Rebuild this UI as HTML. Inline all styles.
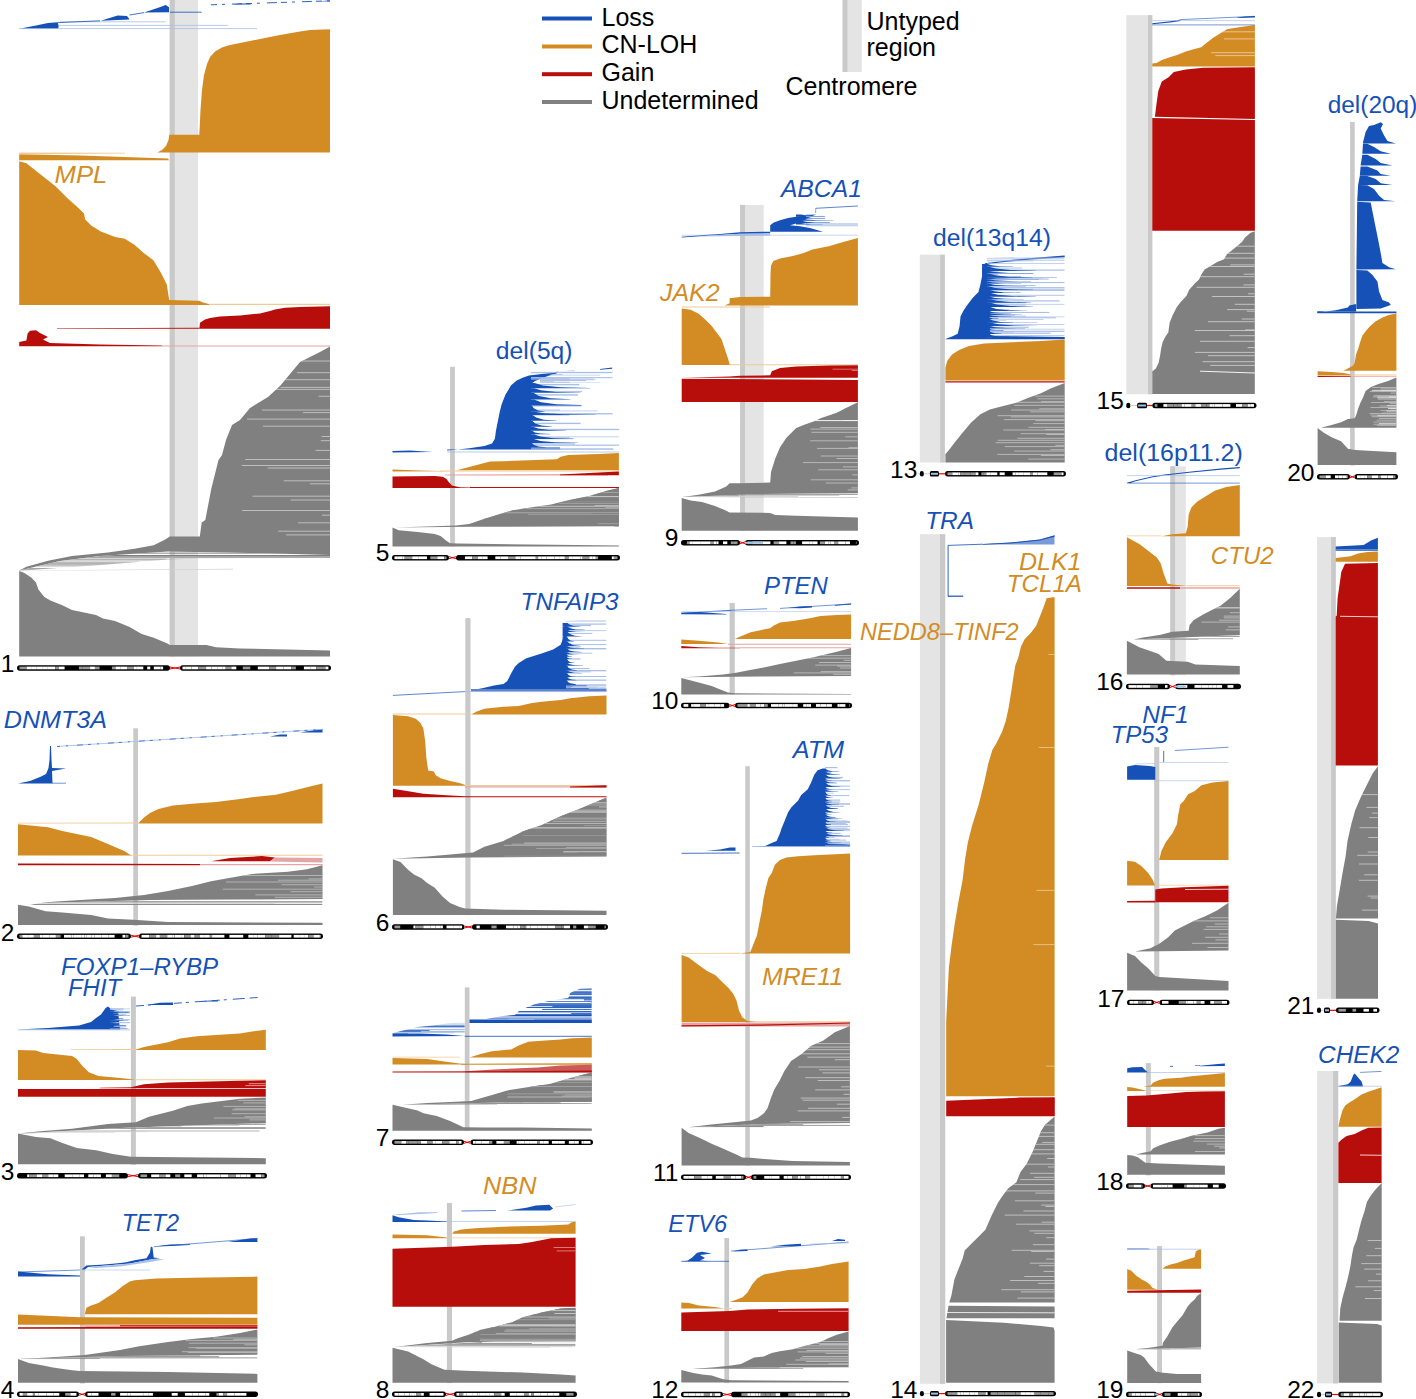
<!DOCTYPE html>
<html><head><meta charset="utf-8"><style>
html,body{margin:0;padding:0;background:#fff;}
svg{display:block;}
text{font-family:"Liberation Sans",sans-serif;}
.n{font-size:24.5px;fill:#000;}
.g{font-size:24.2px;}
.l{font-size:25px;fill:#000;}
</style></head><body>
<svg width="1416" height="1399" viewBox="0 0 1416 1399" shape-rendering="geometricPrecision">
<rect width="1416" height="1399" fill="#fff"/>
<g id="chr1">
<rect x="169.7" y="0" width="28.4" height="656.4" fill="#e4e4e4"/>
<rect x="169.7" y="0" width="5.1" height="656.4" fill="#c9c9c9"/>
<polygon points="19.2,28.8 36,25.5 48,23 57.6,22.3 58.8,26 58,28.8" fill="#1551b6"/>
<polygon points="19.2,570.4 233,568.8 233,569.5 19.2,570.8" fill="#d0d0d0"/>
<polygon points="100.8,20.8 117.6,15.6 127,16 129.6,19.6" fill="#1551b6"/>
<polygon points="144,12.5 159.7,7.2 165.7,5 169,7.2 169,12.2" fill="#1551b6"/>
<polygon points="233,4.6 240,3.6 250,3.4 251,4.4" fill="#1551b6"/>
<polygon points="318,1.2 330,0.4 330,1.6" fill="#1551b6"/>
<polygon points="157.3,152.5 162,150 166,146 168.5,140 169.3,134.7 199.3,134.7 200.5,110 202,90 204,75 207,64 210,57 215,51.6 222,47.5 228,45.5 240,43 260,39 280,35 300,31.5 310,30 330,29.3 330,152.5" fill="#d38c24"/>
<polygon points="19.2,154.2 80,155.4 168,158.6 169,160.3 19.2,160.3" fill="#d38c24"/>
<polygon points="19.2,152.6 125,152.8 125,153.6 19.2,154.2" fill="#edcc98"/>
<polygon points="19.2,161.3 26.4,163.2 38.4,172.8 55.2,186 67.2,198 76.8,206.4 84,213.6 85.2,219.6 91.2,225.6 100.8,231.6 115.2,236.9 124.8,238.8 134.4,244.8 144,253.2 153.6,260.4 160.8,272.4 166.8,284.4 169.2,300 199,300.8 203,302.5 209,304 209,305 19.2,305" fill="#d38c24"/>
<polygon points="209,303.8 330,303.8 330,305 209,305" fill="#edcc98"/>
<polygon points="199.3,328.8 200,322.8 205,319.5 210,318 220,316.6 240,315.6 260,313.4 270,311 275,309.6 285,307.7 300,307 330,306.2 330,328.8" fill="#b80e0b"/>
<polygon points="57,328.2 199.3,327.8 199.3,328.8 57,328.8" fill="#b80e0b"/>
<polygon points="19.2,342 26.4,340.5 27.6,333.6 30,330.7 36,330.3 40,333 48,337 43,339.5 50,343 100,344.5 162,345.6 162,346.3 19.2,346.3" fill="#b80e0b"/>
<polygon points="162,345.6 330,345.6 330,346.4 162,346.4" fill="#e6a4a4"/>
<polygon points="330,346.5 320,352 310,357 300,362 295,368 290,374 280,386 268,397 258,403 250,408 240,420 232,425 226,440 222,455 218.5,460 211.3,488.8 205.3,520 201.7,522.4 199.8,536.4 169.7,536.4 165.7,539.2 153.7,545.2 134.5,548.8 108,552.4 72,556 48,560.8 26.4,566.8 19.2,570.4 60,561 100,556 168,551.5 250,553 330,555" fill="#808080"/>
<clipPath id="lg1_16"><polygon points="19.2,570.4 60,561 100,556 168,551.5 250,553 330,555 330,558 200,558.5 168,559.5 100,565 19.2,570.8"/></clipPath>
<g clip-path="url(#lg1_16)"><rect x="19.2" y="551.5" width="118.4" height="0.6" fill="#808080"/><rect x="19.2" y="552.7" width="286.7" height="0.9" fill="#808080"/><rect x="19.2" y="553.7" width="103.5" height="0.6" fill="#cfcfcf"/><rect x="19.2" y="555" width="310.8" height="1" fill="#808080"/><rect x="19.2" y="556" width="310.8" height="1.1" fill="#a4a4a4"/><rect x="19.2" y="557.1" width="310.8" height="1.1" fill="#a4a4a4"/><rect x="19.2" y="558.2" width="147.2" height="1" fill="#cfcfcf"/><rect x="19.2" y="559.2" width="310.8" height="1" fill="#a4a4a4"/><rect x="19.2" y="560.2" width="238.1" height="1.1" fill="#cfcfcf"/><rect x="19.2" y="561.3" width="119.5" height="1" fill="#cfcfcf"/><rect x="19.2" y="562.3" width="262.3" height="0.9" fill="#a4a4a4"/><rect x="19.2" y="563.2" width="247.4" height="1.1" fill="#a4a4a4"/><rect x="19.2" y="564.2" width="310.8" height="0.6" fill="#a4a4a4"/><rect x="19.2" y="564.9" width="310.8" height="0.8" fill="#a4a4a4"/><rect x="19.2" y="565.6" width="310.8" height="0.8" fill="#cfcfcf"/><rect x="19.2" y="566.4" width="242.3" height="0.7" fill="#cfcfcf"/><rect x="19.2" y="568" width="310.8" height="1" fill="#a4a4a4"/><rect x="19.2" y="569" width="309.6" height="0.9" fill="#a4a4a4"/><rect x="19.2" y="569.9" width="289.5" height="0.7" fill="#cfcfcf"/><rect x="19.2" y="570.6" width="310.8" height="1.1" fill="#a4a4a4"/></g>
<polygon points="19.2,571 24,572.8 31.2,577.6 36,582.4 38.4,589.6 44.4,596.9 50.4,600.5 62.4,605.3 72,610 84,612.5 96,614.9 103,618.5 115,620.9 129.6,626.9 141.7,634 153.7,637.7 168,643.7 169.7,644.9 206.5,644.9 216,647.3 240,648.5 330,650.4 330,656.4 19.2,656.4" fill="#808080"/>
<clipPath id="all1"><polygon points="19.2,28.8 36,25.5 48,23 57.6,22.3 58.8,26 58,28.8"/><polygon points="19.2,570.4 233,568.8 233,569.5 19.2,570.8"/><polygon points="100.8,20.8 117.6,15.6 127,16 129.6,19.6"/><polygon points="144,12.5 159.7,7.2 165.7,5 169,7.2 169,12.2"/><polygon points="233,4.6 240,3.6 250,3.4 251,4.4"/><polygon points="318,1.2 330,0.4 330,1.6"/><polygon points="157.3,152.5 162,150 166,146 168.5,140 169.3,134.7 199.3,134.7 200.5,110 202,90 204,75 207,64 210,57 215,51.6 222,47.5 228,45.5 240,43 260,39 280,35 300,31.5 310,30 330,29.3 330,152.5"/><polygon points="19.2,154.2 80,155.4 168,158.6 169,160.3 19.2,160.3"/><polygon points="19.2,161.3 26.4,163.2 38.4,172.8 55.2,186 67.2,198 76.8,206.4 84,213.6 85.2,219.6 91.2,225.6 100.8,231.6 115.2,236.9 124.8,238.8 134.4,244.8 144,253.2 153.6,260.4 160.8,272.4 166.8,284.4 169.2,300 199,300.8 203,302.5 209,304 209,305 19.2,305"/><polygon points="199.3,328.8 200,322.8 205,319.5 210,318 220,316.6 240,315.6 260,313.4 270,311 275,309.6 285,307.7 300,307 330,306.2 330,328.8"/><polygon points="57,328.2 199.3,327.8 199.3,328.8 57,328.8"/><polygon points="19.2,342 26.4,340.5 27.6,333.6 30,330.7 36,330.3 40,333 48,337 43,339.5 50,343 100,344.5 162,345.6 162,346.3 19.2,346.3"/><polygon points="330,346.5 320,352 310,357 300,362 295,368 290,374 280,386 268,397 258,403 250,408 240,420 232,425 226,440 222,455 218.5,460 211.3,488.8 205.3,520 201.7,522.4 199.8,536.4 169.7,536.4 165.7,539.2 153.7,545.2 134.5,548.8 108,552.4 72,556 48,560.8 26.4,566.8 19.2,570.4 60,561 100,556 168,551.5 250,553 330,555"/><polygon points="19.2,570.4 60,561 100,556 168,551.5 250,553 330,555 330,558 200,558.5 168,559.5 100,565 19.2,570.8"/><polygon points="19.2,571 24,572.8 31.2,577.6 36,582.4 38.4,589.6 44.4,596.9 50.4,600.5 62.4,605.3 72,610 84,612.5 96,614.9 103,618.5 115,620.9 129.6,626.9 141.7,634 153.7,637.7 168,643.7 169.7,644.9 206.5,644.9 216,647.3 240,648.5 330,650.4 330,656.4 19.2,656.4"/></clipPath>
<g clip-path="url(#all1)">
<line x1="273.2" y1="361" x2="330" y2="361" stroke="#d8d8d8" stroke-width="0.7"/>
<line x1="297" y1="372.7" x2="330" y2="372.7" stroke="#d8d8d8" stroke-width="0.7"/>
<line x1="271.2" y1="379.7" x2="330" y2="379.7" stroke="#d8d8d8" stroke-width="0.7"/>
<line x1="280.6" y1="387.4" x2="330" y2="387.4" stroke="#d8d8d8" stroke-width="0.7"/>
<line x1="273.3" y1="389.4" x2="330" y2="389.4" stroke="#d8d8d8" stroke-width="0.7"/>
<line x1="318.6" y1="396.3" x2="330" y2="396.3" stroke="#d8d8d8" stroke-width="0.7"/>
<line x1="261.9" y1="410" x2="330" y2="410" stroke="#d8d8d8" stroke-width="0.7"/>
<line x1="303" y1="412.6" x2="330" y2="412.6" stroke="#d8d8d8" stroke-width="0.7"/>
<line x1="247" y1="419.1" x2="330" y2="419.1" stroke="#d8d8d8" stroke-width="0.7"/>
<line x1="263" y1="426.2" x2="330" y2="426.2" stroke="#d8d8d8" stroke-width="0.7"/>
<line x1="321.5" y1="436.5" x2="330" y2="436.5" stroke="#d8d8d8" stroke-width="0.7"/>
<line x1="320.8" y1="440.7" x2="330" y2="440.7" stroke="#d8d8d8" stroke-width="0.7"/>
<line x1="315.6" y1="450.4" x2="330" y2="450.4" stroke="#d8d8d8" stroke-width="0.7"/>
<line x1="245.2" y1="459.5" x2="330" y2="459.5" stroke="#d8d8d8" stroke-width="0.7"/>
<line x1="241.8" y1="465.5" x2="330" y2="465.5" stroke="#d8d8d8" stroke-width="0.7"/>
<line x1="267.6" y1="468" x2="330" y2="468" stroke="#d8d8d8" stroke-width="0.7"/>
<line x1="283.8" y1="480.8" x2="330" y2="480.8" stroke="#d8d8d8" stroke-width="0.7"/>
<line x1="309.9" y1="483.8" x2="330" y2="483.8" stroke="#d8d8d8" stroke-width="0.7"/>
<line x1="252.5" y1="496.2" x2="330" y2="496.2" stroke="#d8d8d8" stroke-width="0.7"/>
<line x1="290.6" y1="500" x2="330" y2="500" stroke="#d8d8d8" stroke-width="0.7"/>
<line x1="242" y1="510.5" x2="330" y2="510.5" stroke="#d8d8d8" stroke-width="0.7"/>
<line x1="322" y1="515.2" x2="330" y2="515.2" stroke="#d8d8d8" stroke-width="0.7"/>
<line x1="298.1" y1="522.8" x2="330" y2="522.8" stroke="#d8d8d8" stroke-width="0.7"/>
<line x1="278.2" y1="531.2" x2="330" y2="531.2" stroke="#d8d8d8" stroke-width="0.7"/>
<line x1="286.1" y1="534.9" x2="330" y2="534.9" stroke="#d8d8d8" stroke-width="0.7"/>
</g>
<line x1="19.2" y1="28.6" x2="257" y2="28.6" stroke="#a9bfe6" stroke-width="0.8"/>
<line x1="58" y1="25.4" x2="228" y2="25.4" stroke="#a9bfe6" stroke-width="0.8"/>
<line x1="60" y1="21.8" x2="165.7" y2="21.8" stroke="#a9bfe6" stroke-width="0.8"/>
<line x1="170" y1="12.2" x2="201.7" y2="12.2" stroke="#1551b6" stroke-width="0.8"/>
<line x1="58" y1="22.6" x2="100" y2="20.8" stroke="#1551b6" stroke-width="0.8"/>
<line x1="129.6" y1="15" x2="144" y2="12.6" stroke="#1551b6" stroke-width="0.8"/>
<line x1="211" y1="4.8" x2="330" y2="0.8" stroke="#1551b6" stroke-width="0.9" stroke-dasharray="6 5 3 7 10 4"/>
<rect x="17" y="665.3" width="153" height="5.4" rx="2.7" fill="#000"/>
<rect x="19.5" y="666.6" width="7.1" height="2.7" fill="#999"/>
<rect x="26.6" y="666.6" width="4.5" height="2.7" fill="#fff"/>
<rect x="31.1" y="666.6" width="5.1" height="2.7" fill="#fff"/>
<rect x="36.2" y="666.6" width="6.7" height="2.7" fill="#fff"/>
<rect x="42.9" y="666.6" width="4.9" height="2.7" fill="#fff"/>
<rect x="47.7" y="666.6" width="7.4" height="2.7" fill="#fff"/>
<rect x="55.2" y="666.6" width="3.7" height="2.7" fill="#999"/>
<rect x="58.9" y="666.6" width="5.7" height="2.7" fill="#fff"/>
<rect x="78.9" y="666.6" width="3.9" height="2.7" fill="#999"/>
<rect x="82.8" y="666.6" width="7.4" height="2.7" fill="#999"/>
<rect x="90.1" y="666.6" width="4.8" height="2.7" fill="#fff"/>
<rect x="95" y="666.6" width="4.6" height="2.7" fill="#999"/>
<rect x="111.9" y="666.6" width="3.6" height="2.7" fill="#999"/>
<rect x="115.5" y="666.6" width="5.3" height="2.7" fill="#fff"/>
<rect x="120.8" y="666.6" width="6.3" height="2.7" fill="#fff"/>
<rect x="127.1" y="666.6" width="6.9" height="2.7" fill="#999"/>
<rect x="134" y="666.6" width="2" height="2.7" fill="#fff"/>
<rect x="136.1" y="666.6" width="7.2" height="2.7" fill="#fff"/>
<rect x="147.2" y="666.6" width="3.1" height="2.7" fill="#fff"/>
<rect x="153.8" y="666.6" width="6.8" height="2.7" fill="#fff"/>
<rect x="160.6" y="666.6" width="2.5" height="2.7" fill="#fff"/>
<line x1="170" y1="667" x2="180" y2="669" stroke="#e00" stroke-width="1"/>
<line x1="170" y1="669" x2="180" y2="667" stroke="#e00" stroke-width="1"/>
<rect x="180" y="665.3" width="151" height="5.4" rx="2.7" fill="#000"/>
<rect x="182.5" y="666.6" width="2.7" height="2.7" fill="#fff"/>
<rect x="185.2" y="666.6" width="6.2" height="2.7" fill="#fff"/>
<rect x="191.4" y="666.6" width="6.9" height="2.7" fill="#fff"/>
<rect x="198.3" y="666.6" width="7.8" height="2.7" fill="#999"/>
<rect x="206.1" y="666.6" width="5.5" height="2.7" fill="#fff"/>
<rect x="211.6" y="666.6" width="5.6" height="2.7" fill="#fff"/>
<rect x="217.2" y="666.6" width="5.5" height="2.7" fill="#fff"/>
<rect x="222.6" y="666.6" width="3.1" height="2.7" fill="#fff"/>
<rect x="225.8" y="666.6" width="5.7" height="2.7" fill="#999"/>
<rect x="231.4" y="666.6" width="4.9" height="2.7" fill="#fff"/>
<rect x="242.8" y="666.6" width="7.5" height="2.7" fill="#999"/>
<rect x="257.8" y="666.6" width="5.2" height="2.7" fill="#fff"/>
<rect x="263" y="666.6" width="6.2" height="2.7" fill="#fff"/>
<rect x="269.2" y="666.6" width="6.9" height="2.7" fill="#999"/>
<rect x="276.1" y="666.6" width="7.4" height="2.7" fill="#fff"/>
<rect x="283.5" y="666.6" width="7.7" height="2.7" fill="#fff"/>
<rect x="291.2" y="666.6" width="4.7" height="2.7" fill="#999"/>
<rect x="303.9" y="666.6" width="6.8" height="2.7" fill="#fff"/>
<rect x="310.6" y="666.6" width="5.7" height="2.7" fill="#fff"/>
<rect x="316.3" y="666.6" width="5.8" height="2.7" fill="#999"/>
<rect x="322.1" y="666.6" width="3.5" height="2.7" fill="#999"/>
<rect x="325.5" y="666.6" width="2.7" height="2.7" fill="#fff"/>
<rect x="328.2" y="666.6" width="0.3" height="2.7" fill="#fff"/>
<text x="14.5" y="671.5" text-anchor="end" class="n">1</text>
</g>
<g id="chr2">
<rect x="133.3" y="728.3" width="4.7" height="197.4" fill="#c9c9c9"/>
<polygon points="18,783.6 30,781 40,777 46,774 48.5,768 49.5,760 50,746 51,746 51.5,760 52,768 66,768.4 52,771 52.5,783.6" fill="#1551b6"/>
<polygon points="270,736.5 280,734.6 287,734.6 287,736.5" fill="#1551b6"/>
<polygon points="300,732.5 316,729.7 322.5,729 322.5,732.5" fill="#1551b6"/>
<polygon points="138,823.6 144,817.6 150,813 158.5,809 172.9,805.6 192,803.7 216,802 240,799 252,797.2 276,794.8 293,790.8 312,786 322.5,783.6 322.5,823.6" fill="#d38c24"/>
<polygon points="18,822.8 138,822.4 138,823.6 18,823.6" fill="#edcc98"/>
<polygon points="18,824.3 48,827.3 62.4,830.9 91.2,836.9 108,844 124.8,851.3 129.6,854.4 133,855.6 18,855.6" fill="#d38c24"/>
<polygon points="133,854.8 322.5,854.8 322.5,855.8 133,855.8" fill="#edcc98"/>
<polygon points="211,861.3 230,858 262,856 275,857.5 270,861.3" fill="#b80e0b"/>
<polygon points="275,857.5 322.5,858 322.5,862.5 270,861.5" fill="#e6a4a4"/>
<polygon points="18,863.6 200,864 200,865.3 18,865.3" fill="#b80e0b"/>
<polygon points="200,864 322.5,864 322.5,865.3 200,865.3" fill="#e6a4a4"/>
<polygon points="322.5,865.2 307,869.3 288,871.7 252,874 230.5,877.7 211,881.3 192,886 168,891 144,895 115,898 72,900.5 52.8,901.7 40,903 150,900 322.5,899" fill="#808080"/>
<clipPath id="lg2_12"><polygon points="40,903 150,900 322.5,899 322.5,905 30,905"/></clipPath>
<g clip-path="url(#lg2_12)"><rect x="30" y="899" width="228.2" height="1" fill="#cfcfcf"/><rect x="30" y="901.1" width="292.5" height="0.7" fill="#808080"/><rect x="30" y="901.8" width="292.5" height="0.9" fill="#a4a4a4"/><rect x="30" y="902.7" width="292.5" height="0.7" fill="#cfcfcf"/><rect x="30" y="903.4" width="244.7" height="0.7" fill="#cfcfcf"/><rect x="30" y="904.1" width="292.5" height="0.9" fill="#808080"/></g>
<polygon points="18,904.8 28.8,906.5 45.6,911.3 62.4,912.5 91.2,914.9 108,918.5 133.3,919.7 168,922 322.5,922.8 322.5,925 18,925" fill="#808080"/>
<clipPath id="all2"><polygon points="18,783.6 30,781 40,777 46,774 48.5,768 49.5,760 50,746 51,746 51.5,760 52,768 66,768.4 52,771 52.5,783.6"/><polygon points="270,736.5 280,734.6 287,734.6 287,736.5"/><polygon points="300,732.5 316,729.7 322.5,729 322.5,732.5"/><polygon points="138,823.6 144,817.6 150,813 158.5,809 172.9,805.6 192,803.7 216,802 240,799 252,797.2 276,794.8 293,790.8 312,786 322.5,783.6 322.5,823.6"/><polygon points="18,824.3 48,827.3 62.4,830.9 91.2,836.9 108,844 124.8,851.3 129.6,854.4 133,855.6 18,855.6"/><polygon points="211,861.3 230,858 262,856 275,857.5 270,861.3"/><polygon points="18,863.6 200,864 200,865.3 18,865.3"/><polygon points="322.5,865.2 307,869.3 288,871.7 252,874 230.5,877.7 211,881.3 192,886 168,891 144,895 115,898 72,900.5 52.8,901.7 40,903 150,900 322.5,899"/><polygon points="40,903 150,900 322.5,899 322.5,905 30,905"/><polygon points="18,904.8 28.8,906.5 45.6,911.3 62.4,912.5 91.2,914.9 108,918.5 133.3,919.7 168,922 322.5,922.8 322.5,925 18,925"/></clipPath>
<g clip-path="url(#all2)">
<line x1="222.9" y1="875.5" x2="322.5" y2="875.5" stroke="#c8c8c8" stroke-width="0.7"/>
<line x1="308.6" y1="878.9" x2="322.5" y2="878.9" stroke="#c8c8c8" stroke-width="0.7"/>
<line x1="278" y1="880.2" x2="322.5" y2="880.2" stroke="#c8c8c8" stroke-width="0.7"/>
<line x1="226" y1="882" x2="322.5" y2="882" stroke="#c8c8c8" stroke-width="0.7"/>
<line x1="281.4" y1="884.7" x2="322.5" y2="884.7" stroke="#c8c8c8" stroke-width="0.7"/>
<line x1="314.1" y1="887" x2="322.5" y2="887" stroke="#c8c8c8" stroke-width="0.7"/>
<line x1="222.7" y1="889.2" x2="322.5" y2="889.2" stroke="#c8c8c8" stroke-width="0.7"/>
<line x1="290.5" y1="891.7" x2="322.5" y2="891.7" stroke="#c8c8c8" stroke-width="0.7"/>
<line x1="255.4" y1="894.9" x2="322.5" y2="894.9" stroke="#c8c8c8" stroke-width="0.7"/>
<line x1="274.9" y1="897.3" x2="322.5" y2="897.3" stroke="#c8c8c8" stroke-width="0.7"/>
</g>
<line x1="57" y1="746.5" x2="322.5" y2="729.3" stroke="#a9bfe6" stroke-width="0.9"/>
<line x1="57" y1="746.5" x2="322.5" y2="729.3" stroke="#1551b6" stroke-width="0.7" stroke-dasharray="3 6 2 9 6 5"/>
<line x1="52" y1="783.2" x2="66" y2="783.2" stroke="#1551b6" stroke-width="0.6"/>
<rect x="17" y="933.5" width="114" height="5.4" rx="2.7" fill="#000"/>
<rect x="19.5" y="934.9" width="2.8" height="2.7" fill="#999"/>
<rect x="22.3" y="934.9" width="6.6" height="2.7" fill="#fff"/>
<rect x="28.9" y="934.9" width="5" height="2.7" fill="#fff"/>
<rect x="33.9" y="934.9" width="5.9" height="2.7" fill="#999"/>
<rect x="39.8" y="934.9" width="2.6" height="2.7" fill="#fff"/>
<rect x="42.3" y="934.9" width="7" height="2.7" fill="#fff"/>
<rect x="49.3" y="934.9" width="6.6" height="2.7" fill="#fff"/>
<rect x="55.9" y="934.9" width="4.7" height="2.7" fill="#999"/>
<rect x="64" y="934.9" width="7.4" height="2.7" fill="#fff"/>
<rect x="71.4" y="934.9" width="2.2" height="2.7" fill="#fff"/>
<rect x="73.5" y="934.9" width="7.6" height="2.7" fill="#fff"/>
<rect x="81.2" y="934.9" width="3.3" height="2.7" fill="#fff"/>
<rect x="84.5" y="934.9" width="2.2" height="2.7" fill="#fff"/>
<rect x="86.6" y="934.9" width="4.6" height="2.7" fill="#fff"/>
<rect x="91.3" y="934.9" width="3.4" height="2.7" fill="#fff"/>
<rect x="94.7" y="934.9" width="3.3" height="2.7" fill="#fff"/>
<rect x="98" y="934.9" width="3.7" height="2.7" fill="#fff"/>
<rect x="101.7" y="934.9" width="7" height="2.7" fill="#fff"/>
<rect x="108.7" y="934.9" width="5.9" height="2.7" fill="#fff"/>
<rect x="122.5" y="934.9" width="2.7" height="2.7" fill="#fff"/>
<rect x="125.3" y="934.9" width="3.2" height="2.7" fill="#999"/>
<line x1="131" y1="935.2" x2="139" y2="937.2" stroke="#e00" stroke-width="1"/>
<line x1="131" y1="937.2" x2="139" y2="935.2" stroke="#e00" stroke-width="1"/>
<rect x="139" y="933.5" width="184" height="5.4" rx="2.7" fill="#000"/>
<rect x="141.5" y="934.9" width="7.6" height="2.7" fill="#fff"/>
<rect x="149.1" y="934.9" width="7" height="2.7" fill="#999"/>
<rect x="156.1" y="934.9" width="3.8" height="2.7" fill="#fff"/>
<rect x="159.9" y="934.9" width="7.3" height="2.7" fill="#999"/>
<rect x="167.2" y="934.9" width="5" height="2.7" fill="#fff"/>
<rect x="172.2" y="934.9" width="2.2" height="2.7" fill="#fff"/>
<rect x="174.5" y="934.9" width="6.8" height="2.7" fill="#fff"/>
<rect x="181.2" y="934.9" width="3" height="2.7" fill="#fff"/>
<rect x="184.3" y="934.9" width="6.2" height="2.7" fill="#999"/>
<rect x="190.5" y="934.9" width="4.2" height="2.7" fill="#fff"/>
<rect x="194.7" y="934.9" width="5.1" height="2.7" fill="#999"/>
<rect x="199.8" y="934.9" width="5.1" height="2.7" fill="#fff"/>
<rect x="204.9" y="934.9" width="4.9" height="2.7" fill="#fff"/>
<rect x="209.9" y="934.9" width="2.3" height="2.7" fill="#999"/>
<rect x="212.1" y="934.9" width="7.9" height="2.7" fill="#fff"/>
<rect x="220" y="934.9" width="4.4" height="2.7" fill="#fff"/>
<rect x="229.4" y="934.9" width="6.6" height="2.7" fill="#fff"/>
<rect x="236" y="934.9" width="7.2" height="2.7" fill="#fff"/>
<rect x="248.3" y="934.9" width="5.5" height="2.7" fill="#fff"/>
<rect x="253.7" y="934.9" width="3.6" height="2.7" fill="#fff"/>
<rect x="257.3" y="934.9" width="7.7" height="2.7" fill="#fff"/>
<rect x="265.1" y="934.9" width="6.7" height="2.7" fill="#999"/>
<rect x="271.8" y="934.9" width="7.3" height="2.7" fill="#999"/>
<rect x="279.1" y="934.9" width="6.9" height="2.7" fill="#fff"/>
<rect x="286" y="934.9" width="5.4" height="2.7" fill="#fff"/>
<rect x="293.7" y="934.9" width="5.4" height="2.7" fill="#fff"/>
<rect x="299.1" y="934.9" width="5" height="2.7" fill="#fff"/>
<rect x="304.1" y="934.9" width="4.1" height="2.7" fill="#fff"/>
<rect x="308.3" y="934.9" width="5.2" height="2.7" fill="#999"/>
<rect x="313.5" y="934.9" width="5.7" height="2.7" fill="#fff"/>
<rect x="319.2" y="934.9" width="1.3" height="2.7" fill="#fff"/>
<text x="14.5" y="940.5" text-anchor="end" class="n">2</text>
</g>
<g id="chr3">
<rect x="130.9" y="996.6" width="5" height="168.1" fill="#c9c9c9"/>
<polygon points="18,1029.5 48,1028 79,1025.5 91,1022 96,1018 101,1014.5 105.6,1008 108,1006.5 111.6,1009.5 118,1011 120,1029.5" fill="#1551b6"/>
<polygon points="146,1005 160,1002.8 173,1002.6 173,1005" fill="#1551b6"/>
<polygon points="199,1001.5 210,1000.4 218,1000.6 218,1001.5" fill="#1551b6"/>
<polygon points="136,1049.6 144,1047 168,1042.2 180,1038.6 197,1036.2 216,1035 240,1033.4 252,1031.4 265.8,1029.8 265.8,1049.9 136,1049.9" fill="#d38c24"/>
<polygon points="71,1049.2 136,1049 136,1049.9 71,1049.9" fill="#edcc98"/>
<polygon points="18,1049.9 36,1050.6 43.2,1053 72,1056 76.8,1059 81.6,1065 88.8,1072.2 98.4,1075.9 115.2,1077.5 129.7,1079 135,1080 18,1080" fill="#d38c24"/>
<polygon points="135,1079.3 265.8,1079.3 265.8,1080.2 135,1080.2" fill="#edcc98"/>
<polygon points="99.6,1087.8 130.9,1087.2 144,1084.3 168,1082.6 240,1080.7 265.8,1080.3 265.8,1088.2 99.6,1088.2" fill="#b80e0b"/>
<polygon points="18,1088.9 265.8,1088.9 265.8,1096.7 18,1096.7" fill="#b80e0b"/>
<polygon points="265.8,1097.5 240,1098.7 201.7,1103.5 187.3,1105.9 172.9,1110.7 148.9,1116.7 135.9,1122.2 108,1123.9 72,1128.7 43.2,1131 18,1133.5 120,1128 265.8,1123" fill="#808080"/>
<clipPath id="lg3_10"><polygon points="18,1133.5 120,1128 265.8,1123 265.8,1132.3 40,1133"/></clipPath>
<g clip-path="url(#lg3_10)"><rect x="18" y="1123" width="81.1" height="0.7" fill="#cfcfcf"/><rect x="18" y="1123.7" width="247.8" height="1" fill="#808080"/><rect x="18" y="1124.7" width="221.5" height="0.8" fill="#a4a4a4"/><rect x="18" y="1125.5" width="79.7" height="0.8" fill="#808080"/><rect x="18" y="1126.2" width="163.6" height="0.8" fill="#cfcfcf"/><rect x="18" y="1127" width="247.8" height="1.2" fill="#a4a4a4"/><rect x="18" y="1128.2" width="247.8" height="0.7" fill="#808080"/><rect x="18" y="1130.6" width="241.4" height="0.8" fill="#a4a4a4"/><rect x="18" y="1131.4" width="129" height="0.7" fill="#cfcfcf"/><rect x="18" y="1132.7" width="96.6" height="0.7" fill="#a4a4a4"/><rect x="18" y="1133.4" width="101.8" height="1" fill="#808080"/></g>
<polygon points="18,1133.5 24,1134.7 36,1137 50.4,1138.3 62.4,1143 76.8,1147.9 96,1150.3 112.8,1153.9 130.9,1156.8 265.8,1158.2 265.8,1164.2 18,1164.2" fill="#808080"/>
<clipPath id="all3"><polygon points="18,1029.5 48,1028 79,1025.5 91,1022 96,1018 101,1014.5 105.6,1008 108,1006.5 111.6,1009.5 118,1011 120,1029.5"/><polygon points="146,1005 160,1002.8 173,1002.6 173,1005"/><polygon points="199,1001.5 210,1000.4 218,1000.6 218,1001.5"/><polygon points="136,1049.6 144,1047 168,1042.2 180,1038.6 197,1036.2 216,1035 240,1033.4 252,1031.4 265.8,1029.8 265.8,1049.9 136,1049.9"/><polygon points="18,1049.9 36,1050.6 43.2,1053 72,1056 76.8,1059 81.6,1065 88.8,1072.2 98.4,1075.9 115.2,1077.5 129.7,1079 135,1080 18,1080"/><polygon points="99.6,1087.8 130.9,1087.2 144,1084.3 168,1082.6 240,1080.7 265.8,1080.3 265.8,1088.2 99.6,1088.2"/><polygon points="18,1088.9 265.8,1088.9 265.8,1096.7 18,1096.7"/><polygon points="265.8,1097.5 240,1098.7 201.7,1103.5 187.3,1105.9 172.9,1110.7 148.9,1116.7 135.9,1122.2 108,1123.9 72,1128.7 43.2,1131 18,1133.5 120,1128 265.8,1123"/><polygon points="18,1133.5 120,1128 265.8,1123 265.8,1132.3 40,1133"/><polygon points="18,1133.5 24,1134.7 36,1137 50.4,1138.3 62.4,1143 76.8,1147.9 96,1150.3 112.8,1153.9 130.9,1156.8 265.8,1158.2 265.8,1164.2 18,1164.2"/></clipPath>
<g clip-path="url(#all3)">
<line x1="237.5" y1="1100.4" x2="265.8" y2="1100.4" stroke="#c8c8c8" stroke-width="0.7"/>
<line x1="243.3" y1="1102.9" x2="265.8" y2="1102.9" stroke="#c8c8c8" stroke-width="0.7"/>
<line x1="223.4" y1="1106.4" x2="265.8" y2="1106.4" stroke="#c8c8c8" stroke-width="0.7"/>
<line x1="234.4" y1="1108.8" x2="265.8" y2="1108.8" stroke="#c8c8c8" stroke-width="0.7"/>
<line x1="232.2" y1="1109.9" x2="265.8" y2="1109.9" stroke="#c8c8c8" stroke-width="0.7"/>
<line x1="231.6" y1="1113.7" x2="265.8" y2="1113.7" stroke="#c8c8c8" stroke-width="0.7"/>
<line x1="244.7" y1="1116.8" x2="265.8" y2="1116.8" stroke="#c8c8c8" stroke-width="0.7"/>
<line x1="213.8" y1="1118" x2="265.8" y2="1118" stroke="#c8c8c8" stroke-width="0.7"/>
<line x1="249.3" y1="1119.9" x2="265.8" y2="1119.9" stroke="#c8c8c8" stroke-width="0.7"/>
<line x1="248.8" y1="1083.7" x2="265.8" y2="1083.7" stroke="#f0b0b0" stroke-width="0.8"/>
<line x1="245.4" y1="1085.6" x2="265.8" y2="1085.6" stroke="#f0b0b0" stroke-width="0.8"/>
</g>
<clipPath id="clip3_0"><polygon points="110,1008 130,1008 130,1029.5 110,1029.5"/></clipPath>
<g clip-path="url(#clip3_0)"><rect x="110" y="1008" width="13.7" height="0.6" fill="#a9bfe6"/><rect x="110" y="1008.6" width="20" height="0.7" fill="#a9bfe6"/><rect x="110" y="1009.3" width="13.2" height="1.1" fill="#a9bfe6"/><rect x="110" y="1011" width="20" height="1.2" fill="#a9bfe6"/><rect x="110" y="1012.2" width="20" height="1.2" fill="#a9bfe6"/><rect x="110" y="1013.4" width="4.2" height="0.8" fill="#a9bfe6"/><rect x="110" y="1014.9" width="20" height="1.1" fill="#a9bfe6"/><rect x="110" y="1019.2" width="20" height="1" fill="#a9bfe6"/><rect x="110" y="1020.2" width="12.9" height="0.8" fill="#a9bfe6"/><rect x="110" y="1022.1" width="20" height="1.1" fill="#a9bfe6"/><rect x="110" y="1024.9" width="13" height="0.7" fill="#a9bfe6"/><rect x="110" y="1025.6" width="16" height="1.2" fill="#a9bfe6"/><rect x="110" y="1028.3" width="17.1" height="0.7" fill="#a9bfe6"/></g>
<polygon points="108,1010 112.4,1010 113.4,1010.6 115.5,1011 119,1011.1 119,1011.3 108,1011.3" fill="#1551b6"/>
<polygon points="108,1011.3 113,1011.3 115.3,1012 120.3,1012.6 128.6,1012.6 128.6,1012.9 108,1012.9" fill="#1551b6"/>
<polygon points="108,1012.9 112.8,1012.9 114.8,1013.7 119,1014.4 126.1,1014.5 126.1,1014.7 108,1014.7" fill="#1551b6"/>
<polygon points="108,1014.7 112.7,1014.7 114.2,1015.3 117.6,1015.8 123.1,1015.8 123.1,1016.1 108,1016.1" fill="#1551b6"/>
<polygon points="108,1016.1 112.7,1016.1 114.3,1017.1 117.7,1017.9 123.3,1018.1 123.3,1018.4 108,1018.4" fill="#1551b6"/>
<polygon points="108,1018.4 113,1018.4 115.3,1019.5 120.2,1020.3 128.3,1020.5 128.3,1020.8 108,1020.8" fill="#1551b6"/>
<polygon points="108,1020.8 112.2,1020.8 112.8,1021.6 114,1022.1 116,1022.2 116,1022.5 108,1022.5" fill="#1551b6"/>
<polygon points="108,1022.5 112.3,1022.5 113.2,1023.5 114.9,1024.2 117.8,1024.4 117.8,1024.7 108,1024.7" fill="#1551b6"/>
<polygon points="108,1024.7 112.9,1024.7 114.8,1025.2 119.1,1025.6 126.2,1025.6 126.2,1025.9 108,1025.9" fill="#1551b6"/>
<polygon points="108,1025.9 112.9,1025.9 115.1,1026.9 119.9,1027.7 127.7,1027.9 127.7,1028.2 108,1028.2" fill="#1551b6"/>
<line x1="136" y1="1006" x2="258" y2="997.5" stroke="#1551b6" stroke-width="0.9" stroke-dasharray="8 4 3 6 12 5"/>
<line x1="18" y1="1029.8" x2="130" y2="1029.8" stroke="#a9bfe6" stroke-width="0.8"/>
<rect x="17" y="1173" width="111" height="5.4" rx="2.7" fill="#000"/>
<rect x="27.2" y="1174.4" width="2.3" height="2.7" fill="#fff"/>
<rect x="29.6" y="1174.4" width="7" height="2.7" fill="#999"/>
<rect x="36.6" y="1174.4" width="6" height="2.7" fill="#fff"/>
<rect x="42.6" y="1174.4" width="5.6" height="2.7" fill="#999"/>
<rect x="48.2" y="1174.4" width="5.5" height="2.7" fill="#fff"/>
<rect x="53.7" y="1174.4" width="4.6" height="2.7" fill="#fff"/>
<rect x="64.7" y="1174.4" width="7.7" height="2.7" fill="#fff"/>
<rect x="72.3" y="1174.4" width="4.7" height="2.7" fill="#fff"/>
<rect x="77" y="1174.4" width="2.2" height="2.7" fill="#fff"/>
<rect x="79.2" y="1174.4" width="4.8" height="2.7" fill="#fff"/>
<rect x="88.3" y="1174.4" width="5.2" height="2.7" fill="#fff"/>
<rect x="93.5" y="1174.4" width="3.4" height="2.7" fill="#fff"/>
<rect x="96.9" y="1174.4" width="4" height="2.7" fill="#fff"/>
<rect x="105.9" y="1174.4" width="6" height="2.7" fill="#fff"/>
<rect x="111.9" y="1174.4" width="7.4" height="2.7" fill="#999"/>
<line x1="128" y1="1174.7" x2="138" y2="1176.7" stroke="#e00" stroke-width="1"/>
<line x1="128" y1="1176.7" x2="138" y2="1174.7" stroke="#e00" stroke-width="1"/>
<rect x="138" y="1173" width="129" height="5.4" rx="2.7" fill="#000"/>
<rect x="140.5" y="1174.4" width="6.6" height="2.7" fill="#999"/>
<rect x="151.2" y="1174.4" width="7.8" height="2.7" fill="#fff"/>
<rect x="159" y="1174.4" width="6.5" height="2.7" fill="#999"/>
<rect x="165.5" y="1174.4" width="4.8" height="2.7" fill="#fff"/>
<rect x="175.2" y="1174.4" width="5" height="2.7" fill="#999"/>
<rect x="184.3" y="1174.4" width="7.4" height="2.7" fill="#fff"/>
<rect x="197.1" y="1174.4" width="6.3" height="2.7" fill="#fff"/>
<rect x="203.5" y="1174.4" width="3.3" height="2.7" fill="#fff"/>
<rect x="206.8" y="1174.4" width="6.2" height="2.7" fill="#fff"/>
<rect x="213" y="1174.4" width="7.4" height="2.7" fill="#fff"/>
<rect x="220.5" y="1174.4" width="7.5" height="2.7" fill="#fff"/>
<rect x="227.9" y="1174.4" width="7.7" height="2.7" fill="#999"/>
<rect x="235.7" y="1174.4" width="5" height="2.7" fill="#fff"/>
<rect x="240.7" y="1174.4" width="5.9" height="2.7" fill="#fff"/>
<rect x="246.6" y="1174.4" width="3.9" height="2.7" fill="#fff"/>
<rect x="255.5" y="1174.4" width="5.7" height="2.7" fill="#fff"/>
<rect x="261.3" y="1174.4" width="3.2" height="2.7" fill="#999"/>
<text x="14.5" y="1179.5" text-anchor="end" class="n">3</text>
</g>
<g id="chr4">
<rect x="80" y="1236.3" width="4.8" height="147.2" fill="#c9c9c9"/>
<polygon points="18,1271.4 48,1274.2 80,1275.6 80,1276.6 18,1276.6" fill="#1551b6"/>
<polygon points="81.6,1269.4 86.4,1265.4 100.8,1264.8 112.8,1263.8 124.8,1262.6 134.5,1260.2 146.5,1258.2 150,1252.6 150.8,1246.6 152.5,1247.3 153.7,1257.4 160,1258.2 153,1259 130,1263.6 100,1266 88,1267 85,1269.5" fill="#1551b6"/>
<polygon points="88,1267 100,1266 130,1263.6 153,1259 165,1259.2 150,1262 120,1266.5 95,1268" fill="#a9bfe6"/>
<polygon points="158,1246 170,1244.5 190,1244.2 190,1245 170,1246" fill="#1551b6"/>
<polygon points="228,1242 240,1240 250,1238.6 257.4,1238.2 257.4,1242" fill="#1551b6"/>
<polygon points="84.8,1314.3 86.4,1307.8 91.2,1305.4 98.4,1303 105.6,1298.2 115.2,1292.2 122.4,1286.2 129.7,1281.4 134.5,1280.2 156,1278.6 192,1277.8 257.4,1276.6 257.4,1314.3" fill="#d38c24"/>
<polygon points="18,1314.6 80,1317.3 257.4,1317.8 257.4,1324.7 18,1324.7" fill="#d38c24"/>
<polygon points="85,1325.3 257.4,1325.3 257.4,1327.2 85,1327.2" fill="#e6a4a4"/>
<polygon points="18,1327.2 257.4,1326.6 257.4,1328.8 18,1328.8" fill="#b80e0b"/>
<polygon points="120,1325.3 257.4,1325.3 257.4,1326.2 120,1326.2" fill="#b80e0b"/>
<polygon points="257.4,1329.5 240,1333 216,1336.7 192,1339 168,1342 139.3,1346.3 120,1349.9 100.8,1352.7 84.8,1355.1 48,1357.5 18,1359 120,1356 257.4,1354.7" fill="#808080"/>
<clipPath id="lg4_11"><polygon points="18,1359 120,1356 257.4,1354.7 257.4,1359 30,1359.3"/></clipPath>
<g clip-path="url(#lg4_11)"><rect x="18" y="1354.7" width="80.3" height="0.7" fill="#a4a4a4"/><rect x="18" y="1355.4" width="182.1" height="0.9" fill="#808080"/><rect x="18" y="1356.3" width="201.1" height="1.1" fill="#808080"/><rect x="18" y="1357.3" width="239.4" height="1.1" fill="#a4a4a4"/><rect x="18" y="1358.4" width="81.8" height="0.8" fill="#808080"/></g>
<polygon points="18,1359 28.8,1363 43.2,1365.5 52.8,1367.4 72,1370.3 80,1371 168,1372 257.4,1373.9 257.4,1382.8 18,1382.8" fill="#808080"/>
<clipPath id="all4"><polygon points="18,1271.4 48,1274.2 80,1275.6 80,1276.6 18,1276.6"/><polygon points="81.6,1269.4 86.4,1265.4 100.8,1264.8 112.8,1263.8 124.8,1262.6 134.5,1260.2 146.5,1258.2 150,1252.6 150.8,1246.6 152.5,1247.3 153.7,1257.4 160,1258.2 153,1259 130,1263.6 100,1266 88,1267 85,1269.5"/><polygon points="88,1267 100,1266 130,1263.6 153,1259 165,1259.2 150,1262 120,1266.5 95,1268"/><polygon points="158,1246 170,1244.5 190,1244.2 190,1245 170,1246"/><polygon points="228,1242 240,1240 250,1238.6 257.4,1238.2 257.4,1242"/><polygon points="84.8,1314.3 86.4,1307.8 91.2,1305.4 98.4,1303 105.6,1298.2 115.2,1292.2 122.4,1286.2 129.7,1281.4 134.5,1280.2 156,1278.6 192,1277.8 257.4,1276.6 257.4,1314.3"/><polygon points="18,1314.6 80,1317.3 257.4,1317.8 257.4,1324.7 18,1324.7"/><polygon points="18,1327.2 257.4,1326.6 257.4,1328.8 18,1328.8"/><polygon points="120,1325.3 257.4,1325.3 257.4,1326.2 120,1326.2"/><polygon points="257.4,1329.5 240,1333 216,1336.7 192,1339 168,1342 139.3,1346.3 120,1349.9 100.8,1352.7 84.8,1355.1 48,1357.5 18,1359 120,1356 257.4,1354.7"/><polygon points="18,1359 120,1356 257.4,1354.7 257.4,1359 30,1359.3"/><polygon points="18,1359 28.8,1363 43.2,1365.5 52.8,1367.4 72,1370.3 80,1371 168,1372 257.4,1373.9 257.4,1382.8 18,1382.8"/></clipPath>
<g clip-path="url(#all4)">
<line x1="213" y1="1338" x2="257.4" y2="1338" stroke="#c8c8c8" stroke-width="0.7"/>
<line x1="233.2" y1="1339.4" x2="257.4" y2="1339.4" stroke="#c8c8c8" stroke-width="0.7"/>
<line x1="185.6" y1="1340.4" x2="257.4" y2="1340.4" stroke="#c8c8c8" stroke-width="0.7"/>
<line x1="188.8" y1="1343.2" x2="257.4" y2="1343.2" stroke="#c8c8c8" stroke-width="0.7"/>
<line x1="244.4" y1="1344.8" x2="257.4" y2="1344.8" stroke="#c8c8c8" stroke-width="0.7"/>
<line x1="188.6" y1="1347.7" x2="257.4" y2="1347.7" stroke="#c8c8c8" stroke-width="0.7"/>
<line x1="196.1" y1="1348.2" x2="257.4" y2="1348.2" stroke="#c8c8c8" stroke-width="0.7"/>
<line x1="181.8" y1="1351.7" x2="257.4" y2="1351.7" stroke="#c8c8c8" stroke-width="0.7"/>
<line x1="187.8" y1="1352.5" x2="257.4" y2="1352.5" stroke="#c8c8c8" stroke-width="0.7"/>
</g>
<line x1="18" y1="1272" x2="80" y2="1270" stroke="#1551b6" stroke-width="0.6"/>
<line x1="153.7" y1="1246.8" x2="257.4" y2="1238.5" stroke="#1551b6" stroke-width="0.6"/>
<line x1="84" y1="1270" x2="150" y2="1270" stroke="#a9bfe6" stroke-width="0.6"/>
<rect x="17" y="1391.6" width="62" height="5.4" rx="2.7" fill="#000"/>
<rect x="19.5" y="1393" width="3.4" height="2.7" fill="#fff"/>
<rect x="22.9" y="1393" width="4.2" height="2.7" fill="#999"/>
<rect x="27.1" y="1393" width="5.8" height="2.7" fill="#fff"/>
<rect x="32.9" y="1393" width="2.1" height="2.7" fill="#999"/>
<rect x="35" y="1393" width="3.6" height="2.7" fill="#fff"/>
<rect x="38.5" y="1393" width="8" height="2.7" fill="#fff"/>
<rect x="46.5" y="1393" width="7" height="2.7" fill="#fff"/>
<rect x="53.5" y="1393" width="5.8" height="2.7" fill="#fff"/>
<rect x="65.2" y="1393" width="5.1" height="2.7" fill="#999"/>
<rect x="70.3" y="1393" width="6" height="2.7" fill="#fff"/>
<rect x="76.3" y="1393" width="0.2" height="2.7" fill="#fff"/>
<line x1="79" y1="1393.3" x2="85" y2="1395.3" stroke="#e00" stroke-width="1"/>
<line x1="79" y1="1395.3" x2="85" y2="1393.3" stroke="#e00" stroke-width="1"/>
<rect x="85" y="1391.6" width="173" height="5.4" rx="2.7" fill="#000"/>
<rect x="87.5" y="1393" width="3.8" height="2.7" fill="#fff"/>
<rect x="91.3" y="1393" width="7.2" height="2.7" fill="#fff"/>
<rect x="111.1" y="1393" width="4.4" height="2.7" fill="#999"/>
<rect x="120.1" y="1393" width="7.3" height="2.7" fill="#fff"/>
<rect x="127.4" y="1393" width="2.8" height="2.7" fill="#fff"/>
<rect x="130.2" y="1393" width="7.8" height="2.7" fill="#fff"/>
<rect x="138" y="1393" width="5.8" height="2.7" fill="#fff"/>
<rect x="143.8" y="1393" width="5" height="2.7" fill="#fff"/>
<rect x="148.8" y="1393" width="4.1" height="2.7" fill="#fff"/>
<rect x="171.7" y="1393" width="6" height="2.7" fill="#fff"/>
<rect x="184.9" y="1393" width="7.4" height="2.7" fill="#fff"/>
<rect x="192.3" y="1393" width="6.3" height="2.7" fill="#fff"/>
<rect x="198.6" y="1393" width="7" height="2.7" fill="#fff"/>
<rect x="205.6" y="1393" width="3.7" height="2.7" fill="#fff"/>
<rect x="216.4" y="1393" width="2.5" height="2.7" fill="#999"/>
<rect x="218.9" y="1393" width="4.5" height="2.7" fill="#fff"/>
<rect x="223.4" y="1393" width="3.8" height="2.7" fill="#999"/>
<rect x="227.1" y="1393" width="7.2" height="2.7" fill="#fff"/>
<rect x="234.4" y="1393" width="5.7" height="2.7" fill="#fff"/>
<rect x="240.1" y="1393" width="6.3" height="2.7" fill="#fff"/>
<text x="14.5" y="1397.5" text-anchor="end" class="n">4</text>
</g>
<g id="chr5">
<rect x="450.1" y="366.8" width="4.8" height="179.6" fill="#c9c9c9"/>
<polygon points="392.5,451 410,450.5 421,451.3 433,452 392.5,452.6" fill="#1551b6"/>
<polygon points="447.2,450.5 455.8,449.8 469.2,448.2 484.4,446 492,443.5 494.9,438.7 495.9,431 497.8,421.5 499.7,412 501.6,404.4 505.4,394.8 511.1,385.3 516.8,380.5 522.6,377.7 529,375.5 541.6,374 551.7,373 557.8,371.5 556,373.5 545,377 535,381 531,384 531,447.5 560,447.5 560,449.6 447.2,449.6" fill="#1551b6"/>
<polygon points="600,369 612.2,367.6 612.2,368.8 600,369.8" fill="#1551b6"/>
<polygon points="456.8,470.2 469.2,466.9 478.7,464.4 490.1,461.6 503.5,461.2 528.3,460.2 556.9,459.3 560.7,456.8 568.3,454.9 598.8,454 618.9,453 618.9,470.2" fill="#d38c24"/>
<polygon points="392.5,469.6 420,470.4 450,471.3 392.5,471.6" fill="#d38c24"/>
<polygon points="440,470.6 618.9,470.6 618.9,471.5 440,471.5" fill="#edcc98"/>
<polygon points="445,474.4 608,474 608,475.5 445,475.5" fill="#e6a4a4"/>
<polygon points="560,474.5 608.4,472 618.9,471.5 618.9,475.3 560,475.3" fill="#b80e0b"/>
<polygon points="392.5,476.5 434.8,475.9 442.5,476.8 446.3,478.7 449.1,482.6 452,485.4 459.6,487.3 470,487.4 470,488 392.5,488" fill="#b80e0b"/>
<polygon points="470,487 618.9,487 618.9,487.9 470,487.9" fill="#b80e0b"/>
<polygon points="618.9,487.9 608.4,490.2 589.3,495.9 570.2,499.7 551.2,504.5 532.1,507.3 513,510.2 499.7,514 484.4,518.8 469.2,524.1 455.8,525.5 427.2,526.4 394.8,527.4 470,526.8 618.9,526.3" fill="#808080"/>
<polygon points="392.5,527.6 398.6,530.2 417.7,532.1 434.8,534 440.6,536 446.3,540.7 450.1,543.2 457.7,543.6 618.9,545.5 618.9,546.4 392.5,546.4" fill="#808080"/>
<clipPath id="all5"><polygon points="392.5,451 410,450.5 421,451.3 433,452 392.5,452.6"/><polygon points="447.2,450.5 455.8,449.8 469.2,448.2 484.4,446 492,443.5 494.9,438.7 495.9,431 497.8,421.5 499.7,412 501.6,404.4 505.4,394.8 511.1,385.3 516.8,380.5 522.6,377.7 529,375.5 541.6,374 551.7,373 557.8,371.5 556,373.5 545,377 535,381 531,384 531,447.5 560,447.5 560,449.6 447.2,449.6"/><polygon points="600,369 612.2,367.6 612.2,368.8 600,369.8"/><polygon points="456.8,470.2 469.2,466.9 478.7,464.4 490.1,461.6 503.5,461.2 528.3,460.2 556.9,459.3 560.7,456.8 568.3,454.9 598.8,454 618.9,453 618.9,470.2"/><polygon points="392.5,469.6 420,470.4 450,471.3 392.5,471.6"/><polygon points="560,474.5 608.4,472 618.9,471.5 618.9,475.3 560,475.3"/><polygon points="392.5,476.5 434.8,475.9 442.5,476.8 446.3,478.7 449.1,482.6 452,485.4 459.6,487.3 470,487.4 470,488 392.5,488"/><polygon points="470,487 618.9,487 618.9,487.9 470,487.9"/><polygon points="618.9,487.9 608.4,490.2 589.3,495.9 570.2,499.7 551.2,504.5 532.1,507.3 513,510.2 499.7,514 484.4,518.8 469.2,524.1 455.8,525.5 427.2,526.4 394.8,527.4 470,526.8 618.9,526.3"/><polygon points="392.5,527.6 398.6,530.2 417.7,532.1 434.8,534 440.6,536 446.3,540.7 450.1,543.2 457.7,543.6 618.9,545.5 618.9,546.4 392.5,546.4"/></clipPath>
<g clip-path="url(#all5)">
</g>
<clipPath id="clip5_0"><polygon points="531,371 619,371 619,450.5 531,450.5"/></clipPath>
<g clip-path="url(#clip5_0)"><rect x="531" y="371.9" width="81.5" height="1.3" fill="#a9bfe6"/><rect x="531" y="377.1" width="81.5" height="1.1" fill="#a9bfe6"/><rect x="531" y="378.3" width="38.6" height="1.2" fill="#a9bfe6"/><rect x="531" y="383.9" width="48.4" height="1.4" fill="#a9bfe6"/><rect x="531" y="385.3" width="10.4" height="0.8" fill="#a9bfe6"/><rect x="531" y="390.9" width="51" height="1" fill="#a9bfe6"/><rect x="531" y="394.2" width="47.1" height="1.4" fill="#a9bfe6"/><rect x="531" y="405.2" width="50.3" height="1.3" fill="#a9bfe6"/><rect x="531" y="407.6" width="0.5" height="1.2" fill="#a9bfe6"/><rect x="531" y="409.6" width="28.9" height="1" fill="#a9bfe6"/><rect x="531" y="410.6" width="66.5" height="0.7" fill="#a9bfe6"/><rect x="531" y="413.1" width="81.6" height="1.3" fill="#a9bfe6"/><rect x="531" y="414.4" width="38.3" height="1.1" fill="#a9bfe6"/><rect x="531" y="422.7" width="49.7" height="1.4" fill="#a9bfe6"/><rect x="531" y="428.8" width="88" height="1.3" fill="#a9bfe6"/><rect x="531" y="436.5" width="88" height="0.7" fill="#a9bfe6"/><rect x="531" y="437.3" width="38.5" height="1" fill="#a9bfe6"/><rect x="531" y="438.3" width="42.3" height="0.9" fill="#a9bfe6"/><rect x="531" y="443.3" width="44.1" height="1.2" fill="#a9bfe6"/><rect x="531" y="444.6" width="88" height="1.2" fill="#a9bfe6"/><rect x="531" y="448.2" width="82" height="0.7" fill="#a9bfe6"/><rect x="531" y="449" width="82.8" height="0.8" fill="#a9bfe6"/></g>
<clipPath id="clip5_1"><polygon points="540,379 557.8,371.5 585,369.5 600,369 600,383 540,383"/></clipPath>
<g clip-path="url(#clip5_1)"><rect x="540" y="369" width="29" height="1.1" fill="#a9bfe6"/><rect x="540" y="370.1" width="34.6" height="1.1" fill="#a9bfe6"/><rect x="540" y="372.6" width="16.4" height="0.9" fill="#1551b6"/><rect x="540" y="374.1" width="22.6" height="0.7" fill="#a9bfe6"/><rect x="540" y="374.8" width="60" height="0.6" fill="#a9bfe6"/><rect x="540" y="377.7" width="14.1" height="0.9" fill="#a9bfe6"/><rect x="540" y="378.6" width="53.7" height="0.8" fill="#a9bfe6"/><rect x="540" y="379.4" width="55.4" height="0.8" fill="#a9bfe6"/><rect x="540" y="380.1" width="46" height="1" fill="#a9bfe6"/><rect x="540" y="381.2" width="13.8" height="0.6" fill="#a9bfe6"/><rect x="540" y="381.8" width="29.8" height="0.8" fill="#a9bfe6"/><rect x="540" y="382.6" width="60" height="0.8" fill="#a9bfe6"/></g>
<clipPath id="clip5_2"><polygon points="618.9,487.9 589.3,495.9 551.2,504.5 513,510.2 484.4,518.8 484.4,526.4 618.9,526.4"/></clipPath>
<g clip-path="url(#clip5_2)"><rect x="549.5" y="487.9" width="69.4" height="1.4" fill="#808080"/><rect x="505.8" y="489.3" width="113.1" height="1.4" fill="#808080"/><rect x="484.4" y="490.6" width="134.5" height="1.4" fill="#808080"/><rect x="484.4" y="492" width="134.5" height="0.9" fill="#a6a6a6"/><rect x="484.4" y="493" width="134.5" height="1" fill="#808080"/><rect x="484.4" y="494" width="134.5" height="0.8" fill="#808080"/><rect x="605.2" y="494.8" width="13.7" height="1.2" fill="#808080"/><rect x="574.7" y="496" width="44.2" height="1.3" fill="#c4c4c4"/><rect x="484.4" y="497.3" width="134.5" height="1.3" fill="#808080"/><rect x="484.4" y="498.7" width="134.5" height="1.1" fill="#808080"/><rect x="593.7" y="499.7" width="25.2" height="0.8" fill="#808080"/><rect x="484.4" y="500.5" width="134.5" height="1.2" fill="#808080"/><rect x="545.8" y="501.7" width="73.1" height="0.7" fill="#a6a6a6"/><rect x="484.4" y="502.4" width="134.5" height="0.8" fill="#808080"/><rect x="559" y="503.2" width="59.9" height="0.8" fill="#a6a6a6"/><rect x="589.4" y="504" width="29.5" height="1" fill="#808080"/><rect x="594.7" y="505" width="24.2" height="0.8" fill="#c4c4c4"/><rect x="516.5" y="505.8" width="102.4" height="1" fill="#c4c4c4"/><rect x="605.4" y="506.8" width="13.5" height="1.2" fill="#a6a6a6"/><rect x="484.4" y="508" width="134.5" height="1.1" fill="#a6a6a6"/><rect x="605.8" y="509" width="13.1" height="1.2" fill="#808080"/><rect x="484.4" y="510.2" width="134.5" height="1" fill="#808080"/><rect x="566.4" y="511.2" width="52.5" height="1.1" fill="#808080"/><rect x="484.4" y="512.2" width="134.5" height="1.1" fill="#a6a6a6"/><rect x="591.1" y="513.3" width="27.8" height="1" fill="#808080"/><rect x="527.9" y="514.3" width="91" height="0.8" fill="#a6a6a6"/><rect x="495.2" y="515.1" width="123.7" height="0.8" fill="#808080"/><rect x="603.7" y="515.9" width="15.2" height="1.2" fill="#808080"/><rect x="527" y="517.2" width="91.9" height="1.3" fill="#808080"/><rect x="484.4" y="518.5" width="134.5" height="1.3" fill="#808080"/><rect x="484.4" y="519.8" width="134.5" height="1" fill="#808080"/><rect x="484.4" y="520.8" width="134.5" height="1.2" fill="#808080"/><rect x="576.4" y="522" width="42.5" height="1.4" fill="#808080"/><rect x="597.6" y="523.3" width="21.3" height="1.1" fill="#a6a6a6"/><rect x="552.6" y="524.4" width="66.3" height="1.2" fill="#808080"/><rect x="614.4" y="525.6" width="4.5" height="1.3" fill="#808080"/></g>
<polygon points="527,383 534.6,383 542.8,385.4 560.6,387.2 590.2,388 590.2,388.3 527,388.3" fill="#1551b6"/>
<polygon points="527,388.3 534,388.3 540.9,390.3 555.9,391.9 580.7,392.6 580.7,392.8 527,392.8" fill="#1551b6"/>
<polygon points="527,392.8 533.4,392.8 538.9,395.9 550.8,398.2 570.6,399.3 570.6,399.5 527,399.5" fill="#1551b6"/>
<polygon points="527,399.5 534,399.5 541.1,402.2 556.3,404.2 581.6,405.1 581.6,405.4 527,405.4" fill="#1551b6"/>
<polygon points="527,405.4 531.8,405.4 533.8,408.2 538,410.4 544.9,411.5 544.9,411.7 527,411.7" fill="#1551b6"/>
<polygon points="527,411.7 534.9,411.7 544,413.2 563.4,414.3 595.8,414.7 595.8,415 527,415" fill="#1551b6"/>
<polygon points="527,415 532.5,415 536.2,417.6 543.9,419.7 556.8,420.6 556.8,420.8 527,420.8" fill="#1551b6"/>
<polygon points="527,420.8 532.3,420.8 535.2,423.5 541.5,425.5 552,426.4 552,426.7 527,426.7" fill="#1551b6"/>
<polygon points="527,426.7 533.1,426.7 538.1,428.5 548.7,430 566.4,430.5 566.4,430.8 527,430.8" fill="#1551b6"/>
<polygon points="527,430.8 532.2,430.8 534.9,432.4 540.7,433.6 550.3,434.1 550.3,434.3 527,434.3" fill="#1551b6"/>
<polygon points="527,434.3 533.8,434.3 540.3,436.5 554.1,438.2 577.3,438.9 577.3,439.1 527,439.1" fill="#1551b6"/>
<polygon points="527,439.1 533.8,439.1 540.4,440.9 554.5,442.3 578,442.8 578,443 527,443" fill="#1551b6"/>
<polygon points="527,443 531.9,443 534,445 538.5,446.6 545.9,447.2 545.9,447.5 527,447.5" fill="#1551b6"/>
<line x1="447" y1="452" x2="618.9" y2="452" stroke="#a9bfe6" stroke-width="0.8"/>
<rect x="392" y="555" width="57" height="5.4" rx="2.7" fill="#000"/>
<rect x="394.5" y="556.4" width="3.4" height="2.7" fill="#fff"/>
<rect x="397.9" y="556.4" width="4.4" height="2.7" fill="#fff"/>
<rect x="402.3" y="556.4" width="2.4" height="2.7" fill="#fff"/>
<rect x="404.7" y="556.4" width="7.5" height="2.7" fill="#999"/>
<rect x="412.2" y="556.4" width="6.6" height="2.7" fill="#fff"/>
<rect x="418.8" y="556.4" width="5.2" height="2.7" fill="#fff"/>
<rect x="424" y="556.4" width="3" height="2.7" fill="#fff"/>
<rect x="430.3" y="556.4" width="7" height="2.7" fill="#999"/>
<rect x="437.3" y="556.4" width="6.8" height="2.7" fill="#fff"/>
<rect x="444.1" y="556.4" width="2.4" height="2.7" fill="#999"/>
<line x1="449" y1="556.7" x2="456" y2="558.7" stroke="#e00" stroke-width="1"/>
<line x1="449" y1="558.7" x2="456" y2="556.7" stroke="#e00" stroke-width="1"/>
<rect x="456" y="555" width="164" height="5.4" rx="2.7" fill="#000"/>
<rect x="464.9" y="556.4" width="7.3" height="2.7" fill="#fff"/>
<rect x="472.2" y="556.4" width="5.6" height="2.7" fill="#999"/>
<rect x="477.8" y="556.4" width="5" height="2.7" fill="#fff"/>
<rect x="482.8" y="556.4" width="4.8" height="2.7" fill="#fff"/>
<rect x="495.3" y="556.4" width="5.3" height="2.7" fill="#fff"/>
<rect x="500.6" y="556.4" width="7.5" height="2.7" fill="#fff"/>
<rect x="508" y="556.4" width="7.3" height="2.7" fill="#999"/>
<rect x="515.3" y="556.4" width="5.1" height="2.7" fill="#fff"/>
<rect x="520.4" y="556.4" width="5.6" height="2.7" fill="#fff"/>
<rect x="526" y="556.4" width="3" height="2.7" fill="#fff"/>
<rect x="528.9" y="556.4" width="6.9" height="2.7" fill="#fff"/>
<rect x="535.8" y="556.4" width="2.3" height="2.7" fill="#999"/>
<rect x="538.1" y="556.4" width="3.7" height="2.7" fill="#fff"/>
<rect x="541.8" y="556.4" width="4.8" height="2.7" fill="#fff"/>
<rect x="546.6" y="556.4" width="8" height="2.7" fill="#fff"/>
<rect x="554.6" y="556.4" width="4.5" height="2.7" fill="#fff"/>
<rect x="559.1" y="556.4" width="5.8" height="2.7" fill="#fff"/>
<rect x="564.9" y="556.4" width="4.1" height="2.7" fill="#999"/>
<rect x="569" y="556.4" width="3.9" height="2.7" fill="#fff"/>
<rect x="572.9" y="556.4" width="7.4" height="2.7" fill="#fff"/>
<rect x="580.3" y="556.4" width="2.4" height="2.7" fill="#fff"/>
<rect x="582.7" y="556.4" width="6.6" height="2.7" fill="#999"/>
<rect x="589.3" y="556.4" width="3.4" height="2.7" fill="#fff"/>
<rect x="592.7" y="556.4" width="3.1" height="2.7" fill="#fff"/>
<rect x="595.8" y="556.4" width="2.3" height="2.7" fill="#999"/>
<rect x="611.8" y="556.4" width="2.1" height="2.7" fill="#fff"/>
<rect x="613.9" y="556.4" width="3.6" height="2.7" fill="#999"/>
<text x="389.5" y="561" text-anchor="end" class="n">5</text>
</g>
<g id="chr6">
<rect x="465.3" y="618.1" width="5.2" height="297" fill="#c9c9c9"/>
<polygon points="471.1,690.6 484.4,687.7 494,685.5 503.5,683.9 507.3,681.1 511.1,673.4 514.9,666.8 518.7,663 526.4,658.2 541.6,653.4 553.1,649.6 560.7,644.8 563.6,637.2 564.5,625.8 566.4,622.9 568,623 566.5,630 566.6,684 571,684 571,689 471.1,689" fill="#1551b6"/>
<polygon points="471.1,689 606.5,689 606.5,691.8 471.1,691.8" fill="#5d83cc"/>
<polygon points="471.1,714.4 476.8,711.6 484.4,708.7 503.5,706.8 518.7,705.9 532.1,703 541.6,701.7 560.7,700.1 570.2,698.2 589.3,696.3 606.5,695.4 606.5,714.4" fill="#d38c24"/>
<polygon points="392.9,713.6 471.1,713.6 471.1,714.5 392.9,714.5" fill="#edcc98"/>
<polygon points="392.9,715 408.1,716.2 415.8,718.7 420.5,722.9 423.4,728.6 425.3,742 426.3,757.2 428.2,770.6 433.9,771.5 435.8,775.3 440.6,778.2 450.1,781 459.6,783 465.3,784.9 470,785.8 392.9,785.8" fill="#d38c24"/>
<polygon points="465,785 606.5,785 606.5,785.9 465,785.9" fill="#edcc98"/>
<polygon points="465,786.2 606.5,786.2 606.5,787.4 465,787.4" fill="#e6a4a4"/>
<polygon points="570,786.5 606.5,785.2 606.5,787.6 570,787.6" fill="#b80e0b"/>
<polygon points="392.9,788.7 410,791.5 423.4,793.8 446.3,795.3 465.3,796.3 606.5,796.3 606.5,797.3 392.9,797.3" fill="#b80e0b"/>
<polygon points="606.5,797.6 579.8,808.7 560.7,816.3 541.6,824.9 522.6,831.6 503.5,841.1 484.4,846.8 473,852.6 455.8,854.1 427.2,856.4 392.9,858.7 470,857.5 606.5,856.4" fill="#808080"/>
<polygon points="392.9,859.2 400.5,862.1 408.1,869.7 413.9,874.5 421.5,878.3 427.2,883.1 434.8,887.8 442.5,896.4 450.1,903.1 459.6,906.9 465.3,908.4 503.5,909.8 606.5,910.7 606.5,915.1 392.9,915.1" fill="#808080"/>
<clipPath id="all6"><polygon points="471.1,690.6 484.4,687.7 494,685.5 503.5,683.9 507.3,681.1 511.1,673.4 514.9,666.8 518.7,663 526.4,658.2 541.6,653.4 553.1,649.6 560.7,644.8 563.6,637.2 564.5,625.8 566.4,622.9 568,623 566.5,630 566.6,684 571,684 571,689 471.1,689"/><polygon points="471.1,689 606.5,689 606.5,691.8 471.1,691.8"/><polygon points="471.1,714.4 476.8,711.6 484.4,708.7 503.5,706.8 518.7,705.9 532.1,703 541.6,701.7 560.7,700.1 570.2,698.2 589.3,696.3 606.5,695.4 606.5,714.4"/><polygon points="392.9,715 408.1,716.2 415.8,718.7 420.5,722.9 423.4,728.6 425.3,742 426.3,757.2 428.2,770.6 433.9,771.5 435.8,775.3 440.6,778.2 450.1,781 459.6,783 465.3,784.9 470,785.8 392.9,785.8"/><polygon points="570,786.5 606.5,785.2 606.5,787.6 570,787.6"/><polygon points="392.9,788.7 410,791.5 423.4,793.8 446.3,795.3 465.3,796.3 606.5,796.3 606.5,797.3 392.9,797.3"/><polygon points="606.5,797.6 579.8,808.7 560.7,816.3 541.6,824.9 522.6,831.6 503.5,841.1 484.4,846.8 473,852.6 455.8,854.1 427.2,856.4 392.9,858.7 470,857.5 606.5,856.4"/><polygon points="392.9,859.2 400.5,862.1 408.1,869.7 413.9,874.5 421.5,878.3 427.2,883.1 434.8,887.8 442.5,896.4 450.1,903.1 459.6,906.9 465.3,908.4 503.5,909.8 606.5,910.7 606.5,915.1 392.9,915.1"/></clipPath>
<g clip-path="url(#all6)">
</g>
<clipPath id="clip6_0"><polygon points="566,621 606.5,618.5 606.5,689 566,689"/></clipPath>
<g clip-path="url(#clip6_0)"><rect x="566" y="620.5" width="40.5" height="1" fill="#a9bfe6"/><rect x="566" y="623.5" width="40.5" height="1.2" fill="#a9bfe6"/><rect x="566" y="624.7" width="25" height="1.4" fill="#a9bfe6"/><rect x="566" y="627.4" width="5.3" height="1.2" fill="#a9bfe6"/><rect x="566" y="630.3" width="40.5" height="0.8" fill="#a9bfe6"/><rect x="566" y="632.9" width="26.3" height="1" fill="#a9bfe6"/><rect x="566" y="639.8" width="40.5" height="1" fill="#a9bfe6"/><rect x="566" y="643" width="5.2" height="1.1" fill="#a9bfe6"/><rect x="566" y="644.1" width="40.5" height="1" fill="#a9bfe6"/><rect x="566" y="647.2" width="13.8" height="0.7" fill="#a9bfe6"/><rect x="566" y="648" width="40.5" height="1.4" fill="#a9bfe6"/><rect x="566" y="652.7" width="26.3" height="0.9" fill="#a9bfe6"/><rect x="566" y="658.4" width="14.6" height="1.2" fill="#a9bfe6"/><rect x="566" y="662.7" width="1.8" height="1" fill="#a9bfe6"/><rect x="566" y="668" width="23.6" height="1.1" fill="#a9bfe6"/><rect x="566" y="670" width="40.5" height="1.3" fill="#a9bfe6"/><rect x="566" y="671.4" width="24.9" height="0.9" fill="#a9bfe6"/><rect x="566" y="676" width="40.5" height="1" fill="#a9bfe6"/><rect x="566" y="677" width="3.5" height="1.3" fill="#a9bfe6"/><rect x="566" y="679.5" width="40.4" height="1.3" fill="#a9bfe6"/><rect x="566" y="684.3" width="40.5" height="1.3" fill="#a9bfe6"/><rect x="566" y="685.6" width="40.5" height="0.8" fill="#a9bfe6"/><rect x="566" y="686.3" width="21.4" height="0.9" fill="#a9bfe6"/><rect x="566" y="688" width="40.5" height="1.4" fill="#a9bfe6"/></g>
<clipPath id="clip6_1"><polygon points="566,684 606.5,684 606.5,689 566,689"/></clipPath>
<g clip-path="url(#clip6_1)"><rect x="566" y="684" width="9.6" height="1.2" fill="#1551b6"/><rect x="566" y="685.2" width="20.6" height="0.9" fill="#5d83cc"/><rect x="566" y="686" width="7" height="0.7" fill="#5d83cc"/><rect x="566" y="686.7" width="31.4" height="0.7" fill="#a9bfe6"/><rect x="566" y="687.4" width="40.5" height="0.8" fill="#a9bfe6"/><rect x="566" y="688.2" width="22.8" height="0.7" fill="#1551b6"/><rect x="566" y="688.9" width="13.9" height="1" fill="#5d83cc"/></g>
<clipPath id="clip6_2"><polygon points="606.5,797.6 579.8,808.7 560.7,816.3 541.6,824.9 522.6,831.6 503.5,841.1 503.5,856.5 606.5,856.5"/></clipPath>
<g clip-path="url(#clip6_2)"><rect x="553.4" y="797.6" width="53.1" height="1" fill="#808080"/><rect x="503.5" y="798.6" width="103" height="0.8" fill="#a6a6a6"/><rect x="590.3" y="799.4" width="16.2" height="0.8" fill="#808080"/><rect x="593.3" y="800.2" width="13.2" height="1.1" fill="#808080"/><rect x="603.7" y="801.3" width="2.8" height="0.9" fill="#808080"/><rect x="527" y="802.3" width="79.5" height="1.3" fill="#c4c4c4"/><rect x="553.7" y="803.6" width="52.8" height="1.1" fill="#808080"/><rect x="503.5" y="804.7" width="103" height="0.8" fill="#c4c4c4"/><rect x="515.6" y="805.6" width="90.9" height="0.9" fill="#808080"/><rect x="599" y="806.5" width="7.5" height="1.1" fill="#c4c4c4"/><rect x="541.5" y="807.6" width="65" height="1" fill="#808080"/><rect x="579.1" y="808.6" width="27.4" height="0.9" fill="#808080"/><rect x="503.5" y="809.5" width="103" height="1.2" fill="#a6a6a6"/><rect x="550.4" y="810.7" width="56.1" height="0.9" fill="#c4c4c4"/><rect x="503.5" y="811.6" width="103" height="1.2" fill="#c4c4c4"/><rect x="559.1" y="812.8" width="47.4" height="1" fill="#808080"/><rect x="547.2" y="813.8" width="59.3" height="0.9" fill="#808080"/><rect x="554.3" y="814.7" width="52.2" height="1.3" fill="#808080"/><rect x="503.5" y="815.9" width="103" height="0.7" fill="#808080"/><rect x="555.8" y="816.6" width="50.7" height="1" fill="#808080"/><rect x="526.4" y="817.6" width="80.1" height="0.9" fill="#a6a6a6"/><rect x="503.5" y="818.5" width="103" height="1.2" fill="#a6a6a6"/><rect x="503.5" y="819.7" width="103" height="1.1" fill="#808080"/><rect x="552.6" y="820.8" width="53.9" height="1.4" fill="#a6a6a6"/><rect x="553.3" y="822.2" width="53.2" height="1" fill="#808080"/><rect x="512.3" y="823.2" width="94.2" height="0.8" fill="#c4c4c4"/><rect x="545.8" y="824" width="60.7" height="1.4" fill="#808080"/><rect x="583.9" y="825.4" width="22.6" height="0.7" fill="#a6a6a6"/><rect x="553.2" y="826.2" width="53.3" height="1" fill="#808080"/><rect x="518" y="827.2" width="88.5" height="1.2" fill="#c4c4c4"/><rect x="503.5" y="828.4" width="103" height="0.7" fill="#a6a6a6"/><rect x="511.4" y="829.1" width="95.1" height="1.3" fill="#808080"/><rect x="503.5" y="830.4" width="103" height="1.3" fill="#808080"/><rect x="555.5" y="831.7" width="51" height="1" fill="#808080"/><rect x="542.7" y="832.7" width="63.8" height="1.1" fill="#808080"/><rect x="525.7" y="833.8" width="80.8" height="1.1" fill="#808080"/><rect x="522.5" y="835" width="84" height="0.8" fill="#a6a6a6"/><rect x="503.5" y="835.7" width="103" height="0.9" fill="#808080"/><rect x="582.5" y="836.7" width="24" height="1.1" fill="#808080"/><rect x="565" y="837.8" width="41.5" height="0.8" fill="#808080"/><rect x="503.5" y="838.6" width="103" height="1.2" fill="#808080"/><rect x="503.5" y="839.8" width="103" height="0.7" fill="#808080"/><rect x="515.5" y="840.5" width="91" height="1.2" fill="#808080"/><rect x="503.5" y="841.7" width="103" height="0.9" fill="#808080"/><rect x="524.2" y="842.6" width="82.3" height="1" fill="#c4c4c4"/><rect x="511.8" y="843.7" width="94.7" height="1.1" fill="#a6a6a6"/><rect x="503.5" y="844.8" width="103" height="1.2" fill="#a6a6a6"/><rect x="534.1" y="846" width="72.4" height="1" fill="#808080"/><rect x="565.9" y="847" width="40.6" height="1" fill="#a6a6a6"/><rect x="536.3" y="848" width="70.2" height="1" fill="#a6a6a6"/><rect x="503.5" y="848.9" width="103" height="1.3" fill="#808080"/><rect x="503.5" y="850.2" width="103" height="1" fill="#808080"/><rect x="563.4" y="851.2" width="43.1" height="1.2" fill="#c4c4c4"/><rect x="577.6" y="852.5" width="28.9" height="0.9" fill="#808080"/><rect x="538.2" y="853.4" width="68.3" height="1.3" fill="#808080"/><rect x="588.6" y="854.7" width="17.9" height="1.1" fill="#808080"/><rect x="503.5" y="855.8" width="103" height="0.8" fill="#a6a6a6"/></g>
<polygon points="562.6,623 567.4,623 569.4,624.6 573.5,625.9 580.5,626.4 580.5,626.7 562.6,626.7" fill="#1551b6"/>
<polygon points="562.6,626.7 567.7,626.7 570.2,628.2 575.7,629.4 584.8,629.8 584.8,630.1 562.6,630.1" fill="#1551b6"/>
<polygon points="562.6,630.1 567.8,630.1 570.4,631 576.2,631.7 585.8,631.9 585.8,632.1 562.6,632.1" fill="#1551b6"/>
<polygon points="562.6,632.1 567.6,632.1 569.9,634.1 574.8,635.7 583.1,636.4 583.1,636.6 562.6,636.6" fill="#1551b6"/>
<polygon points="562.6,636.6 567,636.6 568.1,638.8 570.3,640.5 574,641.2 574,641.4 562.6,641.4" fill="#1551b6"/>
<polygon points="562.6,641.4 567.5,641.4 569.4,643.6 573.7,645.3 580.8,646 580.8,646.3 562.6,646.3" fill="#1551b6"/>
<polygon points="562.6,646.3 567.6,646.3 570.1,647.4 575.3,648.3 583.9,648.5 583.9,648.8 562.6,648.8" fill="#1551b6"/>
<polygon points="562.6,648.8 567.5,648.8 569.6,650.4 574.2,651.6 581.8,652.1 581.8,652.3 562.6,652.3" fill="#1551b6"/>
<polygon points="562.6,652.3 567.5,652.3 569.5,653.4 573.9,654.2 581.2,654.4 581.2,654.6 562.6,654.6" fill="#1551b6"/>
<polygon points="562.6,654.6 566.9,654.6 567.7,655.5 569.3,656.2 572,656.4 572,656.7 562.6,656.7" fill="#1551b6"/>
<polygon points="562.6,656.7 566.9,656.7 567.6,657.7 569.1,658.5 571.7,658.8 571.7,659 562.6,659" fill="#1551b6"/>
<polygon points="562.6,659 567.1,659 568.1,660.8 570.4,662.3 574.3,662.8 574.3,663.1 562.6,663.1" fill="#1551b6"/>
<polygon points="562.6,663.1 567.6,663.1 569.9,664.3 574.9,665.2 583.2,665.5 583.2,665.8 562.6,665.8" fill="#1551b6"/>
<polygon points="562.6,665.8 567.2,665.8 568.7,667.9 571.8,669.5 577,670.2 577,670.5 562.6,670.5" fill="#1551b6"/>
<polygon points="562.6,670.5 567.5,670.5 569.7,671.7 574.4,672.7 582.1,673 582.1,673.2 562.6,673.2" fill="#1551b6"/>
<polygon points="562.6,673.2 567.2,673.2 568.6,675 571.5,676.4 576.4,676.9 576.4,677.1 562.6,677.1" fill="#1551b6"/>
<polygon points="562.6,677.1 567.2,677.1 568.6,678.5 571.5,679.6 576.5,680 576.5,680.2 562.6,680.2" fill="#1551b6"/>
<polygon points="562.6,680.2 567,680.2 568,681.9 570.1,683.2 573.7,683.7 573.7,683.9 562.6,683.9" fill="#1551b6"/>
<line x1="392.9" y1="695.4" x2="465" y2="691.6" stroke="#1551b6" stroke-width="0.7"/>
<line x1="465" y1="691.6" x2="606.5" y2="691.6" stroke="#a9bfe6" stroke-width="0.8"/>
<rect x="392" y="924.3" width="72.5" height="5.4" rx="2.7" fill="#000"/>
<rect x="394.5" y="925.6" width="5.7" height="2.7" fill="#999"/>
<rect x="413.4" y="925.6" width="2.2" height="2.7" fill="#fff"/>
<rect x="415.6" y="925.6" width="7.7" height="2.7" fill="#999"/>
<rect x="423.3" y="925.6" width="7.4" height="2.7" fill="#fff"/>
<rect x="430.7" y="925.6" width="4.8" height="2.7" fill="#fff"/>
<rect x="435.5" y="925.6" width="5.3" height="2.7" fill="#fff"/>
<rect x="440.8" y="925.6" width="2.1" height="2.7" fill="#fff"/>
<rect x="446.5" y="925.6" width="6.6" height="2.7" fill="#fff"/>
<rect x="453.1" y="925.6" width="6.8" height="2.7" fill="#fff"/>
<rect x="459.9" y="925.6" width="2.1" height="2.7" fill="#fff"/>
<line x1="464.5" y1="926" x2="472" y2="928" stroke="#e00" stroke-width="1"/>
<line x1="464.5" y1="928" x2="472" y2="926" stroke="#e00" stroke-width="1"/>
<rect x="472" y="924.3" width="136" height="5.4" rx="2.7" fill="#000"/>
<rect x="476.5" y="925.6" width="3.3" height="2.7" fill="#fff"/>
<rect x="491.4" y="925.6" width="5.2" height="2.7" fill="#999"/>
<rect x="506" y="925.6" width="7.4" height="2.7" fill="#fff"/>
<rect x="513.4" y="925.6" width="4.2" height="2.7" fill="#fff"/>
<rect x="517.5" y="925.6" width="2.9" height="2.7" fill="#fff"/>
<rect x="520.4" y="925.6" width="3.8" height="2.7" fill="#999"/>
<rect x="524.2" y="925.6" width="2" height="2.7" fill="#999"/>
<rect x="526.2" y="925.6" width="4" height="2.7" fill="#fff"/>
<rect x="530.3" y="925.6" width="6.9" height="2.7" fill="#fff"/>
<rect x="537.2" y="925.6" width="3.9" height="2.7" fill="#fff"/>
<rect x="541.1" y="925.6" width="6.2" height="2.7" fill="#fff"/>
<rect x="547.3" y="925.6" width="7.9" height="2.7" fill="#fff"/>
<rect x="555.1" y="925.6" width="6.5" height="2.7" fill="#999"/>
<rect x="561.6" y="925.6" width="2.1" height="2.7" fill="#999"/>
<rect x="563.8" y="925.6" width="4.2" height="2.7" fill="#fff"/>
<rect x="568" y="925.6" width="2.1" height="2.7" fill="#fff"/>
<rect x="573.1" y="925.6" width="3.2" height="2.7" fill="#999"/>
<rect x="583.9" y="925.6" width="4.1" height="2.7" fill="#fff"/>
<rect x="587.9" y="925.6" width="5.1" height="2.7" fill="#999"/>
<rect x="593.1" y="925.6" width="2.6" height="2.7" fill="#999"/>
<rect x="604.7" y="925.6" width="0.8" height="2.7" fill="#fff"/>
<text x="389.5" y="930.5" text-anchor="end" class="n">6</text>
</g>
<g id="chr7">
<rect x="464.8" y="987.4" width="4.7" height="143.6" fill="#c9c9c9"/>
<polygon points="392.5,1033.4 420,1033.6 446.3,1034.5 464.8,1036 392.5,1036.6" fill="#1551b6"/>
<polygon points="469.5,1019.6 591.8,1019.6 591.8,1022.9 469.5,1022.9" fill="#1551b6"/>
<polygon points="469.5,1057.4 480.6,1054.1 492,1051.3 511.1,1049.4 518.7,1045.6 528.3,1041.7 541.6,1040.8 560.7,1039.5 572.1,1038.3 591.8,1037.5 591.8,1057.4" fill="#d38c24"/>
<polygon points="392.5,1056.8 460,1056.8 460,1057.6 392.5,1057.6" fill="#edcc98"/>
<polygon points="392.5,1057.9 427.2,1058.9 446.3,1061.8 461.5,1063.7 470,1064.6 392.5,1064.6" fill="#d38c24"/>
<polygon points="461,1063.8 591.8,1063.2 591.8,1064.7 461,1064.7" fill="#d38c24"/>
<polygon points="465.3,1071.3 494,1069.4 537.8,1067.5 560.7,1065.6 591.8,1064.8 591.8,1072.3 465.3,1072.3" fill="#cc5a58"/>
<polygon points="392.5,1071.5 500,1071.2 591.8,1070.5 591.8,1072.4 392.5,1072.6" fill="#b80e0b"/>
<polygon points="591.8,1072.6 570.2,1078 551.2,1083.7 532.1,1086.6 507.3,1090.4 492,1095.1 471.1,1100.9 455.8,1101.8 427.2,1103.1 402.4,1104.7 500,1102.5 591.8,1101.8" fill="#808080"/>
<clipPath id="lg7_9"><polygon points="402.4,1104.7 551.2,1101.8 591.8,1101.8 591.8,1103.7"/></clipPath>
<g clip-path="url(#lg7_9)"><rect x="402.4" y="1101.8" width="120.8" height="0.7" fill="#808080"/><rect x="402.4" y="1102.5" width="158.2" height="0.7" fill="#808080"/><rect x="402.4" y="1103.2" width="189.4" height="0.9" fill="#808080"/><rect x="402.4" y="1104.1" width="94.7" height="1" fill="#808080"/></g>
<polygon points="392.5,1104.7 417.7,1110.4 423.4,1113.3 436.7,1116.1 450.1,1120.9 463.4,1127.2 484.4,1127.6 522.6,1127.6 591.8,1128.5 591.8,1130.8 392.5,1130.8" fill="#808080"/>
<clipPath id="all7"><polygon points="392.5,1033.4 420,1033.6 446.3,1034.5 464.8,1036 392.5,1036.6"/><polygon points="469.5,1019.6 591.8,1019.6 591.8,1022.9 469.5,1022.9"/><polygon points="469.5,1057.4 480.6,1054.1 492,1051.3 511.1,1049.4 518.7,1045.6 528.3,1041.7 541.6,1040.8 560.7,1039.5 572.1,1038.3 591.8,1037.5 591.8,1057.4"/><polygon points="392.5,1057.9 427.2,1058.9 446.3,1061.8 461.5,1063.7 470,1064.6 392.5,1064.6"/><polygon points="461,1063.8 591.8,1063.2 591.8,1064.7 461,1064.7"/><polygon points="465.3,1071.3 494,1069.4 537.8,1067.5 560.7,1065.6 591.8,1064.8 591.8,1072.3 465.3,1072.3"/><polygon points="392.5,1071.5 500,1071.2 591.8,1070.5 591.8,1072.4 392.5,1072.6"/><polygon points="591.8,1072.6 570.2,1078 551.2,1083.7 532.1,1086.6 507.3,1090.4 492,1095.1 471.1,1100.9 455.8,1101.8 427.2,1103.1 402.4,1104.7 500,1102.5 591.8,1101.8"/><polygon points="402.4,1104.7 551.2,1101.8 591.8,1101.8 591.8,1103.7"/><polygon points="392.5,1104.7 417.7,1110.4 423.4,1113.3 436.7,1116.1 450.1,1120.9 463.4,1127.2 484.4,1127.6 522.6,1127.6 591.8,1128.5 591.8,1130.8 392.5,1130.8"/></clipPath>
<g clip-path="url(#all7)">
</g>
<clipPath id="clip7_0"><polygon points="392.5,1033.2 408.1,1029.3 417.7,1026.9 432.9,1025.5 446.3,1023.6 453.9,1022.7 464.8,1022.7 464.8,1033.5 392.5,1033.5"/></clipPath>
<g clip-path="url(#clip7_0)"><rect x="392.5" y="1022.7" width="72.3" height="0.8" fill="#a9bfe6"/><rect x="392.5" y="1024.8" width="72.3" height="0.7" fill="#1551b6"/><rect x="392.5" y="1025.6" width="59" height="0.6" fill="#a9bfe6"/><rect x="392.5" y="1026.2" width="72.3" height="1.1" fill="#1551b6"/><rect x="392.5" y="1027.3" width="13.7" height="0.8" fill="#1551b6"/><rect x="392.5" y="1028.9" width="72.3" height="1.3" fill="#a9bfe6"/><rect x="392.5" y="1030.1" width="37" height="0.7" fill="#1551b6"/><rect x="392.5" y="1030.8" width="28.4" height="0.8" fill="#1551b6"/><rect x="392.5" y="1031.6" width="72.3" height="0.6" fill="#1551b6"/><rect x="392.5" y="1032.3" width="61.4" height="0.9" fill="#a9bfe6"/><rect x="392.5" y="1033.2" width="15.6" height="0.8" fill="#1551b6"/></g>
<clipPath id="clip7_1"><polygon points="469.5,1020.8 484.4,1019.2 503.5,1016 514.9,1015 518.7,1011.2 526.4,1007.4 534,1004.6 549.3,1000.7 568.3,997.9 570.2,993.1 574,991.2 579.8,988.7 591.8,988 591.8,1019.8 469.5,1019.8"/></clipPath>
<g clip-path="url(#clip7_1)"><rect x="511.6" y="988" width="80.2" height="0.7" fill="#a9bfe6"/><rect x="553.3" y="988.7" width="38.5" height="1" fill="#1551b6"/><rect x="496.7" y="990.7" width="95.1" height="0.9" fill="#a9bfe6"/><rect x="480.6" y="991.5" width="111.2" height="1.2" fill="#1551b6"/><rect x="500.6" y="992.7" width="91.2" height="0.8" fill="#1551b6"/><rect x="547.2" y="993.5" width="44.6" height="0.8" fill="#1551b6"/><rect x="469.5" y="994.3" width="122.3" height="0.8" fill="#1551b6"/><rect x="469.5" y="996.5" width="122.3" height="1.3" fill="#1551b6"/><rect x="487.4" y="997.7" width="104.4" height="0.9" fill="#1551b6"/><rect x="469.5" y="998.6" width="122.3" height="0.6" fill="#1551b6"/><rect x="583.9" y="999.3" width="7.9" height="1.1" fill="#1551b6"/><rect x="585.7" y="1000.3" width="6.1" height="0.8" fill="#a9bfe6"/><rect x="476.3" y="1001.1" width="115.5" height="0.7" fill="#1551b6"/><rect x="590.9" y="1001.7" width="0.9" height="0.8" fill="#1551b6"/><rect x="469.5" y="1003.3" width="122.3" height="1.2" fill="#1551b6"/><rect x="494.4" y="1004.5" width="97.4" height="1.3" fill="#1551b6"/><rect x="552.4" y="1005.8" width="39.4" height="1" fill="#1551b6"/><rect x="498.7" y="1006.8" width="93.1" height="1.1" fill="#1551b6"/><rect x="542.2" y="1008.9" width="49.6" height="0.9" fill="#1551b6"/><rect x="469.5" y="1011" width="122.3" height="0.9" fill="#1551b6"/><rect x="469.5" y="1012" width="122.3" height="1.2" fill="#a9bfe6"/><rect x="571.2" y="1013.2" width="20.6" height="1" fill="#1551b6"/><rect x="469.5" y="1014.1" width="122.3" height="0.8" fill="#1551b6"/><rect x="469.5" y="1015" width="122.3" height="1" fill="#1551b6"/><rect x="473.2" y="1016" width="118.6" height="1.1" fill="#a9bfe6"/><rect x="469.5" y="1017.1" width="122.3" height="0.8" fill="#a9bfe6"/><rect x="469.5" y="1017.9" width="122.3" height="0.7" fill="#1551b6"/><rect x="508.5" y="1018.6" width="83.3" height="1" fill="#a9bfe6"/><rect x="534.1" y="1019.6" width="57.7" height="0.8" fill="#1551b6"/><rect x="469.5" y="1020.5" width="122.3" height="0.7" fill="#1551b6"/></g>
<clipPath id="clip7_2"><polygon points="591.8,1072.6 570.2,1078 551.2,1083.7 532.1,1086.6 507.3,1090.4 507.3,1101.9 591.8,1101.9"/></clipPath>
<g clip-path="url(#clip7_2)"><rect x="546.3" y="1072.6" width="45.5" height="0.9" fill="#808080"/><rect x="524.4" y="1073.5" width="67.4" height="1.1" fill="#808080"/><rect x="509.4" y="1074.6" width="82.4" height="0.8" fill="#808080"/><rect x="543.9" y="1075.4" width="47.9" height="0.9" fill="#808080"/><rect x="524.4" y="1076.3" width="67.4" height="1.3" fill="#c4c4c4"/><rect x="574.7" y="1077.6" width="17.1" height="1.3" fill="#c4c4c4"/><rect x="507.3" y="1078.9" width="84.5" height="1.3" fill="#c4c4c4"/><rect x="507.3" y="1080.3" width="84.5" height="0.9" fill="#a6a6a6"/><rect x="527.3" y="1081.1" width="64.5" height="0.9" fill="#808080"/><rect x="507.3" y="1082" width="84.5" height="0.8" fill="#a6a6a6"/><rect x="518.4" y="1082.8" width="73.4" height="1.2" fill="#808080"/><rect x="548.5" y="1084.1" width="43.3" height="0.8" fill="#808080"/><rect x="524.4" y="1084.9" width="67.4" height="1.2" fill="#808080"/><rect x="512.3" y="1086.1" width="79.5" height="1" fill="#a6a6a6"/><rect x="536.3" y="1087.1" width="55.5" height="1.2" fill="#808080"/><rect x="576" y="1088.3" width="15.8" height="1" fill="#808080"/><rect x="529.2" y="1089.3" width="62.6" height="1.1" fill="#808080"/><rect x="515.4" y="1090.4" width="76.4" height="1" fill="#808080"/><rect x="553.6" y="1091.4" width="38.2" height="1.4" fill="#c4c4c4"/><rect x="507.3" y="1092.7" width="84.5" height="0.8" fill="#808080"/><rect x="507.3" y="1093.5" width="84.5" height="0.8" fill="#a6a6a6"/><rect x="564.8" y="1094.3" width="27" height="1.2" fill="#a6a6a6"/><rect x="561.7" y="1095.5" width="30.1" height="1.1" fill="#a6a6a6"/><rect x="507.3" y="1096.6" width="84.5" height="0.8" fill="#c4c4c4"/><rect x="589.9" y="1097.4" width="1.9" height="0.8" fill="#808080"/><rect x="571" y="1098.2" width="20.8" height="1.4" fill="#808080"/><rect x="530.3" y="1099.6" width="61.5" height="0.8" fill="#808080"/><rect x="507.3" y="1100.3" width="84.5" height="0.9" fill="#808080"/><rect x="507.3" y="1101.2" width="84.5" height="1.3" fill="#808080"/></g>
<line x1="464.8" y1="1036.3" x2="591.8" y2="1036.3" stroke="#1551b6" stroke-width="0.8"/>
<rect x="392" y="1139.6" width="72" height="5.4" rx="2.7" fill="#000"/>
<rect x="394.5" y="1141" width="6.8" height="2.7" fill="#999"/>
<rect x="401.3" y="1141" width="4.9" height="2.7" fill="#fff"/>
<rect x="406.2" y="1141" width="2" height="2.7" fill="#999"/>
<rect x="408.2" y="1141" width="4.8" height="2.7" fill="#999"/>
<rect x="413" y="1141" width="4.2" height="2.7" fill="#999"/>
<rect x="417.2" y="1141" width="3.6" height="2.7" fill="#999"/>
<rect x="420.9" y="1141" width="6.4" height="2.7" fill="#fff"/>
<rect x="427.2" y="1141" width="5.2" height="2.7" fill="#999"/>
<rect x="432.5" y="1141" width="3.2" height="2.7" fill="#fff"/>
<rect x="435.6" y="1141" width="6.8" height="2.7" fill="#fff"/>
<rect x="442.5" y="1141" width="6.8" height="2.7" fill="#999"/>
<rect x="449.3" y="1141" width="7.1" height="2.7" fill="#fff"/>
<rect x="456.4" y="1141" width="2.6" height="2.7" fill="#999"/>
<rect x="458.9" y="1141" width="2.6" height="2.7" fill="#fff"/>
<line x1="464" y1="1141.3" x2="470.5" y2="1143.3" stroke="#e00" stroke-width="1"/>
<line x1="464" y1="1143.3" x2="470.5" y2="1141.3" stroke="#e00" stroke-width="1"/>
<rect x="470.5" y="1139.6" width="122.5" height="5.4" rx="2.7" fill="#000"/>
<rect x="473" y="1141" width="2.6" height="2.7" fill="#fff"/>
<rect x="475.6" y="1141" width="5.8" height="2.7" fill="#fff"/>
<rect x="481.4" y="1141" width="7.7" height="2.7" fill="#fff"/>
<rect x="489.1" y="1141" width="3.2" height="2.7" fill="#999"/>
<rect x="496.4" y="1141" width="7.5" height="2.7" fill="#fff"/>
<rect x="503.9" y="1141" width="5.9" height="2.7" fill="#999"/>
<rect x="516.6" y="1141" width="2.2" height="2.7" fill="#fff"/>
<rect x="518.8" y="1141" width="5.6" height="2.7" fill="#fff"/>
<rect x="524.4" y="1141" width="5.5" height="2.7" fill="#fff"/>
<rect x="529.9" y="1141" width="7.3" height="2.7" fill="#fff"/>
<rect x="537.2" y="1141" width="2.7" height="2.7" fill="#999"/>
<rect x="539.9" y="1141" width="3.9" height="2.7" fill="#fff"/>
<rect x="543.8" y="1141" width="4.9" height="2.7" fill="#fff"/>
<rect x="551.9" y="1141" width="6.2" height="2.7" fill="#fff"/>
<rect x="558.1" y="1141" width="6.7" height="2.7" fill="#fff"/>
<rect x="568.8" y="1141" width="5.7" height="2.7" fill="#fff"/>
<rect x="574.5" y="1141" width="4.3" height="2.7" fill="#fff"/>
<rect x="581.5" y="1141" width="2.3" height="2.7" fill="#fff"/>
<rect x="583.9" y="1141" width="6.5" height="2.7" fill="#fff"/>
<rect x="590.3" y="1141" width="0.2" height="2.7" fill="#fff"/>
<text x="389.5" y="1145.5" text-anchor="end" class="n">7</text>
</g>
<g id="chr8">
<rect x="446.9" y="1202.9" width="5.1" height="180.2" fill="#c9c9c9"/>
<polygon points="392.5,1215.3 398.6,1217.2 413.9,1220.1 427.2,1220.6 446.9,1221.4 446.9,1221.9 392.5,1221.9" fill="#1551b6"/>
<polygon points="392.5,1214.7 420,1212.3 437.7,1212.3 437.7,1213 400,1215" fill="#a9bfe6"/>
<polygon points="507.3,1210.5 526.4,1207.7 535.9,1205.4 549.3,1204.8 553.1,1208.6 550,1210.5" fill="#1551b6"/>
<polygon points="452,1233.8 453.9,1231.5 461.5,1229.6 474.9,1228.3 503.5,1226.7 541.6,1225.8 568.3,1224.5 572.1,1222 575.6,1221.4 575.6,1233.8" fill="#d38c24"/>
<polygon points="392.5,1234.4 427.2,1235.3 446.9,1237.5 446.9,1238.2 392.5,1238.2" fill="#d38c24"/>
<polygon points="446,1237.6 575.6,1237.6 575.6,1238.3 446,1238.3" fill="#edcc98"/>
<polygon points="392.5,1248.7 452,1246.8 484.4,1244.9 518.7,1243.9 532.1,1242 551.2,1238.2 575.6,1237.8 575.6,1306.8 392.5,1306.8" fill="#b80e0b"/>
<polygon points="575.6,1307.8 560.7,1308.4 541.6,1312.6 522.6,1317.3 513,1322.1 494,1326.9 480.6,1329.7 469.2,1334.5 457.7,1338.3 452,1340.8 427.2,1343.1 394.8,1346.9 470,1342 575.6,1341.2" fill="#808080"/>
<clipPath id="lg8_8"><polygon points="394.8,1346.9 494,1341.2 575.6,1341.2 575.6,1347.8"/></clipPath>
<g clip-path="url(#lg8_8)"><rect x="394.8" y="1341.2" width="180.8" height="1.1" fill="#cfcfcf"/><rect x="394.8" y="1342.3" width="87.1" height="0.8" fill="#808080"/><rect x="394.8" y="1343.1" width="137" height="0.8" fill="#808080"/><rect x="394.8" y="1343.9" width="180.8" height="1.1" fill="#a4a4a4"/><rect x="394.8" y="1345" width="180.8" height="0.7" fill="#808080"/><rect x="394.8" y="1345.7" width="180.8" height="0.8" fill="#cfcfcf"/><rect x="394.8" y="1346.5" width="177.8" height="0.7" fill="#cfcfcf"/><rect x="394.8" y="1347.2" width="155.5" height="1.2" fill="#cfcfcf"/></g>
<polygon points="392.5,1347.8 408.1,1351.6 423.4,1359.3 431,1364 444.4,1369.8 465.3,1370.7 522.6,1372.6 560.7,1374.5 575.6,1375.5 575.6,1382.7 392.5,1382.7" fill="#808080"/>
<clipPath id="all8"><polygon points="392.5,1215.3 398.6,1217.2 413.9,1220.1 427.2,1220.6 446.9,1221.4 446.9,1221.9 392.5,1221.9"/><polygon points="392.5,1214.7 420,1212.3 437.7,1212.3 437.7,1213 400,1215"/><polygon points="507.3,1210.5 526.4,1207.7 535.9,1205.4 549.3,1204.8 553.1,1208.6 550,1210.5"/><polygon points="452,1233.8 453.9,1231.5 461.5,1229.6 474.9,1228.3 503.5,1226.7 541.6,1225.8 568.3,1224.5 572.1,1222 575.6,1221.4 575.6,1233.8"/><polygon points="392.5,1234.4 427.2,1235.3 446.9,1237.5 446.9,1238.2 392.5,1238.2"/><polygon points="392.5,1248.7 452,1246.8 484.4,1244.9 518.7,1243.9 532.1,1242 551.2,1238.2 575.6,1237.8 575.6,1306.8 392.5,1306.8"/><polygon points="575.6,1307.8 560.7,1308.4 541.6,1312.6 522.6,1317.3 513,1322.1 494,1326.9 480.6,1329.7 469.2,1334.5 457.7,1338.3 452,1340.8 427.2,1343.1 394.8,1346.9 470,1342 575.6,1341.2"/><polygon points="394.8,1346.9 494,1341.2 575.6,1341.2 575.6,1347.8"/><polygon points="392.5,1347.8 408.1,1351.6 423.4,1359.3 431,1364 444.4,1369.8 465.3,1370.7 522.6,1372.6 560.7,1374.5 575.6,1375.5 575.6,1382.7 392.5,1382.7"/></clipPath>
<g clip-path="url(#all8)">
<line x1="553.6" y1="1247.5" x2="575.6" y2="1247.5" stroke="#f3c0c0" stroke-width="0.6"/>
<line x1="556.7" y1="1250.9" x2="575.6" y2="1250.9" stroke="#f3c0c0" stroke-width="0.6"/>
</g>
<clipPath id="clip8_0"><polygon points="575.6,1307.8 560.7,1308.4 541.6,1312.6 522.6,1317.3 513,1322.1 494,1326.9 480.6,1329.7 480,1341.3 575.6,1341.3"/></clipPath>
<g clip-path="url(#clip8_0)"><rect x="516.7" y="1307.8" width="58.9" height="1.1" fill="#808080"/><rect x="552.9" y="1308.9" width="22.7" height="1.3" fill="#808080"/><rect x="480" y="1310.1" width="95.6" height="1.1" fill="#c4c4c4"/><rect x="480" y="1311.3" width="95.6" height="1" fill="#808080"/><rect x="480" y="1312.2" width="95.6" height="0.8" fill="#808080"/><rect x="554.4" y="1313" width="21.2" height="1.1" fill="#c4c4c4"/><rect x="502.4" y="1314.1" width="73.2" height="0.9" fill="#808080"/><rect x="533.3" y="1315" width="42.3" height="1.3" fill="#808080"/><rect x="513.4" y="1316.3" width="62.2" height="1.4" fill="#a6a6a6"/><rect x="548.8" y="1317.7" width="26.8" height="0.9" fill="#c4c4c4"/><rect x="509.4" y="1318.6" width="66.2" height="0.8" fill="#808080"/><rect x="501.4" y="1319.4" width="74.2" height="0.9" fill="#a6a6a6"/><rect x="480" y="1320.3" width="95.6" height="0.8" fill="#808080"/><rect x="481.8" y="1321" width="93.8" height="1.2" fill="#808080"/><rect x="516.4" y="1322.2" width="59.2" height="1.1" fill="#808080"/><rect x="481.5" y="1323.3" width="94.1" height="0.9" fill="#808080"/><rect x="489.2" y="1324.2" width="86.4" height="0.9" fill="#c4c4c4"/><rect x="498.7" y="1325" width="76.9" height="1.4" fill="#c4c4c4"/><rect x="550.5" y="1326.4" width="25.1" height="0.7" fill="#a6a6a6"/><rect x="480" y="1327.1" width="95.6" height="1.2" fill="#808080"/><rect x="529.3" y="1328.3" width="46.3" height="1.1" fill="#a6a6a6"/><rect x="506.2" y="1329.4" width="69.4" height="1" fill="#a6a6a6"/><rect x="504.2" y="1330.4" width="71.4" height="1.4" fill="#a6a6a6"/><rect x="575" y="1331.7" width="0.6" height="1.2" fill="#808080"/><rect x="495.9" y="1332.9" width="79.7" height="1.4" fill="#a6a6a6"/><rect x="480" y="1334.3" width="95.6" height="0.8" fill="#a6a6a6"/><rect x="480" y="1335.1" width="95.6" height="1.2" fill="#808080"/><rect x="480" y="1336.2" width="95.6" height="1.2" fill="#808080"/><rect x="555.5" y="1337.4" width="20.1" height="1.4" fill="#808080"/><rect x="480" y="1338.8" width="95.6" height="0.8" fill="#a6a6a6"/><rect x="480" y="1339.7" width="95.6" height="1.2" fill="#a6a6a6"/><rect x="521.3" y="1340.9" width="54.3" height="1" fill="#a6a6a6"/></g>
<line x1="446.9" y1="1221.4" x2="575.6" y2="1221.4" stroke="#a9bfe6" stroke-width="0.7"/>
<line x1="461.5" y1="1211" x2="495.9" y2="1210.5" stroke="#1551b6" stroke-width="0.7"/>
<line x1="555" y1="1207" x2="575.6" y2="1204.5" stroke="#a9bfe6" stroke-width="0.6"/>
<rect x="392" y="1391.6" width="54" height="5.4" rx="2.7" fill="#000"/>
<rect x="394.5" y="1393" width="3.9" height="2.7" fill="#fff"/>
<rect x="398.4" y="1393" width="5.9" height="2.7" fill="#fff"/>
<rect x="404.3" y="1393" width="5.2" height="2.7" fill="#fff"/>
<rect x="409.6" y="1393" width="2.3" height="2.7" fill="#fff"/>
<rect x="411.9" y="1393" width="2.2" height="2.7" fill="#fff"/>
<rect x="414.1" y="1393" width="2.4" height="2.7" fill="#fff"/>
<rect x="416.6" y="1393" width="4.5" height="2.7" fill="#999"/>
<rect x="421.1" y="1393" width="2.7" height="2.7" fill="#fff"/>
<rect x="429.6" y="1393" width="5.5" height="2.7" fill="#fff"/>
<rect x="435.1" y="1393" width="7.9" height="2.7" fill="#fff"/>
<rect x="442.9" y="1393" width="0.6" height="2.7" fill="#fff"/>
<line x1="446" y1="1393.3" x2="454" y2="1395.3" stroke="#e00" stroke-width="1"/>
<line x1="446" y1="1395.3" x2="454" y2="1393.3" stroke="#e00" stroke-width="1"/>
<rect x="454" y="1391.6" width="123" height="5.4" rx="2.7" fill="#000"/>
<rect x="456.5" y="1393" width="2.9" height="2.7" fill="#fff"/>
<rect x="459.4" y="1393" width="3.9" height="2.7" fill="#999"/>
<rect x="463.2" y="1393" width="3.1" height="2.7" fill="#fff"/>
<rect x="466.3" y="1393" width="5.8" height="2.7" fill="#fff"/>
<rect x="472.1" y="1393" width="5.3" height="2.7" fill="#fff"/>
<rect x="477.4" y="1393" width="2.4" height="2.7" fill="#fff"/>
<rect x="479.8" y="1393" width="6.1" height="2.7" fill="#fff"/>
<rect x="485.9" y="1393" width="3.9" height="2.7" fill="#fff"/>
<rect x="489.7" y="1393" width="4.7" height="2.7" fill="#fff"/>
<rect x="494.5" y="1393" width="6.8" height="2.7" fill="#999"/>
<rect x="501.2" y="1393" width="3.5" height="2.7" fill="#fff"/>
<rect x="509.8" y="1393" width="6.4" height="2.7" fill="#fff"/>
<rect x="516.2" y="1393" width="7.9" height="2.7" fill="#fff"/>
<rect x="524.1" y="1393" width="4.5" height="2.7" fill="#999"/>
<rect x="528.6" y="1393" width="2.9" height="2.7" fill="#fff"/>
<rect x="531.5" y="1393" width="2.2" height="2.7" fill="#999"/>
<rect x="533.8" y="1393" width="6.6" height="2.7" fill="#fff"/>
<rect x="540.3" y="1393" width="7.3" height="2.7" fill="#fff"/>
<rect x="547.6" y="1393" width="6.2" height="2.7" fill="#fff"/>
<rect x="553.8" y="1393" width="5.5" height="2.7" fill="#fff"/>
<rect x="566.3" y="1393" width="4.8" height="2.7" fill="#999"/>
<rect x="571.1" y="1393" width="2.4" height="2.7" fill="#999"/>
<text x="389.5" y="1397.5" text-anchor="end" class="n">8</text>
</g>
<g id="chr9">
<rect x="740.1" y="204.9" width="23.6" height="325.8" fill="#e4e4e4"/>
<rect x="740.1" y="204.9" width="4.9" height="325.8" fill="#c9c9c9"/>
<polygon points="681.7,236.8 700,235.3 720,234 740,232.3 770.2,231.7 770.2,233.3 740,233.8 700,236.2 681.7,237.4" fill="#1551b6"/>
<polygon points="700,236.2 740,233.8 770.2,233.3 770.2,235.6 700,236.6" fill="#a9bfe6"/>
<polygon points="770.2,231.7 770.2,225.2 773.4,222.8 780,220.3 788,217.9 799.4,216.3 812.4,214.7 816,214.5 806,219 798,223 790,225.2 800,226.2 810,228 817,230 823,231.7" fill="#1551b6"/>
<polygon points="724.7,305.6 729.6,303.2 729.6,298.3 740.1,297 770.2,296.7 770.5,274 771,265.8 773.4,261 780,258.5 792.9,256.1 804.3,252.8 812.4,249.6 828.7,246.3 844.9,241.5 857.9,237.9 857.9,305.6" fill="#d38c24"/>
<polygon points="681.7,306.6 770,306.6 770,307.6 681.7,307.6" fill="#edcc98"/>
<polygon points="681.7,308.4 690.6,309.7 698.7,313.7 705.2,319.4 711.7,325.9 716.6,332.4 721.5,338.9 724.7,348.7 728,358.4 729.6,364.1 732,365 681.7,365" fill="#d38c24"/>
<polygon points="729,364.3 857.9,364.3 857.9,365.3 729,365.3" fill="#edcc98"/>
<polygon points="681.7,377.7 729.6,376.5 740,375.8 770.2,375.3 771.8,371.2 780,368 796.2,366.4 828.7,365.6 857.9,365.3 857.9,377.7" fill="#b80e0b"/>
<polygon points="681.7,378.7 857.9,380 857.9,402.1 681.7,402.1" fill="#b80e0b"/>
<polygon points="857.9,402.3 844.9,408.6 836.8,412.7 820.5,418.3 815.7,420.8 804.3,424.8 796.2,428.1 786.4,437.8 779.9,447.6 775.1,459 771,472 770.2,482.5 740.1,483.3 729.6,483.3 726.3,486.6 715,491.4 698.7,494.7 682.5,497.1 760,494 857.9,493" fill="#808080"/>
<clipPath id="lg9_10"><polygon points="682.5,497.1 760,494 857.9,493 857.9,497.6"/></clipPath>
<g clip-path="url(#lg9_10)"><rect x="682.5" y="493" width="57.4" height="0.7" fill="#cfcfcf"/><rect x="682.5" y="493.7" width="175.4" height="1" fill="#808080"/><rect x="682.5" y="494.7" width="156.8" height="0.8" fill="#a4a4a4"/><rect x="682.5" y="495.5" width="56.4" height="0.8" fill="#808080"/><rect x="682.5" y="496.2" width="115.8" height="0.8" fill="#cfcfcf"/><rect x="682.5" y="497" width="175.4" height="1.2" fill="#a4a4a4"/></g>
<polygon points="681.7,497.9 690.6,500.4 702,502 715,506 724.7,510.1 729.6,512.5 770.2,512.9 775.1,515 796.2,515.8 857.9,517.4 857.9,530.7 681.7,530.7" fill="#808080"/>
<clipPath id="all9"><polygon points="681.7,236.8 700,235.3 720,234 740,232.3 770.2,231.7 770.2,233.3 740,233.8 700,236.2 681.7,237.4"/><polygon points="700,236.2 740,233.8 770.2,233.3 770.2,235.6 700,236.6"/><polygon points="770.2,231.7 770.2,225.2 773.4,222.8 780,220.3 788,217.9 799.4,216.3 812.4,214.7 816,214.5 806,219 798,223 790,225.2 800,226.2 810,228 817,230 823,231.7"/><polygon points="724.7,305.6 729.6,303.2 729.6,298.3 740.1,297 770.2,296.7 770.5,274 771,265.8 773.4,261 780,258.5 792.9,256.1 804.3,252.8 812.4,249.6 828.7,246.3 844.9,241.5 857.9,237.9 857.9,305.6"/><polygon points="681.7,308.4 690.6,309.7 698.7,313.7 705.2,319.4 711.7,325.9 716.6,332.4 721.5,338.9 724.7,348.7 728,358.4 729.6,364.1 732,365 681.7,365"/><polygon points="681.7,377.7 729.6,376.5 740,375.8 770.2,375.3 771.8,371.2 780,368 796.2,366.4 828.7,365.6 857.9,365.3 857.9,377.7"/><polygon points="681.7,378.7 857.9,380 857.9,402.1 681.7,402.1"/><polygon points="857.9,402.3 844.9,408.6 836.8,412.7 820.5,418.3 815.7,420.8 804.3,424.8 796.2,428.1 786.4,437.8 779.9,447.6 775.1,459 771,472 770.2,482.5 740.1,483.3 729.6,483.3 726.3,486.6 715,491.4 698.7,494.7 682.5,497.1 760,494 857.9,493"/><polygon points="682.5,497.1 760,494 857.9,493 857.9,497.6"/><polygon points="681.7,497.9 690.6,500.4 702,502 715,506 724.7,510.1 729.6,512.5 770.2,512.9 775.1,515 796.2,515.8 857.9,517.4 857.9,530.7 681.7,530.7"/></clipPath>
<g clip-path="url(#all9)">
<line x1="843.1" y1="420.5" x2="857.9" y2="420.5" stroke="#d0d0d0" stroke-width="0.7"/>
<line x1="820.4" y1="427.5" x2="857.9" y2="427.5" stroke="#d0d0d0" stroke-width="0.7"/>
<line x1="810.4" y1="429.1" x2="857.9" y2="429.1" stroke="#d0d0d0" stroke-width="0.7"/>
<line x1="811.4" y1="432.3" x2="857.9" y2="432.3" stroke="#d0d0d0" stroke-width="0.7"/>
<line x1="845.2" y1="436.8" x2="857.9" y2="436.8" stroke="#d0d0d0" stroke-width="0.7"/>
<line x1="810.1" y1="440.8" x2="857.9" y2="440.8" stroke="#d0d0d0" stroke-width="0.7"/>
<line x1="848.5" y1="447.7" x2="857.9" y2="447.7" stroke="#d0d0d0" stroke-width="0.7"/>
<line x1="817.1" y1="448.4" x2="857.9" y2="448.4" stroke="#d0d0d0" stroke-width="0.7"/>
<line x1="820.7" y1="456" x2="857.9" y2="456" stroke="#d0d0d0" stroke-width="0.7"/>
<line x1="836.6" y1="458.5" x2="857.9" y2="458.5" stroke="#d0d0d0" stroke-width="0.7"/>
<line x1="802.9" y1="462.6" x2="857.9" y2="462.6" stroke="#d0d0d0" stroke-width="0.7"/>
<line x1="843" y1="466.9" x2="857.9" y2="466.9" stroke="#d0d0d0" stroke-width="0.7"/>
<line x1="818.3" y1="469.8" x2="857.9" y2="469.8" stroke="#d0d0d0" stroke-width="0.7"/>
<line x1="852.3" y1="474.9" x2="857.9" y2="474.9" stroke="#d0d0d0" stroke-width="0.7"/>
<line x1="810.7" y1="479.8" x2="857.9" y2="479.8" stroke="#d0d0d0" stroke-width="0.7"/>
<line x1="825.9" y1="483" x2="857.9" y2="483" stroke="#d0d0d0" stroke-width="0.7"/>
<line x1="851.3" y1="487.9" x2="857.9" y2="487.9" stroke="#d0d0d0" stroke-width="0.7"/>
<line x1="847.7" y1="489.9" x2="857.9" y2="489.9" stroke="#d0d0d0" stroke-width="0.7"/>
<line x1="832.6" y1="369.2" x2="857.9" y2="369.2" stroke="#f0b0b0" stroke-width="0.6"/>
<line x1="851.7" y1="370.5" x2="857.9" y2="370.5" stroke="#f0b0b0" stroke-width="0.6"/>
</g>
<clipPath id="clip9_0"><polygon points="806,214 858,214 858,232 806,232"/></clipPath>
<g clip-path="url(#clip9_0)"><rect x="806" y="214" width="8.4" height="0.7" fill="#a9bfe6"/><rect x="806" y="215.9" width="19.3" height="1.2" fill="#a9bfe6"/><rect x="806" y="223.4" width="52" height="1.2" fill="#a9bfe6"/><rect x="806" y="225.3" width="52" height="0.9" fill="#a9bfe6"/></g>
<polygon points="796,214.5 801.5,214.5 804.9,215.3 812.2,216 824.4,216.1 824.4,216.3 796,216.3" fill="#1551b6"/>
<polygon points="796,216.3 801.5,216.3 805,217.3 812.5,218 825,218.1 825,218.4 796,218.4" fill="#1551b6"/>
<polygon points="796,218.4 802,218.4 806.7,219.4 816.6,220.2 833.3,220.5 833.3,220.7 796,220.7" fill="#1551b6"/>
<polygon points="796,220.7 801.8,220.7 806,221.7 814.9,222.5 829.8,222.6 829.8,222.9 796,222.9" fill="#1551b6"/>
<polygon points="796,222.9 801.3,222.9 804.5,223.6 811.2,224.2 822.4,224.2 822.4,224.5 796,224.5" fill="#1551b6"/>
<line x1="681.7" y1="235.2" x2="858" y2="235.2" stroke="#a9bfe6" stroke-width="0.6"/>
<line x1="815.7" y1="208.3" x2="857.9" y2="206" stroke="#1551b6" stroke-width="0.7"/>
<line x1="815.7" y1="208.3" x2="815.7" y2="213" stroke="#1551b6" stroke-width="0.5"/>
<line x1="815.7" y1="420.6" x2="857.9" y2="420.6" stroke="#ffffff" stroke-width="0.9"/>
<rect x="681" y="540.1" width="59" height="5.4" rx="2.7" fill="#000"/>
<rect x="686.9" y="541.4" width="2.8" height="2.7" fill="#999"/>
<rect x="689.6" y="541.4" width="2.5" height="2.7" fill="#fff"/>
<rect x="692.1" y="541.4" width="8" height="2.7" fill="#fff"/>
<rect x="700.1" y="541.4" width="5.9" height="2.7" fill="#fff"/>
<rect x="706" y="541.4" width="4.7" height="2.7" fill="#fff"/>
<rect x="710.7" y="541.4" width="3.2" height="2.7" fill="#999"/>
<rect x="713.8" y="541.4" width="2.5" height="2.7" fill="#fff"/>
<rect x="716.4" y="541.4" width="2.1" height="2.7" fill="#fff"/>
<rect x="723" y="541.4" width="4.3" height="2.7" fill="#fff"/>
<rect x="730.8" y="541.4" width="2.4" height="2.7" fill="#999"/>
<rect x="733.2" y="541.4" width="4.3" height="2.7" fill="#999"/>
<rect x="737.4" y="541.4" width="0.1" height="2.7" fill="#999"/>
<line x1="740" y1="541.8" x2="745" y2="543.8" stroke="#e00" stroke-width="1"/>
<line x1="740" y1="543.8" x2="745" y2="541.8" stroke="#e00" stroke-width="1"/>
<rect x="745" y="540.1" width="114" height="5.4" rx="2.7" fill="#000"/>
<rect x="747.5" y="541.4" width="5" height="2.7" fill="#999"/>
<rect x="752.5" y="541.4" width="7.4" height="2.7" fill="#fff"/>
<rect x="759.9" y="541.4" width="2.9" height="2.7" fill="#fff"/>
<rect x="762.7" y="541.4" width="7.7" height="2.7" fill="#fff"/>
<rect x="773.6" y="541.4" width="5.5" height="2.7" fill="#999"/>
<rect x="779.1" y="541.4" width="7.3" height="2.7" fill="#fff"/>
<rect x="790.5" y="541.4" width="2.8" height="2.7" fill="#999"/>
<rect x="793.3" y="541.4" width="2.6" height="2.7" fill="#999"/>
<rect x="802.1" y="541.4" width="7.1" height="2.7" fill="#fff"/>
<rect x="809.2" y="541.4" width="3.2" height="2.7" fill="#fff"/>
<rect x="812.3" y="541.4" width="5.2" height="2.7" fill="#fff"/>
<rect x="819.9" y="541.4" width="5" height="2.7" fill="#999"/>
<rect x="825" y="541.4" width="3.3" height="2.7" fill="#fff"/>
<rect x="828.3" y="541.4" width="2.1" height="2.7" fill="#fff"/>
<rect x="830.4" y="541.4" width="3.6" height="2.7" fill="#fff"/>
<rect x="834" y="541.4" width="4.3" height="2.7" fill="#999"/>
<rect x="838.2" y="541.4" width="7.3" height="2.7" fill="#fff"/>
<rect x="845.6" y="541.4" width="4.4" height="2.7" fill="#fff"/>
<rect x="855.9" y="541.4" width="0.6" height="2.7" fill="#999"/>
<rect x="745" y="541.8" width="18" height="2" fill="#9cc3e6"/>
<text x="678.5" y="546" text-anchor="end" class="n">9</text>
</g>
<g id="chr10">
<rect x="729.6" y="603" width="5.2" height="91.5" fill="#c9c9c9"/>
<polygon points="681.3,612.8 700,612 726.3,614 726.3,614.6 681.3,614.2" fill="#1551b6"/>
<polygon points="788,608 800,606.5 812,606 812,607.5 800,608.2" fill="#1551b6"/>
<polygon points="835,605 851.1,603.6 851.1,604.6 835,605.8" fill="#1551b6"/>
<polygon points="734.8,639.1 741,636.3 750.7,632.3 760.4,630.2 770.2,628.2 773.4,625.8 780,622.5 792.9,620.9 804.3,619.3 812.4,617.7 820.5,616 836.8,614.9 851.1,614.4 851.1,639.1" fill="#d38c24"/>
<polygon points="681.3,639.6 698.7,640.7 718.2,642.5 728,644.1 681.3,644.1" fill="#d38c24"/>
<polygon points="728,643.8 851.1,643.8 851.1,644.8 728,644.8" fill="#e6a4a4"/>
<polygon points="681.3,646.1 698.7,647.2 718.2,647.7 740,647.8 740,648.3 681.3,648.3" fill="#b80e0b"/>
<polygon points="740,647.3 851.1,647.3 851.1,648.2 740,648.2" fill="#e6a4a4"/>
<polygon points="851.1,647.9 836.8,651.8 812.4,657.5 796.2,660.7 780,664 763.7,667.5 747.5,670.4 734.8,672.9 723.1,674.5 698.7,676.6 682.5,677.3 760,676.5 851.1,676.1" fill="#808080"/>
<polygon points="681.3,677.9 698.7,682.6 711.7,685.9 721.5,689.9 728,692.4 734.5,693.2 851.1,694 851.1,694.6 681.3,694.6" fill="#808080"/>
<clipPath id="all10"><polygon points="681.3,612.8 700,612 726.3,614 726.3,614.6 681.3,614.2"/><polygon points="788,608 800,606.5 812,606 812,607.5 800,608.2"/><polygon points="835,605 851.1,603.6 851.1,604.6 835,605.8"/><polygon points="734.8,639.1 741,636.3 750.7,632.3 760.4,630.2 770.2,628.2 773.4,625.8 780,622.5 792.9,620.9 804.3,619.3 812.4,617.7 820.5,616 836.8,614.9 851.1,614.4 851.1,639.1"/><polygon points="681.3,639.6 698.7,640.7 718.2,642.5 728,644.1 681.3,644.1"/><polygon points="681.3,646.1 698.7,647.2 718.2,647.7 740,647.8 740,648.3 681.3,648.3"/><polygon points="851.1,647.9 836.8,651.8 812.4,657.5 796.2,660.7 780,664 763.7,667.5 747.5,670.4 734.8,672.9 723.1,674.5 698.7,676.6 682.5,677.3 760,676.5 851.1,676.1"/><polygon points="681.3,677.9 698.7,682.6 711.7,685.9 721.5,689.9 728,692.4 734.5,693.2 851.1,694 851.1,694.6 681.3,694.6"/></clipPath>
<g clip-path="url(#all10)">
<line x1="815.8" y1="655.6" x2="851.1" y2="655.6" stroke="#d0d0d0" stroke-width="0.7"/>
<line x1="795.7" y1="658.2" x2="851.1" y2="658.2" stroke="#d0d0d0" stroke-width="0.7"/>
<line x1="843.7" y1="660.3" x2="851.1" y2="660.3" stroke="#d0d0d0" stroke-width="0.7"/>
<line x1="819.1" y1="662.5" x2="851.1" y2="662.5" stroke="#d0d0d0" stroke-width="0.7"/>
<line x1="815.3" y1="665.1" x2="851.1" y2="665.1" stroke="#d0d0d0" stroke-width="0.7"/>
<line x1="837.1" y1="666.1" x2="851.1" y2="666.1" stroke="#d0d0d0" stroke-width="0.7"/>
<line x1="839.9" y1="668" x2="851.1" y2="668" stroke="#d0d0d0" stroke-width="0.7"/>
<line x1="820.7" y1="671.6" x2="851.1" y2="671.6" stroke="#d0d0d0" stroke-width="0.7"/>
<line x1="793.7" y1="672.9" x2="851.1" y2="672.9" stroke="#d0d0d0" stroke-width="0.7"/>
<line x1="833.3" y1="674.3" x2="851.1" y2="674.3" stroke="#d0d0d0" stroke-width="0.7"/>
</g>
<line x1="681.3" y1="613.3" x2="731.2" y2="610.3" stroke="#1551b6" stroke-width="0.8"/>
<line x1="731.2" y1="610.3" x2="767" y2="608.7" stroke="#1551b6" stroke-width="0.6"/>
<line x1="780" y1="608.4" x2="851.1" y2="603.9" stroke="#1551b6" stroke-width="0.6"/>
<line x1="681.3" y1="611.6" x2="851.1" y2="611.6" stroke="#a9bfe6" stroke-width="0.6"/>
<rect x="681" y="702.8" width="48.5" height="5.4" rx="2.7" fill="#000"/>
<rect x="683.5" y="704.1" width="4.8" height="2.7" fill="#fff"/>
<rect x="691.1" y="704.1" width="2" height="2.7" fill="#fff"/>
<rect x="693.1" y="704.1" width="7.4" height="2.7" fill="#fff"/>
<rect x="700.5" y="704.1" width="5.3" height="2.7" fill="#999"/>
<rect x="705.9" y="704.1" width="2.2" height="2.7" fill="#fff"/>
<rect x="708.1" y="704.1" width="6.2" height="2.7" fill="#fff"/>
<rect x="714.3" y="704.1" width="6.4" height="2.7" fill="#fff"/>
<rect x="720.7" y="704.1" width="3.4" height="2.7" fill="#fff"/>
<line x1="729.5" y1="704.5" x2="735" y2="706.5" stroke="#e00" stroke-width="1"/>
<line x1="729.5" y1="706.5" x2="735" y2="704.5" stroke="#e00" stroke-width="1"/>
<rect x="735" y="702.8" width="117" height="5.4" rx="2.7" fill="#000"/>
<rect x="737.5" y="704.1" width="5.5" height="2.7" fill="#999"/>
<rect x="743" y="704.1" width="4.3" height="2.7" fill="#999"/>
<rect x="747.3" y="704.1" width="2.6" height="2.7" fill="#fff"/>
<rect x="750" y="704.1" width="6" height="2.7" fill="#999"/>
<rect x="756" y="704.1" width="4.5" height="2.7" fill="#fff"/>
<rect x="760.5" y="704.1" width="3.6" height="2.7" fill="#fff"/>
<rect x="764.1" y="704.1" width="3.7" height="2.7" fill="#999"/>
<rect x="771" y="704.1" width="7.3" height="2.7" fill="#fff"/>
<rect x="778.3" y="704.1" width="4.3" height="2.7" fill="#fff"/>
<rect x="782.6" y="704.1" width="2.1" height="2.7" fill="#fff"/>
<rect x="784.7" y="704.1" width="7.4" height="2.7" fill="#fff"/>
<rect x="792.1" y="704.1" width="5.6" height="2.7" fill="#fff"/>
<rect x="803.2" y="704.1" width="3.2" height="2.7" fill="#fff"/>
<rect x="806.4" y="704.1" width="2.5" height="2.7" fill="#fff"/>
<rect x="808.9" y="704.1" width="2.1" height="2.7" fill="#fff"/>
<rect x="816" y="704.1" width="4.5" height="2.7" fill="#fff"/>
<rect x="820.5" y="704.1" width="5.8" height="2.7" fill="#fff"/>
<rect x="826.4" y="704.1" width="5.5" height="2.7" fill="#fff"/>
<rect x="837.5" y="704.1" width="2.3" height="2.7" fill="#fff"/>
<rect x="839.8" y="704.1" width="5.6" height="2.7" fill="#fff"/>
<rect x="849.1" y="704.1" width="0.4" height="2.7" fill="#fff"/>
<text x="678.5" y="709" text-anchor="end" class="n">10</text>
</g>
<g id="chr11">
<rect x="745.3" y="766.2" width="4.5" height="399.4" fill="#c9c9c9"/>
<polygon points="705.9,850.8 720,849.5 730,847.6 735.5,847.6 735.5,850.8" fill="#1551b6"/>
<polygon points="751.9,846.2 765.1,845.9 771.6,843.1 776.6,841 779.9,833.6 781.5,828.6 784.8,820.4 788.1,812.2 791.4,807.3 798,800.7 801.2,794.9 807.8,789.2 811.1,782.6 814.4,774.4 817.7,770.3 822.6,768.6 826.1,768.4 825,780 825,843 850.1,844.5 850.1,846.4 751.9,846.4" fill="#1551b6"/>
<polygon points="739.6,953.6 750.3,951.9 753.6,943.7 756.9,935.5 760.1,919 761.8,910.8 763.4,899.3 765.1,891.1 766.7,884.5 768.4,878 771.7,873 774.9,864.8 779.9,859.9 786.4,857.4 798,856.3 814.4,855.3 850.1,853.6 850.1,953.6" fill="#d38c24"/>
<polygon points="681.6,953 740,952.8 740,953.8 681.6,953.8" fill="#edcc98"/>
<polygon points="681.6,955 688.6,957.6 698.7,965.1 707.1,971 715.5,975.2 722.2,981.9 729,988.6 733.2,993.7 736.5,1000.4 739,1010.5 742.4,1017.2 747.4,1020.9 754.2,1021.4 756,1021.9 681.6,1021.9" fill="#d38c24"/>
<polygon points="754,1021.2 850,1021.2 850,1022 754,1022" fill="#edcc98"/>
<polygon points="681.6,1022.6 850,1022.2 850,1026.4 681.6,1026.4" fill="#e6a4a4"/>
<polygon points="681.6,1025.2 760,1024.5 850,1022.5 850,1023.5 760,1025.8 681.6,1026.4" fill="#b80e0b"/>
<polygon points="849.9,1025.9 834.8,1032.3 823,1040.7 811.3,1045.8 801.2,1054.2 791.1,1060.9 784.4,1071 779.4,1081 774.3,1089.4 771,1097.8 767.6,1107.9 764.2,1113 757.5,1118 750.8,1120.5 734,1122.2 708.8,1124.7 688.6,1127.3 760,1124 849.9,1123" fill="#808080"/>
<clipPath id="lg11_9"><polygon points="688.6,1127.3 760,1124 849.9,1123 849.9,1127.3"/></clipPath>
<g clip-path="url(#lg11_9)"><rect x="688.6" y="1123" width="90.1" height="1.1" fill="#808080"/><rect x="688.6" y="1124.1" width="114.6" height="0.7" fill="#808080"/><rect x="688.6" y="1124.9" width="161.3" height="1.1" fill="#a4a4a4"/><rect x="688.6" y="1125.9" width="75" height="1" fill="#808080"/><rect x="688.6" y="1127" width="78.2" height="0.8" fill="#cfcfcf"/></g>
<polygon points="681.6,1127.8 688.6,1133.1 700.4,1138.2 712.2,1144.1 722.2,1148.2 737.4,1155 742.4,1157.5 750.8,1157.8 767.6,1159.2 792.8,1160.9 849.9,1162 849.9,1165.6 681.6,1165.6" fill="#808080"/>
<clipPath id="all11"><polygon points="705.9,850.8 720,849.5 730,847.6 735.5,847.6 735.5,850.8"/><polygon points="751.9,846.2 765.1,845.9 771.6,843.1 776.6,841 779.9,833.6 781.5,828.6 784.8,820.4 788.1,812.2 791.4,807.3 798,800.7 801.2,794.9 807.8,789.2 811.1,782.6 814.4,774.4 817.7,770.3 822.6,768.6 826.1,768.4 825,780 825,843 850.1,844.5 850.1,846.4 751.9,846.4"/><polygon points="739.6,953.6 750.3,951.9 753.6,943.7 756.9,935.5 760.1,919 761.8,910.8 763.4,899.3 765.1,891.1 766.7,884.5 768.4,878 771.7,873 774.9,864.8 779.9,859.9 786.4,857.4 798,856.3 814.4,855.3 850.1,853.6 850.1,953.6"/><polygon points="681.6,955 688.6,957.6 698.7,965.1 707.1,971 715.5,975.2 722.2,981.9 729,988.6 733.2,993.7 736.5,1000.4 739,1010.5 742.4,1017.2 747.4,1020.9 754.2,1021.4 756,1021.9 681.6,1021.9"/><polygon points="681.6,1025.2 760,1024.5 850,1022.5 850,1023.5 760,1025.8 681.6,1026.4"/><polygon points="849.9,1025.9 834.8,1032.3 823,1040.7 811.3,1045.8 801.2,1054.2 791.1,1060.9 784.4,1071 779.4,1081 774.3,1089.4 771,1097.8 767.6,1107.9 764.2,1113 757.5,1118 750.8,1120.5 734,1122.2 708.8,1124.7 688.6,1127.3 760,1124 849.9,1123"/><polygon points="688.6,1127.3 760,1124 849.9,1123 849.9,1127.3"/><polygon points="681.6,1127.8 688.6,1133.1 700.4,1138.2 712.2,1144.1 722.2,1148.2 737.4,1155 742.4,1157.5 750.8,1157.8 767.6,1159.2 792.8,1160.9 849.9,1162 849.9,1165.6 681.6,1165.6"/></clipPath>
<g clip-path="url(#all11)">
<line x1="811.3" y1="1043.6" x2="849.9" y2="1043.6" stroke="#d8d8d8" stroke-width="0.7"/>
<line x1="803.6" y1="1047.1" x2="849.9" y2="1047.1" stroke="#d8d8d8" stroke-width="0.7"/>
<line x1="805" y1="1049.7" x2="849.9" y2="1049.7" stroke="#d8d8d8" stroke-width="0.7"/>
<line x1="794.1" y1="1053.8" x2="849.9" y2="1053.8" stroke="#d8d8d8" stroke-width="0.7"/>
<line x1="807.4" y1="1057.2" x2="849.9" y2="1057.2" stroke="#d8d8d8" stroke-width="0.7"/>
<line x1="834.8" y1="1059.7" x2="849.9" y2="1059.7" stroke="#d8d8d8" stroke-width="0.7"/>
<line x1="798.3" y1="1067" x2="849.9" y2="1067" stroke="#d8d8d8" stroke-width="0.7"/>
<line x1="819" y1="1069.8" x2="849.9" y2="1069.8" stroke="#d8d8d8" stroke-width="0.7"/>
<line x1="822.4" y1="1072.9" x2="849.9" y2="1072.9" stroke="#d8d8d8" stroke-width="0.7"/>
<line x1="805.2" y1="1077.7" x2="849.9" y2="1077.7" stroke="#d8d8d8" stroke-width="0.7"/>
<line x1="817.8" y1="1080.5" x2="849.9" y2="1080.5" stroke="#d8d8d8" stroke-width="0.7"/>
<line x1="841.1" y1="1086.8" x2="849.9" y2="1086.8" stroke="#d8d8d8" stroke-width="0.7"/>
<line x1="815.1" y1="1089.9" x2="849.9" y2="1089.9" stroke="#d8d8d8" stroke-width="0.7"/>
<line x1="843.7" y1="1094.3" x2="849.9" y2="1094.3" stroke="#d8d8d8" stroke-width="0.7"/>
<line x1="800.7" y1="1098.1" x2="849.9" y2="1098.1" stroke="#d8d8d8" stroke-width="0.7"/>
<line x1="802.5" y1="1100.2" x2="849.9" y2="1100.2" stroke="#d8d8d8" stroke-width="0.7"/>
<line x1="836.9" y1="1104.2" x2="849.9" y2="1104.2" stroke="#d8d8d8" stroke-width="0.7"/>
<line x1="808.1" y1="1108.3" x2="849.9" y2="1108.3" stroke="#d8d8d8" stroke-width="0.7"/>
<line x1="797.7" y1="1110.9" x2="849.9" y2="1110.9" stroke="#d8d8d8" stroke-width="0.7"/>
<line x1="842.3" y1="1117.4" x2="849.9" y2="1117.4" stroke="#d8d8d8" stroke-width="0.7"/>
<line x1="790.2" y1="1121.6" x2="849.9" y2="1121.6" stroke="#d8d8d8" stroke-width="0.7"/>
</g>
<clipPath id="clip11_0"><polygon points="825,767 850.1,767 850.1,846 825,846"/></clipPath>
<g clip-path="url(#clip11_0)"><rect x="825" y="767" width="12.4" height="1.2" fill="#a9bfe6"/><rect x="825" y="771.6" width="6" height="1.2" fill="#a9bfe6"/><rect x="825" y="773.8" width="5.4" height="0.7" fill="#a9bfe6"/><rect x="825" y="776.9" width="18.1" height="1.2" fill="#a9bfe6"/><rect x="825" y="780.1" width="25.1" height="1.3" fill="#a9bfe6"/><rect x="825" y="782.5" width="12" height="1.1" fill="#a9bfe6"/><rect x="825" y="785.6" width="25.1" height="1" fill="#a9bfe6"/><rect x="825" y="786.6" width="1.8" height="0.6" fill="#a9bfe6"/><rect x="825" y="789.2" width="25.1" height="0.9" fill="#a9bfe6"/><rect x="825" y="790.1" width="3.3" height="0.8" fill="#a9bfe6"/><rect x="825" y="792.8" width="8.8" height="0.7" fill="#a9bfe6"/><rect x="825" y="795.1" width="24.2" height="1" fill="#a9bfe6"/><rect x="825" y="799.5" width="15.1" height="1.2" fill="#a9bfe6"/><rect x="825" y="800.7" width="2.2" height="0.8" fill="#a9bfe6"/><rect x="825" y="801.5" width="15.4" height="0.6" fill="#a9bfe6"/><rect x="825" y="803.2" width="25.1" height="0.8" fill="#a9bfe6"/><rect x="825" y="804" width="25.1" height="0.7" fill="#a9bfe6"/><rect x="825" y="804.7" width="7.3" height="1" fill="#a9bfe6"/><rect x="825" y="805.7" width="18.8" height="1.1" fill="#a9bfe6"/><rect x="825" y="808" width="6.3" height="0.9" fill="#a9bfe6"/><rect x="825" y="813.7" width="3.4" height="1.3" fill="#a9bfe6"/><rect x="825" y="817.4" width="10.5" height="1" fill="#a9bfe6"/><rect x="825" y="818.5" width="13.2" height="1" fill="#a9bfe6"/><rect x="825" y="820.5" width="22.4" height="0.6" fill="#a9bfe6"/><rect x="825" y="821.1" width="25.1" height="1.1" fill="#a9bfe6"/><rect x="825" y="822.2" width="25.1" height="0.9" fill="#a9bfe6"/><rect x="825" y="823.1" width="21.2" height="1" fill="#a9bfe6"/><rect x="825" y="824.1" width="23" height="0.9" fill="#a9bfe6"/><rect x="825" y="825.8" width="25.1" height="1" fill="#a9bfe6"/><rect x="825" y="827.6" width="22.5" height="1.1" fill="#a9bfe6"/><rect x="825" y="828.7" width="25.1" height="1.1" fill="#a9bfe6"/><rect x="825" y="829.8" width="25.1" height="0.9" fill="#a9bfe6"/><rect x="825" y="832.8" width="15.5" height="1.1" fill="#a9bfe6"/><rect x="825" y="835.3" width="25.1" height="0.7" fill="#a9bfe6"/><rect x="825" y="836" width="25.1" height="1" fill="#a9bfe6"/><rect x="825" y="838.8" width="14.4" height="0.8" fill="#a9bfe6"/><rect x="825" y="839.6" width="21.1" height="1" fill="#a9bfe6"/><rect x="825" y="841.5" width="25.1" height="0.9" fill="#a9bfe6"/><rect x="825" y="842.4" width="25.1" height="1.3" fill="#a9bfe6"/><rect x="825" y="843.7" width="5.2" height="1" fill="#a9bfe6"/><rect x="825" y="844.7" width="25.1" height="0.8" fill="#a9bfe6"/></g>
<polygon points="821,769 825.9,769 827.9,770.2 832.2,771.2 839.3,771.5 839.3,771.7 821,771.7" fill="#1551b6"/>
<polygon points="821,771.7 825.9,771.7 828,773.1 832.4,774.1 839.9,774.5 839.9,774.8 821,774.8" fill="#1551b6"/>
<polygon points="821,774.8 825.9,774.8 828.2,776.4 832.9,777.8 840.8,778.3 840.8,778.5 821,778.5" fill="#1551b6"/>
<polygon points="821,778.5 825.4,778.5 826.4,779.4 828.4,780 831.8,780.2 831.8,780.4 821,780.4" fill="#1551b6"/>
<polygon points="821,780.4 825.6,780.4 826.9,781.6 829.8,782.5 834.6,782.8 834.6,783.1 821,783.1" fill="#1551b6"/>
<polygon points="821,783.1 825.9,783.1 828.1,784.8 832.7,786.2 840.4,786.7 840.4,787 821,787" fill="#1551b6"/>
<polygon points="821,787 825.5,787 826.8,788.2 829.5,789.1 834,789.4 834,789.6 821,789.6" fill="#1551b6"/>
<polygon points="821,789.6 825.8,789.6 827.6,790.6 831.6,791.3 838.2,791.4 838.2,791.7 821,791.7" fill="#1551b6"/>
<polygon points="821,791.7 825.4,791.7 826.2,793.4 827.9,794.7 830.8,795.3 830.8,795.5 821,795.5" fill="#1551b6"/>
<polygon points="821,795.5 825.5,795.5 826.8,796.7 829.4,797.6 833.9,797.9 833.9,798.1 821,798.1" fill="#1551b6"/>
<polygon points="821,798.1 825.4,798.1 826.5,799.5 828.7,800.6 832.3,800.9 832.3,801.2 821,801.2" fill="#1551b6"/>
<polygon points="821,801.2 825.9,801.2 827.9,801.9 832.3,802.5 839.5,802.6 839.5,802.8 821,802.8" fill="#1551b6"/>
<polygon points="821,802.8 825.8,802.8 827.8,803.8 832,804.6 839,804.8 839,805.1 821,805.1" fill="#1551b6"/>
<polygon points="821,805.1 825.8,805.1 827.6,806.8 831.4,808.1 837.9,808.6 837.9,808.9 821,808.9" fill="#1551b6"/>
<polygon points="821,808.9 826,808.9 828.3,810.6 833.3,811.9 841.6,812.4 841.6,812.6 821,812.6" fill="#1551b6"/>
<polygon points="821,812.6 825.4,812.6 826.4,813.4 828.6,814 832.2,814.1 832.2,814.3 821,814.3" fill="#1551b6"/>
<polygon points="821,814.3 825.7,814.3 827.2,815.7 830.6,816.8 836.1,817.2 836.1,817.5 821,817.5" fill="#1551b6"/>
<polygon points="821,817.5 826,817.5 828.4,818.1 833.5,818.7 842,818.7 842,819 821,819" fill="#1551b6"/>
<polygon points="821,819 825.6,819 827.1,820.4 830.2,821.5 835.4,821.8 835.4,822.1 821,822.1" fill="#1551b6"/>
<polygon points="821,822.1 825.4,822.1 826.2,823.4 828,824.3 830.9,824.6 830.9,824.9 821,824.9" fill="#1551b6"/>
<polygon points="821,824.9 825.3,824.9 826.1,826.2 827.7,827.2 830.4,827.5 830.4,827.8 821,827.8" fill="#1551b6"/>
<polygon points="821,827.8 826.1,827.8 828.8,829.2 834.5,830.3 844,830.7 844,830.9 821,830.9" fill="#1551b6"/>
<polygon points="821,830.9 825.5,830.9 826.5,831.8 828.8,832.6 832.5,832.7 832.5,833 821,833" fill="#1551b6"/>
<polygon points="821,833 826.1,833 828.6,834.3 833.9,835.3 842.9,835.7 842.9,835.9 821,835.9" fill="#1551b6"/>
<polygon points="821,835.9 825.6,835.9 826.9,836.8 829.8,837.4 834.7,837.6 834.7,837.8 821,837.8" fill="#1551b6"/>
<polygon points="821,837.8 825.3,837.8 826.2,839.2 827.9,840.2 830.8,840.6 830.8,840.8 821,840.8" fill="#1551b6"/>
<polygon points="821,840.8 825.9,840.8 828.1,841.6 832.9,842.2 840.7,842.3 840.7,842.5 821,842.5" fill="#1551b6"/>
<polygon points="821,842.5 825.8,842.5 827.6,843.6 831.4,844.5 837.9,844.8 837.9,845 821,845" fill="#1551b6"/>
<line x1="681.6" y1="853.3" x2="739.6" y2="853" stroke="#1551b6" stroke-width="0.8"/>
<line x1="751.9" y1="846.6" x2="850.1" y2="846.6" stroke="#a9bfe6" stroke-width="0.6"/>
<rect x="681" y="1174.6" width="65" height="5.4" rx="2.7" fill="#000"/>
<rect x="683.5" y="1176" width="5.4" height="2.7" fill="#fff"/>
<rect x="688.9" y="1176" width="5.5" height="2.7" fill="#fff"/>
<rect x="694.4" y="1176" width="6.9" height="2.7" fill="#999"/>
<rect x="701.3" y="1176" width="5.9" height="2.7" fill="#fff"/>
<rect x="707.2" y="1176" width="5.1" height="2.7" fill="#fff"/>
<rect x="715.8" y="1176" width="8" height="2.7" fill="#fff"/>
<rect x="723.8" y="1176" width="7.2" height="2.7" fill="#999"/>
<rect x="731" y="1176" width="4.3" height="2.7" fill="#fff"/>
<rect x="735.3" y="1176" width="6" height="2.7" fill="#fff"/>
<rect x="741.3" y="1176" width="2.2" height="2.7" fill="#999"/>
<line x1="746" y1="1176.3" x2="751" y2="1178.3" stroke="#e00" stroke-width="1"/>
<line x1="746" y1="1178.3" x2="751" y2="1176.3" stroke="#e00" stroke-width="1"/>
<rect x="751" y="1174.6" width="100" height="5.4" rx="2.7" fill="#000"/>
<rect x="753.5" y="1176" width="2.8" height="2.7" fill="#999"/>
<rect x="764.2" y="1176" width="5.7" height="2.7" fill="#fff"/>
<rect x="769.9" y="1176" width="2" height="2.7" fill="#fff"/>
<rect x="771.9" y="1176" width="7.6" height="2.7" fill="#fff"/>
<rect x="783.7" y="1176" width="3.9" height="2.7" fill="#fff"/>
<rect x="787.6" y="1176" width="4.6" height="2.7" fill="#fff"/>
<rect x="792.2" y="1176" width="5.5" height="2.7" fill="#999"/>
<rect x="797.7" y="1176" width="2.9" height="2.7" fill="#fff"/>
<rect x="800.7" y="1176" width="4.5" height="2.7" fill="#fff"/>
<rect x="805.2" y="1176" width="5" height="2.7" fill="#999"/>
<rect x="810.1" y="1176" width="5.9" height="2.7" fill="#fff"/>
<rect x="816.1" y="1176" width="7.1" height="2.7" fill="#fff"/>
<rect x="823.2" y="1176" width="5.4" height="2.7" fill="#fff"/>
<rect x="828.6" y="1176" width="5.6" height="2.7" fill="#fff"/>
<rect x="834.2" y="1176" width="6.7" height="2.7" fill="#fff"/>
<rect x="840.9" y="1176" width="3" height="2.7" fill="#999"/>
<rect x="843.9" y="1176" width="4.6" height="2.7" fill="#fff"/>
<text x="678.5" y="1181" text-anchor="end" class="n">11</text>
</g>
<g id="chr12">
<rect x="724.4" y="1238" width="4.7" height="145.1" fill="#c9c9c9"/>
<polygon points="681.3,1261.2 687.4,1260.8 692.2,1257.5 697.1,1252.7 702,1251.8 711.7,1253.5 700,1255 705,1258 700,1260.5 710,1261.3" fill="#1551b6"/>
<polygon points="732.8,1251.5 740,1249.8 747.5,1249.4 747.5,1251" fill="#1551b6"/>
<polygon points="770.2,1246.6 785,1244.8 801,1243.7 801,1246" fill="#1551b6"/>
<polygon points="832,1241 838,1239 845,1239.8 845,1241" fill="#1551b6"/>
<polygon points="729.6,1301.9 736.1,1299.8 742.6,1297.3 747.5,1292.4 752.3,1284.3 757.2,1278.6 763.7,1274.6 771.8,1273 788.1,1270 804.3,1268.9 820.5,1266.5 831.9,1264 848.6,1261.6 848.6,1301.9" fill="#d38c24"/>
<polygon points="681.3,1302.5 689,1303 698.7,1305.4 715,1307.1 724.7,1308.4 681.3,1308.4" fill="#d38c24"/>
<polygon points="724,1307.8 732,1308.2 732,1309 724,1308.9" fill="#edcc98"/>
<polygon points="681.3,1312.5 729.6,1311.1 747.5,1309.5 796.2,1308.7 848.6,1308.2 848.6,1331 681.3,1331" fill="#b80e0b"/>
<polygon points="848.6,1331.4 836.8,1334.7 828.7,1337.9 820.5,1342 804.3,1346 792.9,1349.3 779.9,1351.2 771.8,1352.9 763.7,1356.6 754,1357.4 747.5,1360.7 741,1363.9 731.2,1365.5 715,1367.2 692.2,1369.1 760,1367.5 848.6,1367.2" fill="#808080"/>
<clipPath id="lg12_9"><polygon points="692.2,1369.1 760,1367.5 848.6,1367.2 848.6,1368.8"/></clipPath>
<g clip-path="url(#lg12_9)"><rect x="692.2" y="1367.2" width="87.4" height="1.1" fill="#808080"/><rect x="692.2" y="1368.3" width="111.1" height="0.7" fill="#808080"/><rect x="692.2" y="1369.1" width="156.4" height="1.1" fill="#a4a4a4"/></g>
<polygon points="681.3,1370.1 692.2,1372.8 702,1374.5 711.7,1375.6 723.1,1379.3 731.2,1380.2 848.6,1381 848.6,1382.6 681.3,1382.6" fill="#808080"/>
<clipPath id="all12"><polygon points="681.3,1261.2 687.4,1260.8 692.2,1257.5 697.1,1252.7 702,1251.8 711.7,1253.5 700,1255 705,1258 700,1260.5 710,1261.3"/><polygon points="732.8,1251.5 740,1249.8 747.5,1249.4 747.5,1251"/><polygon points="770.2,1246.6 785,1244.8 801,1243.7 801,1246"/><polygon points="832,1241 838,1239 845,1239.8 845,1241"/><polygon points="729.6,1301.9 736.1,1299.8 742.6,1297.3 747.5,1292.4 752.3,1284.3 757.2,1278.6 763.7,1274.6 771.8,1273 788.1,1270 804.3,1268.9 820.5,1266.5 831.9,1264 848.6,1261.6 848.6,1301.9"/><polygon points="681.3,1302.5 689,1303 698.7,1305.4 715,1307.1 724.7,1308.4 681.3,1308.4"/><polygon points="681.3,1312.5 729.6,1311.1 747.5,1309.5 796.2,1308.7 848.6,1308.2 848.6,1331 681.3,1331"/><polygon points="848.6,1331.4 836.8,1334.7 828.7,1337.9 820.5,1342 804.3,1346 792.9,1349.3 779.9,1351.2 771.8,1352.9 763.7,1356.6 754,1357.4 747.5,1360.7 741,1363.9 731.2,1365.5 715,1367.2 692.2,1369.1 760,1367.5 848.6,1367.2"/><polygon points="692.2,1369.1 760,1367.5 848.6,1367.2 848.6,1368.8"/><polygon points="681.3,1370.1 692.2,1372.8 702,1374.5 711.7,1375.6 723.1,1379.3 731.2,1380.2 848.6,1381 848.6,1382.6 681.3,1382.6"/></clipPath>
<g clip-path="url(#all12)">
<line x1="793.5" y1="1341.5" x2="848.6" y2="1341.5" stroke="#d0d0d0" stroke-width="0.7"/>
<line x1="811.4" y1="1343.6" x2="848.6" y2="1343.6" stroke="#d0d0d0" stroke-width="0.7"/>
<line x1="819.3" y1="1344.5" x2="848.6" y2="1344.5" stroke="#d0d0d0" stroke-width="0.7"/>
<line x1="792.3" y1="1345.9" x2="848.6" y2="1345.9" stroke="#d0d0d0" stroke-width="0.7"/>
<line x1="794.6" y1="1348.2" x2="848.6" y2="1348.2" stroke="#d0d0d0" stroke-width="0.7"/>
<line x1="806.5" y1="1350.5" x2="848.6" y2="1350.5" stroke="#d0d0d0" stroke-width="0.7"/>
<line x1="797.7" y1="1351.9" x2="848.6" y2="1351.9" stroke="#d0d0d0" stroke-width="0.7"/>
<line x1="825.5" y1="1353.4" x2="848.6" y2="1353.4" stroke="#d0d0d0" stroke-width="0.7"/>
<line x1="802.3" y1="1356.5" x2="848.6" y2="1356.5" stroke="#d0d0d0" stroke-width="0.7"/>
<line x1="799.9" y1="1358.2" x2="848.6" y2="1358.2" stroke="#d0d0d0" stroke-width="0.7"/>
<line x1="795.2" y1="1360" x2="848.6" y2="1360" stroke="#d0d0d0" stroke-width="0.7"/>
<line x1="805.9" y1="1361.5" x2="848.6" y2="1361.5" stroke="#d0d0d0" stroke-width="0.7"/>
<line x1="828.4" y1="1363.9" x2="848.6" y2="1363.9" stroke="#d0d0d0" stroke-width="0.7"/>
<line x1="786.3" y1="1364.3" x2="848.6" y2="1364.3" stroke="#d0d0d0" stroke-width="0.7"/>
<line x1="778" y1="1311.3" x2="848.6" y2="1311.3" stroke="#f3c0c0" stroke-width="0.8"/>
</g>
<line x1="681.3" y1="1261.3" x2="729" y2="1261.3" stroke="#1551b6" stroke-width="0.7"/>
<line x1="731.2" y1="1251" x2="848.6" y2="1242.1" stroke="#1551b6" stroke-width="0.6"/>
<line x1="810" y1="1244" x2="848.6" y2="1243" stroke="#a9bfe6" stroke-width="0.6"/>
<rect x="681" y="1391.8" width="42" height="5.4" rx="2.7" fill="#000"/>
<rect x="683.5" y="1393.2" width="4.7" height="2.7" fill="#fff"/>
<rect x="688.2" y="1393.2" width="7.5" height="2.7" fill="#fff"/>
<rect x="695.8" y="1393.2" width="5" height="2.7" fill="#fff"/>
<rect x="700.8" y="1393.2" width="3.1" height="2.7" fill="#fff"/>
<rect x="703.9" y="1393.2" width="5.8" height="2.7" fill="#999"/>
<rect x="709.7" y="1393.2" width="2.6" height="2.7" fill="#fff"/>
<rect x="712.3" y="1393.2" width="2.5" height="2.7" fill="#999"/>
<rect x="714.8" y="1393.2" width="5.7" height="2.7" fill="#fff"/>
<line x1="723" y1="1393.5" x2="731" y2="1395.5" stroke="#e00" stroke-width="1"/>
<line x1="723" y1="1395.5" x2="731" y2="1393.5" stroke="#e00" stroke-width="1"/>
<rect x="731" y="1391.8" width="119" height="5.4" rx="2.7" fill="#000"/>
<rect x="741.4" y="1393.2" width="5.9" height="2.7" fill="#999"/>
<rect x="747.3" y="1393.2" width="2.9" height="2.7" fill="#fff"/>
<rect x="750.3" y="1393.2" width="5.2" height="2.7" fill="#fff"/>
<rect x="755.4" y="1393.2" width="3.1" height="2.7" fill="#fff"/>
<rect x="758.6" y="1393.2" width="2.2" height="2.7" fill="#fff"/>
<rect x="760.8" y="1393.2" width="4.6" height="2.7" fill="#999"/>
<rect x="765.4" y="1393.2" width="5.1" height="2.7" fill="#999"/>
<rect x="770.5" y="1393.2" width="5" height="2.7" fill="#999"/>
<rect x="775.5" y="1393.2" width="4.7" height="2.7" fill="#fff"/>
<rect x="788.2" y="1393.2" width="7" height="2.7" fill="#999"/>
<rect x="795.3" y="1393.2" width="3.9" height="2.7" fill="#fff"/>
<rect x="799.2" y="1393.2" width="3.7" height="2.7" fill="#fff"/>
<rect x="802.9" y="1393.2" width="6.6" height="2.7" fill="#fff"/>
<rect x="809.5" y="1393.2" width="7.1" height="2.7" fill="#fff"/>
<rect x="816.6" y="1393.2" width="7.7" height="2.7" fill="#999"/>
<rect x="824.3" y="1393.2" width="2" height="2.7" fill="#fff"/>
<rect x="826.3" y="1393.2" width="7.5" height="2.7" fill="#fff"/>
<rect x="833.8" y="1393.2" width="7.9" height="2.7" fill="#fff"/>
<rect x="841.7" y="1393.2" width="2.4" height="2.7" fill="#999"/>
<rect x="844.1" y="1393.2" width="3.4" height="2.7" fill="#fff"/>
<text x="678.5" y="1398" text-anchor="end" class="n">12</text>
</g>
<g id="chr13">
<rect x="919.8" y="254.7" width="25" height="207.8" fill="#e4e4e4"/>
<rect x="940.2" y="254.7" width="4.6" height="207.8" fill="#c9c9c9"/>
<polygon points="945.4,339 952,336.5 957.7,333.7 959.6,326.1 960.5,316.6 963.3,310.9 967.1,305.2 972.8,297.7 978.5,292 980.4,284.4 982.3,274.9 983.2,265.5 985.1,263.2 990,262.8 987,266 987,290 990,292 990,336 1064.7,337 1064.7,339.3 945.4,339.3" fill="#1551b6"/>
<polygon points="985.1,263.2 1012.6,259.8 1031.5,257.9 1064.7,255.4 1064.7,257.2 1031.5,259.5 1000,262.5 988,264" fill="#1551b6"/>
<polygon points="945.4,380.6 945.4,367.8 947.2,361.1 952,354.5 959.6,349.8 969,346 984.2,343.5 1012.6,342.2 1041,340.9 1064.7,339.6 1064.7,380.6" fill="#d38c24"/>
<polygon points="945.4,381.2 1064.7,381.2 1064.7,382.6 945.4,382.6" fill="#b80e0b"/>
<polygon points="1064.7,382.9 1050.5,388.6 1041,393.3 1027.8,398.1 1016.4,402.8 1001.2,406.6 989.9,409.4 980.4,414.2 970.9,422.7 961.5,434.1 953.9,443.5 948.2,451.1 945.4,453.9 945.4,462.5 1064.7,462.5" fill="#808080"/>
<clipPath id="all13"><polygon points="945.4,339 952,336.5 957.7,333.7 959.6,326.1 960.5,316.6 963.3,310.9 967.1,305.2 972.8,297.7 978.5,292 980.4,284.4 982.3,274.9 983.2,265.5 985.1,263.2 990,262.8 987,266 987,290 990,292 990,336 1064.7,337 1064.7,339.3 945.4,339.3"/><polygon points="985.1,263.2 1012.6,259.8 1031.5,257.9 1064.7,255.4 1064.7,257.2 1031.5,259.5 1000,262.5 988,264"/><polygon points="945.4,380.6 945.4,367.8 947.2,361.1 952,354.5 959.6,349.8 969,346 984.2,343.5 1012.6,342.2 1041,340.9 1064.7,339.6 1064.7,380.6"/><polygon points="945.4,381.2 1064.7,381.2 1064.7,382.6 945.4,382.6"/><polygon points="1064.7,382.9 1050.5,388.6 1041,393.3 1027.8,398.1 1016.4,402.8 1001.2,406.6 989.9,409.4 980.4,414.2 970.9,422.7 961.5,434.1 953.9,443.5 948.2,451.1 945.4,453.9 945.4,462.5 1064.7,462.5"/></clipPath>
<g clip-path="url(#all13)">
<line x1="1034.8" y1="396.1" x2="1064.7" y2="396.1" stroke="#d0d0d0" stroke-width="0.7"/>
<line x1="1037.2" y1="398.8" x2="1064.7" y2="398.8" stroke="#d0d0d0" stroke-width="0.7"/>
<line x1="1041.2" y1="401.7" x2="1064.7" y2="401.7" stroke="#d0d0d0" stroke-width="0.7"/>
<line x1="1001.5" y1="402.3" x2="1064.7" y2="402.3" stroke="#d0d0d0" stroke-width="0.7"/>
<line x1="1014.1" y1="405.3" x2="1064.7" y2="405.3" stroke="#d0d0d0" stroke-width="0.7"/>
<line x1="1039.4" y1="408.8" x2="1064.7" y2="408.8" stroke="#d0d0d0" stroke-width="0.7"/>
<line x1="1011.3" y1="410" x2="1064.7" y2="410" stroke="#d0d0d0" stroke-width="0.7"/>
<line x1="1030" y1="411.8" x2="1064.7" y2="411.8" stroke="#d0d0d0" stroke-width="0.7"/>
<line x1="997.5" y1="415.7" x2="1064.7" y2="415.7" stroke="#d0d0d0" stroke-width="0.7"/>
<line x1="1010.8" y1="416.9" x2="1064.7" y2="416.9" stroke="#d0d0d0" stroke-width="0.7"/>
<line x1="1004" y1="419.6" x2="1064.7" y2="419.6" stroke="#d0d0d0" stroke-width="0.7"/>
<line x1="1035.5" y1="420.7" x2="1064.7" y2="420.7" stroke="#d0d0d0" stroke-width="0.7"/>
<line x1="1033.3" y1="423.6" x2="1064.7" y2="423.6" stroke="#d0d0d0" stroke-width="0.7"/>
<line x1="1028.5" y1="427.3" x2="1064.7" y2="427.3" stroke="#d0d0d0" stroke-width="0.7"/>
<line x1="1045" y1="429.6" x2="1064.7" y2="429.6" stroke="#d0d0d0" stroke-width="0.7"/>
<line x1="1003.3" y1="430" x2="1064.7" y2="430" stroke="#d0d0d0" stroke-width="0.7"/>
<line x1="1020.7" y1="433.7" x2="1064.7" y2="433.7" stroke="#d0d0d0" stroke-width="0.7"/>
<line x1="1046.4" y1="434.5" x2="1064.7" y2="434.5" stroke="#d0d0d0" stroke-width="0.7"/>
<line x1="1017.5" y1="438.3" x2="1064.7" y2="438.3" stroke="#d0d0d0" stroke-width="0.7"/>
<line x1="997.8" y1="440.3" x2="1064.7" y2="440.3" stroke="#d0d0d0" stroke-width="0.7"/>
<line x1="995.6" y1="442.7" x2="1064.7" y2="442.7" stroke="#d0d0d0" stroke-width="0.7"/>
<line x1="1055.4" y1="445.3" x2="1064.7" y2="445.3" stroke="#d0d0d0" stroke-width="0.7"/>
<line x1="1004.8" y1="446.6" x2="1064.7" y2="446.6" stroke="#d0d0d0" stroke-width="0.7"/>
<line x1="1050.4" y1="449.7" x2="1064.7" y2="449.7" stroke="#d0d0d0" stroke-width="0.7"/>
<line x1="1014.2" y1="451.1" x2="1064.7" y2="451.1" stroke="#d0d0d0" stroke-width="0.7"/>
<line x1="997.3" y1="454.4" x2="1064.7" y2="454.4" stroke="#d0d0d0" stroke-width="0.7"/>
<line x1="1040.9" y1="455.5" x2="1064.7" y2="455.5" stroke="#d0d0d0" stroke-width="0.7"/>
<line x1="1028.3" y1="459.1" x2="1064.7" y2="459.1" stroke="#d0d0d0" stroke-width="0.7"/>
</g>
<clipPath id="clip13_0"><polygon points="987,258 1064.7,256 1064.7,339 987,339"/></clipPath>
<g clip-path="url(#clip13_0)"><rect x="987" y="256.8" width="27" height="0.8" fill="#a9bfe6"/><rect x="987" y="257.6" width="77.7" height="1" fill="#a9bfe6"/><rect x="987" y="259.7" width="77.7" height="0.9" fill="#a9bfe6"/><rect x="987" y="260.7" width="46" height="0.6" fill="#a9bfe6"/><rect x="987" y="263" width="77.7" height="0.7" fill="#a9bfe6"/><rect x="987" y="266.4" width="0.8" height="1.3" fill="#a9bfe6"/><rect x="987" y="267.6" width="35.3" height="0.9" fill="#a9bfe6"/><rect x="987" y="269.5" width="77.7" height="1.2" fill="#a9bfe6"/><rect x="987" y="270.7" width="11" height="0.9" fill="#a9bfe6"/><rect x="987" y="274" width="10.7" height="1.2" fill="#a9bfe6"/><rect x="987" y="276" width="34.1" height="1.1" fill="#a9bfe6"/><rect x="987" y="277" width="69.9" height="0.8" fill="#a9bfe6"/><rect x="987" y="277.8" width="55.6" height="0.7" fill="#a9bfe6"/><rect x="987" y="278.5" width="61.7" height="1.1" fill="#a9bfe6"/><rect x="987" y="282" width="77.7" height="1.1" fill="#a9bfe6"/><rect x="987" y="283.2" width="11.5" height="0.8" fill="#a9bfe6"/><rect x="987" y="285.1" width="48.7" height="1" fill="#a9bfe6"/><rect x="987" y="287" width="77.7" height="0.9" fill="#a9bfe6"/><rect x="987" y="287.8" width="10.2" height="0.6" fill="#a9bfe6"/><rect x="987" y="288.5" width="77.7" height="1.1" fill="#a9bfe6"/><rect x="987" y="289.6" width="77.7" height="1.3" fill="#a9bfe6"/><rect x="987" y="294.8" width="77.7" height="0.9" fill="#a9bfe6"/><rect x="987" y="299" width="11" height="0.6" fill="#a9bfe6"/><rect x="987" y="299.6" width="15.5" height="0.7" fill="#a9bfe6"/><rect x="987" y="300.3" width="72.6" height="1.2" fill="#a9bfe6"/><rect x="987" y="301.5" width="16" height="0.8" fill="#a9bfe6"/><rect x="987" y="302.3" width="39.2" height="1" fill="#a9bfe6"/><rect x="987" y="303.9" width="77.7" height="0.7" fill="#a9bfe6"/><rect x="987" y="304.5" width="38.7" height="1.1" fill="#a9bfe6"/><rect x="987" y="309.4" width="22.1" height="0.8" fill="#a9bfe6"/><rect x="987" y="311.9" width="62.3" height="1.1" fill="#a9bfe6"/><rect x="987" y="314.9" width="28" height="0.8" fill="#a9bfe6"/><rect x="987" y="315.7" width="39" height="0.9" fill="#a9bfe6"/><rect x="987" y="316.6" width="77.7" height="0.6" fill="#a9bfe6"/><rect x="987" y="317.2" width="68.9" height="1.1" fill="#a9bfe6"/><rect x="987" y="319.3" width="56.5" height="0.7" fill="#a9bfe6"/><rect x="987" y="320" width="19" height="0.6" fill="#a9bfe6"/><rect x="987" y="322.1" width="50.2" height="0.7" fill="#a9bfe6"/><rect x="987" y="324.1" width="77.7" height="0.7" fill="#a9bfe6"/><rect x="987" y="326.7" width="41.8" height="1.1" fill="#a9bfe6"/><rect x="987" y="328.8" width="77.7" height="0.7" fill="#a9bfe6"/><rect x="987" y="330.7" width="77.7" height="1.2" fill="#a9bfe6"/><rect x="987" y="331.8" width="26.9" height="0.8" fill="#a9bfe6"/><rect x="987" y="332.6" width="63.5" height="1.2" fill="#a9bfe6"/><rect x="987" y="335.2" width="77.7" height="0.9" fill="#a9bfe6"/><rect x="987" y="336.1" width="5" height="1" fill="#a9bfe6"/></g>
<polygon points="982,264 987.6,264 991.5,265.2 999.7,266.2 1013.3,266.5 1013.3,266.7 982,266.7" fill="#1551b6"/>
<polygon points="982,266.7 989,266.7 995.9,268.6 1010.7,270.1 1035.4,270.7 1035.4,270.9 982,270.9" fill="#1551b6"/>
<polygon points="982,270.9 988.8,270.9 995.4,272 1009.6,272.9 1033.2,273.1 1033.2,273.4 982,273.4" fill="#1551b6"/>
<polygon points="982,273.4 988.8,273.4 995.3,275.3 1009.3,276.9 1032.6,277.5 1032.6,277.7 982,277.7" fill="#1551b6"/>
<polygon points="982,277.7 989.2,277.7 996.6,278.4 1012.6,279 1039.1,279.1 1039.1,279.3 982,279.3" fill="#1551b6"/>
<polygon points="982,279.3 988.7,279.3 995,280.3 1008.5,281.1 1031,281.3 1031,281.6 982,281.6" fill="#1551b6"/>
<polygon points="982,281.6 988.1,281.6 993,282.5 1003.5,283.2 1021,283.3 1021,283.6 982,283.6" fill="#1551b6"/>
<polygon points="982,283.6 988.4,283.6 994,284.8 1006,285.8 1026,286 1026,286.3 982,286.3" fill="#1551b6"/>
<polygon points="982,286.3 988.8,286.3 995.4,288 1009.5,289.3 1033,289.8 1033,290 982,290" fill="#1551b6"/>
<polygon points="984,290 990,290 994.5,291.3 1004.3,292.4 1020.7,292.7 1020.7,293 984,293" fill="#1551b6"/>
<polygon points="984,293 990.9,293 997.6,294.7 1012,296 1036,296.5 1036,296.8 984,296.8" fill="#1551b6"/>
<polygon points="984,296.8 990.1,296.8 995.1,297.9 1005.8,298.8 1023.6,299.1 1023.6,299.3 984,299.3" fill="#1551b6"/>
<polygon points="984,299.3 990.6,299.3 996.7,300.8 1009.7,302 1031.3,302.4 1031.3,302.7 984,302.7" fill="#1551b6"/>
<polygon points="984,302.7 990.7,302.7 997,304.6 1010.5,306.1 1033,306.8 1033,307 984,307" fill="#1551b6"/>
<polygon points="984,307 990.5,307 996.2,308.9 1008.6,310.3 1029.2,310.9 1029.2,311.1 984,311.1" fill="#1551b6"/>
<polygon points="984,311.1 989.4,311.1 992.7,312.2 999.7,313 1011.4,313.2 1011.4,313.4 984,313.4" fill="#1551b6"/>
<polygon points="984,313.4 990,313.4 994.7,314.1 1004.8,314.6 1021.7,314.7 1021.7,315 984,315" fill="#1551b6"/>
<polygon points="984,315 989.4,315 992.7,315.8 999.7,316.5 1011.4,316.7 1011.4,316.9 984,316.9" fill="#1551b6"/>
<polygon points="984,316.9 988.6,316.9 990.1,317.8 993.2,318.5 998.3,318.6 998.3,318.9 984,318.9" fill="#1551b6"/>
<polygon points="984,318.9 989.5,318.9 993,320.6 1000.6,321.9 1013.2,322.4 1013.2,322.7 984,322.7" fill="#1551b6"/>
<polygon points="984,322.7 991.2,322.7 998.5,324.2 1014.3,325.4 1040.5,325.9 1040.5,326.1 984,326.1" fill="#1551b6"/>
<polygon points="984,326.1 990.2,326.1 995.4,327.2 1006.6,328 1025.1,328.3 1025.1,328.5 984,328.5" fill="#1551b6"/>
<polygon points="984,328.5 988.9,328.5 991.1,329.4 995.8,330 1003.5,330.1 1003.5,330.4 984,330.4" fill="#1551b6"/>
<polygon points="984,330.4 988.8,330.4 990.8,332 995,333.3 1002,333.8 1002,334 984,334" fill="#1551b6"/>
<polygon points="984,334 989.3,334 992.4,335.4 999,336.4 1009.9,336.8 1009.9,337 984,337" fill="#1551b6"/>
<rect x="919.8" y="471.1" width="4" height="5.4" rx="2" fill="#000"/>
<rect x="923.8" y="473.3" width="16.2" height="1" fill="#ccc"/>
<rect x="929.9" y="471.1" width="9.1" height="5.4" rx="1.5" fill="#000"/>
<rect x="930.9" y="472.8" width="7.1" height="2" fill="#9cc3e6"/>
<line x1="939" y1="473.8" x2="945" y2="473.8" stroke="#e00" stroke-width="1.2"/>
<rect x="945" y="471.1" width="121" height="5.4" rx="2.7" fill="#000"/>
<rect x="947.5" y="472.4" width="4.8" height="2.7" fill="#999"/>
<rect x="952.3" y="472.4" width="6" height="2.7" fill="#fff"/>
<rect x="958.3" y="472.4" width="2.1" height="2.7" fill="#fff"/>
<rect x="960.4" y="472.4" width="3.6" height="2.7" fill="#999"/>
<rect x="964.1" y="472.4" width="6.1" height="2.7" fill="#999"/>
<rect x="970.2" y="472.4" width="5.3" height="2.7" fill="#999"/>
<rect x="975.5" y="472.4" width="2.9" height="2.7" fill="#fff"/>
<rect x="981.4" y="472.4" width="2.4" height="2.7" fill="#999"/>
<rect x="983.7" y="472.4" width="2.4" height="2.7" fill="#999"/>
<rect x="986.2" y="472.4" width="4" height="2.7" fill="#fff"/>
<rect x="990.2" y="472.4" width="7.1" height="2.7" fill="#fff"/>
<rect x="999.6" y="472.4" width="5.1" height="2.7" fill="#fff"/>
<rect x="1012.6" y="472.4" width="2.7" height="2.7" fill="#fff"/>
<rect x="1015.3" y="472.4" width="2.8" height="2.7" fill="#fff"/>
<rect x="1018.1" y="472.4" width="5.7" height="2.7" fill="#fff"/>
<rect x="1023.8" y="472.4" width="6.2" height="2.7" fill="#fff"/>
<rect x="1030" y="472.4" width="3" height="2.7" fill="#999"/>
<rect x="1033" y="472.4" width="4.4" height="2.7" fill="#fff"/>
<rect x="1037.4" y="472.4" width="5.6" height="2.7" fill="#fff"/>
<rect x="1043" y="472.4" width="4.3" height="2.7" fill="#fff"/>
<rect x="1053.7" y="472.4" width="7.9" height="2.7" fill="#999"/>
<rect x="1061.5" y="472.4" width="2" height="2.7" fill="#fff"/>
<text x="917.3" y="477.5" text-anchor="end" class="n">13</text>
</g>
<g id="chr14">
<rect x="919.9" y="534.2" width="25.3" height="849.6" fill="#e4e4e4"/>
<rect x="940" y="534.2" width="5.2" height="849.6" fill="#c9c9c9"/>
<polygon points="983,544 1011,542.4 1040,539.5 1053,535.7 1054.5,535.3 1054.5,544.5 983,544.6" fill="#7a9ad8"/>
<polygon points="983,544 1011,542.4 1040,539.5 1053,535.7 1054.5,535.3 1054.5,536.8 1040,540.6 1011,543.4 983,544.8" fill="#1551b6"/>
<polygon points="948,595.6 963.2,595.6 963.2,596.8 948,596.8" fill="#1551b6"/>
<polygon points="1046.6,598.2 1053.2,597.3 1054.6,597.3 1054.6,1096.3 946.2,1096.3 946.2,1048.8 946.2,1021.6 947.5,994.4 948.9,967.3 951.6,945.5 954.3,926.5 958.4,902.1 962.5,880.4 965.2,858.6 967.9,842.3 972,826 978.8,804.3 984.2,782.6 988.3,763.6 992.3,750 996.4,743.2 1002.1,731.8 1005.9,720.4 1008.7,707.2 1011.5,690.1 1013.4,676.9 1015.3,665.5 1018.2,657.9 1021,646.5 1024.8,639 1030.5,633.3 1036.2,625.7 1040,616.2 1043.7,606.8" fill="#d38c24"/>
<polygon points="946.2,1100.8 1019.5,1097.6 1054.8,1097.2 1054.8,1116.2 946.2,1116.2" fill="#b80e0b"/>
<polygon points="1054.6,1116.6 1045.3,1124.5 1041.2,1130.7 1037,1141 1032.9,1151.3 1026.7,1163.7 1020.5,1172 1016.4,1182.3 1008.1,1188.5 1001.9,1196.8 997.8,1203 991.6,1215.4 985.4,1229.8 979.2,1236 970.9,1244.3 964.7,1250.5 962.6,1258.8 958.5,1269.1 954.4,1279.4 951.3,1296 949.2,1302.5 1054.6,1302.5" fill="#808080"/>
<polygon points="948.5,1305.8 1054.6,1306.6 1054.6,1318.3 946.5,1318.3" fill="#808080"/>
<polygon points="946.1,1319.9 1004,1322.8 1041.2,1325.9 1053.6,1327.5 1054.6,1331 1054.6,1382.7 946.1,1382.7" fill="#808080"/>
<clipPath id="all14"><polygon points="983,544 1011,542.4 1040,539.5 1053,535.7 1054.5,535.3 1054.5,544.5 983,544.6"/><polygon points="983,544 1011,542.4 1040,539.5 1053,535.7 1054.5,535.3 1054.5,536.8 1040,540.6 1011,543.4 983,544.8"/><polygon points="948,595.6 963.2,595.6 963.2,596.8 948,596.8"/><polygon points="1046.6,598.2 1053.2,597.3 1054.6,597.3 1054.6,1096.3 946.2,1096.3 946.2,1048.8 946.2,1021.6 947.5,994.4 948.9,967.3 951.6,945.5 954.3,926.5 958.4,902.1 962.5,880.4 965.2,858.6 967.9,842.3 972,826 978.8,804.3 984.2,782.6 988.3,763.6 992.3,750 996.4,743.2 1002.1,731.8 1005.9,720.4 1008.7,707.2 1011.5,690.1 1013.4,676.9 1015.3,665.5 1018.2,657.9 1021,646.5 1024.8,639 1030.5,633.3 1036.2,625.7 1040,616.2 1043.7,606.8"/><polygon points="946.2,1100.8 1019.5,1097.6 1054.8,1097.2 1054.8,1116.2 946.2,1116.2"/><polygon points="1054.6,1116.6 1045.3,1124.5 1041.2,1130.7 1037,1141 1032.9,1151.3 1026.7,1163.7 1020.5,1172 1016.4,1182.3 1008.1,1188.5 1001.9,1196.8 997.8,1203 991.6,1215.4 985.4,1229.8 979.2,1236 970.9,1244.3 964.7,1250.5 962.6,1258.8 958.5,1269.1 954.4,1279.4 951.3,1296 949.2,1302.5 1054.6,1302.5"/><polygon points="948.5,1305.8 1054.6,1306.6 1054.6,1318.3 946.5,1318.3"/><polygon points="946.1,1319.9 1004,1322.8 1041.2,1325.9 1053.6,1327.5 1054.6,1331 1054.6,1382.7 946.1,1382.7"/></clipPath>
<g clip-path="url(#all14)">
<line x1="1043" y1="1125.1" x2="1054.6" y2="1125.1" stroke="#d8d8d8" stroke-width="0.7"/>
<line x1="1000.9" y1="1132.7" x2="1054.6" y2="1132.7" stroke="#d8d8d8" stroke-width="0.7"/>
<line x1="1011.8" y1="1136.4" x2="1054.6" y2="1136.4" stroke="#d8d8d8" stroke-width="0.7"/>
<line x1="1042.3" y1="1142.4" x2="1054.6" y2="1142.4" stroke="#d8d8d8" stroke-width="0.7"/>
<line x1="1029.7" y1="1144.3" x2="1054.6" y2="1144.3" stroke="#d8d8d8" stroke-width="0.7"/>
<line x1="1014" y1="1149.7" x2="1054.6" y2="1149.7" stroke="#d8d8d8" stroke-width="0.7"/>
<line x1="1019.6" y1="1153.9" x2="1054.6" y2="1153.9" stroke="#d8d8d8" stroke-width="0.7"/>
<line x1="1047.2" y1="1158.5" x2="1054.6" y2="1158.5" stroke="#d8d8d8" stroke-width="0.7"/>
<line x1="1001.9" y1="1164.2" x2="1054.6" y2="1164.2" stroke="#d8d8d8" stroke-width="0.7"/>
<line x1="1048" y1="1167" x2="1054.6" y2="1167" stroke="#d8d8d8" stroke-width="0.7"/>
<line x1="1030.1" y1="1173.3" x2="1054.6" y2="1173.3" stroke="#d8d8d8" stroke-width="0.7"/>
<line x1="1033.9" y1="1177.3" x2="1054.6" y2="1177.3" stroke="#d8d8d8" stroke-width="0.7"/>
<line x1="1020.2" y1="1179.6" x2="1054.6" y2="1179.6" stroke="#d8d8d8" stroke-width="0.7"/>
<line x1="1009.5" y1="1184.6" x2="1054.6" y2="1184.6" stroke="#d8d8d8" stroke-width="0.7"/>
<line x1="1001.8" y1="1190.9" x2="1054.6" y2="1190.9" stroke="#d8d8d8" stroke-width="0.7"/>
<line x1="1035.2" y1="1193.1" x2="1054.6" y2="1193.1" stroke="#d8d8d8" stroke-width="0.7"/>
<line x1="1015" y1="1200.8" x2="1054.6" y2="1200.8" stroke="#d8d8d8" stroke-width="0.7"/>
<line x1="1041.3" y1="1205.1" x2="1054.6" y2="1205.1" stroke="#d8d8d8" stroke-width="0.7"/>
<line x1="1045.4" y1="1206.5" x2="1054.6" y2="1206.5" stroke="#d8d8d8" stroke-width="0.7"/>
<line x1="1023.4" y1="1211" x2="1054.6" y2="1211" stroke="#d8d8d8" stroke-width="0.7"/>
<line x1="1004.7" y1="1215.1" x2="1054.6" y2="1215.1" stroke="#d8d8d8" stroke-width="0.7"/>
<line x1="1041.7" y1="1222.2" x2="1054.6" y2="1222.2" stroke="#d8d8d8" stroke-width="0.7"/>
<line x1="1016.2" y1="1224.2" x2="1054.6" y2="1224.2" stroke="#d8d8d8" stroke-width="0.7"/>
<line x1="1029.5" y1="1230.9" x2="1054.6" y2="1230.9" stroke="#d8d8d8" stroke-width="0.7"/>
<line x1="1034.4" y1="1233.3" x2="1054.6" y2="1233.3" stroke="#d8d8d8" stroke-width="0.7"/>
<line x1="1046.3" y1="1237.7" x2="1054.6" y2="1237.7" stroke="#d8d8d8" stroke-width="0.7"/>
<line x1="1032.9" y1="1244.7" x2="1054.6" y2="1244.7" stroke="#d8d8d8" stroke-width="0.7"/>
<line x1="1011.7" y1="1250.3" x2="1054.6" y2="1250.3" stroke="#d8d8d8" stroke-width="0.7"/>
<line x1="1031.1" y1="1251.5" x2="1054.6" y2="1251.5" stroke="#d8d8d8" stroke-width="0.7"/>
<line x1="1046.2" y1="1259.1" x2="1054.6" y2="1259.1" stroke="#d8d8d8" stroke-width="0.7"/>
<line x1="1029.9" y1="1263.2" x2="1054.6" y2="1263.2" stroke="#d8d8d8" stroke-width="0.7"/>
<line x1="1039.1" y1="1265.7" x2="1054.6" y2="1265.7" stroke="#d8d8d8" stroke-width="0.7"/>
<line x1="1043.6" y1="1271.4" x2="1054.6" y2="1271.4" stroke="#d8d8d8" stroke-width="0.7"/>
<line x1="1024.3" y1="1276.5" x2="1054.6" y2="1276.5" stroke="#d8d8d8" stroke-width="0.7"/>
<line x1="1010.1" y1="1280.5" x2="1054.6" y2="1280.5" stroke="#d8d8d8" stroke-width="0.7"/>
<line x1="1037.9" y1="1283.3" x2="1054.6" y2="1283.3" stroke="#d8d8d8" stroke-width="0.7"/>
<line x1="1001.4" y1="1289.7" x2="1054.6" y2="1289.7" stroke="#d8d8d8" stroke-width="0.7"/>
<line x1="1020.8" y1="1291.9" x2="1054.6" y2="1291.9" stroke="#d8d8d8" stroke-width="0.7"/>
<line x1="1017.4" y1="1298.1" x2="1054.6" y2="1298.1" stroke="#d8d8d8" stroke-width="0.7"/>
<line x1="1048.5" y1="654.5" x2="1054.6" y2="654.5" stroke="#f0e0c0" stroke-width="0.6"/>
<line x1="1038.7" y1="747.5" x2="1054.6" y2="747.5" stroke="#f0e0c0" stroke-width="0.6"/>
<line x1="1036.4" y1="890.4" x2="1054.6" y2="890.4" stroke="#f0e0c0" stroke-width="0.6"/>
<line x1="1033.3" y1="944.6" x2="1054.6" y2="944.6" stroke="#f0e0c0" stroke-width="0.6"/>
<line x1="1046.1" y1="1066.1" x2="1054.6" y2="1066.1" stroke="#f0e0c0" stroke-width="0.6"/>
</g>
<line x1="948.1" y1="545.2" x2="948.1" y2="596.3" stroke="#1551b6" stroke-width="0.9"/>
<line x1="948.1" y1="545.4" x2="983" y2="544.2" stroke="#1551b6" stroke-width="0.8"/>
<line x1="946" y1="1312.5" x2="1054.6" y2="1312.8" stroke="#ffffff" stroke-width="0.8"/>
<rect x="919.9" y="1390.9" width="4" height="5.4" rx="2" fill="#000"/>
<rect x="923.9" y="1393.1" width="16.1" height="1" fill="#ccc"/>
<rect x="930" y="1390.9" width="9" height="5.4" rx="1.5" fill="#000"/>
<rect x="931" y="1392.6" width="7" height="2" fill="#9cc3e6"/>
<line x1="939" y1="1393.6" x2="945" y2="1393.6" stroke="#e00" stroke-width="1.2"/>
<rect x="945" y="1390.9" width="111" height="5.4" rx="2.7" fill="#000"/>
<rect x="947.5" y="1392.2" width="3.6" height="2.7" fill="#999"/>
<rect x="951.1" y="1392.2" width="6.1" height="2.7" fill="#999"/>
<rect x="957.2" y="1392.2" width="3.1" height="2.7" fill="#fff"/>
<rect x="960.3" y="1392.2" width="2.9" height="2.7" fill="#fff"/>
<rect x="963.2" y="1392.2" width="6.4" height="2.7" fill="#fff"/>
<rect x="969.6" y="1392.2" width="5.2" height="2.7" fill="#fff"/>
<rect x="974.7" y="1392.2" width="3.8" height="2.7" fill="#fff"/>
<rect x="978.5" y="1392.2" width="7" height="2.7" fill="#999"/>
<rect x="985.5" y="1392.2" width="2.1" height="2.7" fill="#fff"/>
<rect x="990.5" y="1392.2" width="6.9" height="2.7" fill="#999"/>
<rect x="997.4" y="1392.2" width="7" height="2.7" fill="#999"/>
<rect x="1004.3" y="1392.2" width="7.7" height="2.7" fill="#999"/>
<rect x="1012" y="1392.2" width="3.5" height="2.7" fill="#999"/>
<rect x="1015.6" y="1392.2" width="4.9" height="2.7" fill="#999"/>
<rect x="1020.5" y="1392.2" width="5.4" height="2.7" fill="#fff"/>
<rect x="1025.9" y="1392.2" width="4.2" height="2.7" fill="#fff"/>
<rect x="1030.1" y="1392.2" width="3.9" height="2.7" fill="#fff"/>
<rect x="1033.9" y="1392.2" width="6.9" height="2.7" fill="#999"/>
<rect x="1040.9" y="1392.2" width="7.9" height="2.7" fill="#999"/>
<rect x="1048.8" y="1392.2" width="4.7" height="2.7" fill="#999"/>
<text x="917.4" y="1398" text-anchor="end" class="n">14</text>
</g>
<g id="chr15">
<rect x="1126.3" y="15.1" width="26" height="379.1" fill="#e4e4e4"/>
<rect x="1148" y="15.1" width="4.3" height="379.1" fill="#c9c9c9"/>
<polygon points="1152.3,23.2 1170.3,21.2 1180.6,19.5 1180.6,21 1170.3,22.6 1152.3,24.3" fill="#1551b6"/>
<polygon points="1237.3,17.4 1245,16.5 1254.9,16 1254.9,17.6 1237.3,17.9" fill="#1551b6"/>
<polygon points="1152.3,63.5 1156.6,63.1 1161.8,60.1 1172.1,56.6 1177.2,54.9 1185.8,51.5 1192.7,49.4 1201.2,47.2 1206.4,42.9 1213.2,37.7 1227,29.2 1237.3,27.5 1254.9,24.9 1254.9,66.6 1152.3,66.6" fill="#d38c24"/>
<polygon points="1154.9,116.7 1156.6,103 1158.3,90.9 1161.8,81.5 1168.6,77.2 1173.8,72.1 1185.8,69.5 1203,67.8 1254.9,67.3 1254.9,119" fill="#b80e0b"/>
<polygon points="1152.3,118 1254.9,120.1 1254.9,230.8 1152.3,230.8" fill="#b80e0b"/>
<polygon points="1254.8,231.3 1250.6,232.7 1245,237.5 1242.2,241.7 1233.9,248.7 1226.9,254.3 1224.1,259.2 1217.1,262 1211.5,265.4 1204.6,269.6 1201.8,273.8 1199,279.4 1194.8,283.6 1189.2,289.8 1186.4,296.1 1180.9,301.7 1176.7,307.3 1172.5,315.6 1169.7,322.6 1168.3,332.4 1165.5,336.5 1162.7,342.1 1161.3,347.7 1160,356.1 1158.6,363 1155.8,368.6 1153,371.1 1152.3,371.1 1152.3,394.1 1254.8,394.1" fill="#808080"/>
<clipPath id="all15"><polygon points="1152.3,23.2 1170.3,21.2 1180.6,19.5 1180.6,21 1170.3,22.6 1152.3,24.3"/><polygon points="1237.3,17.4 1245,16.5 1254.9,16 1254.9,17.6 1237.3,17.9"/><polygon points="1152.3,63.5 1156.6,63.1 1161.8,60.1 1172.1,56.6 1177.2,54.9 1185.8,51.5 1192.7,49.4 1201.2,47.2 1206.4,42.9 1213.2,37.7 1227,29.2 1237.3,27.5 1254.9,24.9 1254.9,66.6 1152.3,66.6"/><polygon points="1154.9,116.7 1156.6,103 1158.3,90.9 1161.8,81.5 1168.6,77.2 1173.8,72.1 1185.8,69.5 1203,67.8 1254.9,67.3 1254.9,119"/><polygon points="1152.3,118 1254.9,120.1 1254.9,230.8 1152.3,230.8"/><polygon points="1254.8,231.3 1250.6,232.7 1245,237.5 1242.2,241.7 1233.9,248.7 1226.9,254.3 1224.1,259.2 1217.1,262 1211.5,265.4 1204.6,269.6 1201.8,273.8 1199,279.4 1194.8,283.6 1189.2,289.8 1186.4,296.1 1180.9,301.7 1176.7,307.3 1172.5,315.6 1169.7,322.6 1168.3,332.4 1165.5,336.5 1162.7,342.1 1161.3,347.7 1160,356.1 1158.6,363 1155.8,368.6 1153,371.1 1152.3,371.1 1152.3,394.1 1254.8,394.1"/></clipPath>
<g clip-path="url(#all15)">
<line x1="1195.9" y1="246.2" x2="1254.8" y2="246.2" stroke="#e0e0e0" stroke-width="0.7"/>
<line x1="1204.6" y1="253.3" x2="1254.8" y2="253.3" stroke="#e0e0e0" stroke-width="0.7"/>
<line x1="1199.2" y1="258.1" x2="1254.8" y2="258.1" stroke="#e0e0e0" stroke-width="0.7"/>
<line x1="1230.3" y1="264.9" x2="1254.8" y2="264.9" stroke="#e0e0e0" stroke-width="0.7"/>
<line x1="1193.8" y1="266.5" x2="1254.8" y2="266.5" stroke="#e0e0e0" stroke-width="0.7"/>
<line x1="1243.7" y1="274.2" x2="1254.8" y2="274.2" stroke="#e0e0e0" stroke-width="0.7"/>
<line x1="1196.4" y1="276.7" x2="1254.8" y2="276.7" stroke="#e0e0e0" stroke-width="0.7"/>
<line x1="1243.5" y1="284.9" x2="1254.8" y2="284.9" stroke="#e0e0e0" stroke-width="0.7"/>
<line x1="1196.6" y1="287.3" x2="1254.8" y2="287.3" stroke="#e0e0e0" stroke-width="0.7"/>
<line x1="1248.1" y1="293.8" x2="1254.8" y2="293.8" stroke="#e0e0e0" stroke-width="0.7"/>
<line x1="1212.1" y1="296.5" x2="1254.8" y2="296.5" stroke="#e0e0e0" stroke-width="0.7"/>
<line x1="1234.8" y1="304.3" x2="1254.8" y2="304.3" stroke="#e0e0e0" stroke-width="0.7"/>
<line x1="1227.2" y1="309.6" x2="1254.8" y2="309.6" stroke="#e0e0e0" stroke-width="0.7"/>
<line x1="1246.9" y1="311.2" x2="1254.8" y2="311.2" stroke="#e0e0e0" stroke-width="0.7"/>
<line x1="1241.7" y1="319" x2="1254.8" y2="319" stroke="#e0e0e0" stroke-width="0.7"/>
<line x1="1208.1" y1="321.7" x2="1254.8" y2="321.7" stroke="#e0e0e0" stroke-width="0.7"/>
<line x1="1245.3" y1="329.9" x2="1254.8" y2="329.9" stroke="#e0e0e0" stroke-width="0.7"/>
<line x1="1194.7" y1="330.5" x2="1254.8" y2="330.5" stroke="#e0e0e0" stroke-width="0.7"/>
<line x1="1229.5" y1="335.7" x2="1254.8" y2="335.7" stroke="#e0e0e0" stroke-width="0.7"/>
<line x1="1200" y1="341.3" x2="1254.8" y2="341.3" stroke="#e0e0e0" stroke-width="0.7"/>
<line x1="1247.6" y1="347.6" x2="1254.8" y2="347.6" stroke="#e0e0e0" stroke-width="0.7"/>
<line x1="1194.9" y1="352.4" x2="1254.8" y2="352.4" stroke="#e0e0e0" stroke-width="0.7"/>
<line x1="1207.9" y1="355.7" x2="1254.8" y2="355.7" stroke="#e0e0e0" stroke-width="0.7"/>
<line x1="1202.5" y1="361.7" x2="1254.8" y2="361.7" stroke="#e0e0e0" stroke-width="0.7"/>
<line x1="1210.3" y1="365.4" x2="1254.8" y2="365.4" stroke="#e0e0e0" stroke-width="0.7"/>
<line x1="1202.3" y1="31.8" x2="1254.9" y2="31.8" stroke="#f0dcc0" stroke-width="0.7"/>
<line x1="1223.9" y1="38.9" x2="1254.9" y2="38.9" stroke="#f0dcc0" stroke-width="0.7"/>
<line x1="1211.1" y1="52.7" x2="1254.9" y2="52.7" stroke="#f0dcc0" stroke-width="0.7"/>
<line x1="1215.3" y1="55.6" x2="1254.9" y2="55.6" stroke="#f0dcc0" stroke-width="0.7"/>
</g>
<line x1="1180.6" y1="19.6" x2="1254.9" y2="16.3" stroke="#1551b6" stroke-width="0.6"/>
<line x1="1152.3" y1="20.6" x2="1254.9" y2="20.6" stroke="#a9bfe6" stroke-width="0.7"/>
<line x1="1152.3" y1="24.9" x2="1254.9" y2="24.9" stroke="#1551b6" stroke-width="0.6"/>
<line x1="1200" y1="371.2" x2="1254.8" y2="373" stroke="#ffffff" stroke-width="0.9"/>
<rect x="1126.3" y="402.8" width="4" height="5.4" rx="2" fill="#000"/>
<rect x="1130.3" y="405" width="17.7" height="1" fill="#ccc"/>
<rect x="1137.2" y="402.8" width="9.8" height="5.4" rx="1.5" fill="#000"/>
<rect x="1138.2" y="404.5" width="7.8" height="2" fill="#9cc3e6"/>
<line x1="1147" y1="405.5" x2="1152.3" y2="405.5" stroke="#e00" stroke-width="1.2"/>
<rect x="1152.3" y="402.8" width="104.2" height="5.4" rx="2.7" fill="#000"/>
<rect x="1154.8" y="404.1" width="2.6" height="2.7" fill="#999"/>
<rect x="1163.4" y="404.1" width="3.6" height="2.7" fill="#fff"/>
<rect x="1167" y="404.1" width="6.4" height="2.7" fill="#999"/>
<rect x="1173.4" y="404.1" width="3.8" height="2.7" fill="#999"/>
<rect x="1177.2" y="404.1" width="4.4" height="2.7" fill="#999"/>
<rect x="1181.6" y="404.1" width="2.7" height="2.7" fill="#fff"/>
<rect x="1184.3" y="404.1" width="7.4" height="2.7" fill="#fff"/>
<rect x="1191.7" y="404.1" width="3.6" height="2.7" fill="#999"/>
<rect x="1195.3" y="404.1" width="5.8" height="2.7" fill="#fff"/>
<rect x="1201.1" y="404.1" width="5.3" height="2.7" fill="#999"/>
<rect x="1206.4" y="404.1" width="3" height="2.7" fill="#999"/>
<rect x="1209.4" y="404.1" width="2.7" height="2.7" fill="#fff"/>
<rect x="1212.1" y="404.1" width="2.5" height="2.7" fill="#fff"/>
<rect x="1214.6" y="404.1" width="7.9" height="2.7" fill="#fff"/>
<rect x="1222.5" y="404.1" width="7.9" height="2.7" fill="#fff"/>
<rect x="1236" y="404.1" width="6.1" height="2.7" fill="#fff"/>
<rect x="1242.2" y="404.1" width="5.5" height="2.7" fill="#999"/>
<rect x="1247.7" y="404.1" width="3.1" height="2.7" fill="#fff"/>
<rect x="1250.8" y="404.1" width="3.2" height="2.7" fill="#fff"/>
<text x="1123.8" y="409" text-anchor="end" class="n">15</text>
</g>
<g id="chr16">
<rect x="1170.3" y="466.3" width="15.5" height="208.9" fill="#e4e4e4"/>
<rect x="1170.3" y="466.3" width="4.8" height="208.9" fill="#c9c9c9"/>
<polygon points="1126.9,482.8 1135.5,480.2 1152.9,476.3 1164.5,474.4 1191.5,471.5 1220.5,468.6 1239.8,467.1 1239.8,468.3 1220.5,469.8 1191.5,472.6 1164.5,475.4 1152.9,477.3 1135.5,481.2 1130,483.3" fill="#1551b6"/>
<polygon points="1161.6,536.2 1172.2,534.3 1185.8,533.3 1187.7,526.5 1188.6,515 1191.5,507.2 1197.3,501.4 1207,495.6 1214.7,490.8 1226.3,487 1239.8,485 1239.8,536.2" fill="#d38c24"/>
<polygon points="1126.9,535.5 1161.6,535.5 1161.6,536.3 1126.9,536.3" fill="#edcc98"/>
<polygon points="1126.9,537.2 1139.4,543.9 1149.1,551.6 1156.8,557.4 1160.7,563.2 1163.5,572.9 1167.4,583.5 1172.2,584.5 1187.7,586 1126.9,586" fill="#d38c24"/>
<polygon points="1187,585.3 1239.8,585.3 1239.8,586.2 1187,586.2" fill="#edcc98"/>
<polygon points="1126.9,587.3 1180,587.3 1180,588.7 1126.9,588.7" fill="#b80e0b"/>
<polygon points="1180,587.3 1239.8,587.3 1239.8,588.7 1180,588.7" fill="#e6a4a4"/>
<polygon points="1239.8,588.7 1230.2,598 1220.5,605.7 1210.9,610.5 1203.1,614.4 1193.5,620.2 1189.6,625 1188.6,630.8 1172.2,631.8 1160.7,634.7 1143.3,637.6 1133.6,639.5 1239.8,635" fill="#808080"/>
<clipPath id="lg16_8"><polygon points="1133.6,639.5 1239.8,635 1239.8,640.1"/></clipPath>
<g clip-path="url(#lg16_8)"><rect x="1133.6" y="635" width="73" height="0.8" fill="#808080"/><rect x="1133.6" y="635.8" width="106.2" height="0.9" fill="#808080"/><rect x="1133.6" y="637.4" width="43.9" height="0.9" fill="#a4a4a4"/><rect x="1133.6" y="638.3" width="99.4" height="0.9" fill="#a4a4a4"/><rect x="1133.6" y="639.2" width="64.7" height="1" fill="#808080"/></g>
<polygon points="1126.9,640.8 1139.4,647.2 1158.7,654 1166.4,660.7 1187.7,661.7 1195.4,664.6 1239.8,666 1239.8,674.6 1126.9,674.6" fill="#808080"/>
<clipPath id="all16"><polygon points="1126.9,482.8 1135.5,480.2 1152.9,476.3 1164.5,474.4 1191.5,471.5 1220.5,468.6 1239.8,467.1 1239.8,468.3 1220.5,469.8 1191.5,472.6 1164.5,475.4 1152.9,477.3 1135.5,481.2 1130,483.3"/><polygon points="1161.6,536.2 1172.2,534.3 1185.8,533.3 1187.7,526.5 1188.6,515 1191.5,507.2 1197.3,501.4 1207,495.6 1214.7,490.8 1226.3,487 1239.8,485 1239.8,536.2"/><polygon points="1126.9,537.2 1139.4,543.9 1149.1,551.6 1156.8,557.4 1160.7,563.2 1163.5,572.9 1167.4,583.5 1172.2,584.5 1187.7,586 1126.9,586"/><polygon points="1126.9,587.3 1180,587.3 1180,588.7 1126.9,588.7"/><polygon points="1239.8,588.7 1230.2,598 1220.5,605.7 1210.9,610.5 1203.1,614.4 1193.5,620.2 1189.6,625 1188.6,630.8 1172.2,631.8 1160.7,634.7 1143.3,637.6 1133.6,639.5 1239.8,635"/><polygon points="1133.6,639.5 1239.8,635 1239.8,640.1"/><polygon points="1126.9,640.8 1139.4,647.2 1158.7,654 1166.4,660.7 1187.7,661.7 1195.4,664.6 1239.8,666 1239.8,674.6 1126.9,674.6"/></clipPath>
<g clip-path="url(#all16)">
<line x1="1206.9" y1="607.5" x2="1239.8" y2="607.5" stroke="#d0d0d0" stroke-width="0.7"/>
<line x1="1203.9" y1="608.1" x2="1239.8" y2="608.1" stroke="#d0d0d0" stroke-width="0.7"/>
<line x1="1229.9" y1="612.7" x2="1239.8" y2="612.7" stroke="#d0d0d0" stroke-width="0.7"/>
<line x1="1223.6" y1="616.1" x2="1239.8" y2="616.1" stroke="#d0d0d0" stroke-width="0.7"/>
<line x1="1223.9" y1="617.9" x2="1239.8" y2="617.9" stroke="#d0d0d0" stroke-width="0.7"/>
<line x1="1219" y1="620.2" x2="1239.8" y2="620.2" stroke="#d0d0d0" stroke-width="0.7"/>
<line x1="1201.5" y1="622.1" x2="1239.8" y2="622.1" stroke="#d0d0d0" stroke-width="0.7"/>
<line x1="1227.9" y1="626.9" x2="1239.8" y2="626.9" stroke="#d0d0d0" stroke-width="0.7"/>
<line x1="1225.8" y1="629.9" x2="1239.8" y2="629.9" stroke="#d0d0d0" stroke-width="0.7"/>
</g>
<line x1="1126.9" y1="475.6" x2="1239.8" y2="475.6" stroke="#a9bfe6" stroke-width="0.7"/>
<line x1="1126.9" y1="483.1" x2="1239.8" y2="483.1" stroke="#1551b6" stroke-width="0.6"/>
<rect x="1126" y="683.8" width="44" height="5.4" rx="2.7" fill="#000"/>
<rect x="1128.5" y="685.1" width="7.8" height="2.7" fill="#fff"/>
<rect x="1136.3" y="685.1" width="6.4" height="2.7" fill="#fff"/>
<rect x="1142.7" y="685.1" width="7.9" height="2.7" fill="#fff"/>
<rect x="1150.6" y="685.1" width="7.3" height="2.7" fill="#999"/>
<rect x="1165" y="685.1" width="2.5" height="2.7" fill="#fff"/>
<line x1="1170" y1="685.5" x2="1175" y2="687.5" stroke="#e00" stroke-width="1"/>
<line x1="1170" y1="687.5" x2="1175" y2="685.5" stroke="#e00" stroke-width="1"/>
<rect x="1175" y="683.8" width="66" height="5.4" rx="2.7" fill="#000"/>
<rect x="1177.5" y="685.1" width="6.2" height="2.7" fill="#fff"/>
<rect x="1183.7" y="685.1" width="3.6" height="2.7" fill="#fff"/>
<rect x="1194.5" y="685.1" width="6.8" height="2.7" fill="#fff"/>
<rect x="1201.3" y="685.1" width="7.5" height="2.7" fill="#fff"/>
<rect x="1208.8" y="685.1" width="3.4" height="2.7" fill="#fff"/>
<rect x="1212.2" y="685.1" width="4.5" height="2.7" fill="#fff"/>
<rect x="1216.7" y="685.1" width="5.4" height="2.7" fill="#fff"/>
<rect x="1227.5" y="685.1" width="5.9" height="2.7" fill="#fff"/>
<rect x="1175" y="685.5" width="10.8" height="2" fill="#9cc3e6"/>
<text x="1123.5" y="689.5" text-anchor="end" class="n">16</text>
</g>
<g id="chr17">
<rect x="1154.2" y="747" width="5.1" height="243.4" fill="#c9c9c9"/>
<polygon points="1127.1,766.5 1135,765 1150,766 1155.3,767 1155.3,779.8 1127.1,779.8" fill="#1551b6"/>
<polygon points="1159.3,859.6 1161.5,850.7 1165.9,841.9 1172.6,833 1177,824.1 1178.1,815.3 1180.3,804.2 1183.7,800.9 1188.1,794.2 1194.8,790.9 1201.4,785.3 1212.5,782.5 1228.5,780.9 1228.5,860 1159.3,860" fill="#d38c24"/>
<polygon points="1127.1,860.7 1135,861.8 1141.6,866.3 1148.2,872.9 1152.6,879.6 1154.9,885.1 1157,885.5 1127.1,885.5" fill="#d38c24"/>
<polygon points="1155,884.8 1228.5,884.8 1228.5,885.6 1155,885.6" fill="#edcc98"/>
<polygon points="1155.3,889.5 1161.5,888.4 1183.7,887.3 1228.5,885.8 1228.5,902.2 1155.3,902.2" fill="#b80e0b"/>
<polygon points="1127.1,901 1155.3,900.8 1155.3,902.4 1127.1,902.4" fill="#b80e0b"/>
<polygon points="1228.5,902.8 1216.9,910.6 1205.8,916.1 1194.8,920.6 1183.7,926.1 1174.8,930.5 1168.2,937.2 1159.3,943.8 1150.4,948.3 1134.9,951.6 1228.5,950.5" fill="#808080"/>
<polygon points="1127.1,952.7 1135,956 1141.6,962.7 1148.2,968.2 1155.3,976 1159.3,977.1 1228.5,981.1 1228.5,990.4 1127.1,990.4" fill="#808080"/>
<clipPath id="all17"><polygon points="1127.1,766.5 1135,765 1150,766 1155.3,767 1155.3,779.8 1127.1,779.8"/><polygon points="1159.3,859.6 1161.5,850.7 1165.9,841.9 1172.6,833 1177,824.1 1178.1,815.3 1180.3,804.2 1183.7,800.9 1188.1,794.2 1194.8,790.9 1201.4,785.3 1212.5,782.5 1228.5,780.9 1228.5,860 1159.3,860"/><polygon points="1127.1,860.7 1135,861.8 1141.6,866.3 1148.2,872.9 1152.6,879.6 1154.9,885.1 1157,885.5 1127.1,885.5"/><polygon points="1155.3,889.5 1161.5,888.4 1183.7,887.3 1228.5,885.8 1228.5,902.2 1155.3,902.2"/><polygon points="1127.1,901 1155.3,900.8 1155.3,902.4 1127.1,902.4"/><polygon points="1228.5,902.8 1216.9,910.6 1205.8,916.1 1194.8,920.6 1183.7,926.1 1174.8,930.5 1168.2,937.2 1159.3,943.8 1150.4,948.3 1134.9,951.6 1228.5,950.5"/><polygon points="1127.1,952.7 1135,956 1141.6,962.7 1148.2,968.2 1155.3,976 1159.3,977.1 1228.5,981.1 1228.5,990.4 1127.1,990.4"/></clipPath>
<g clip-path="url(#all17)">
<line x1="1210.1" y1="917.8" x2="1228.5" y2="917.8" stroke="#d0d0d0" stroke-width="0.7"/>
<line x1="1190.3" y1="920.9" x2="1228.5" y2="920.9" stroke="#d0d0d0" stroke-width="0.7"/>
<line x1="1214.7" y1="924" x2="1228.5" y2="924" stroke="#d0d0d0" stroke-width="0.7"/>
<line x1="1206.2" y1="926.8" x2="1228.5" y2="926.8" stroke="#d0d0d0" stroke-width="0.7"/>
<line x1="1203.7" y1="929.4" x2="1228.5" y2="929.4" stroke="#d0d0d0" stroke-width="0.7"/>
<line x1="1219" y1="934" x2="1228.5" y2="934" stroke="#d0d0d0" stroke-width="0.7"/>
<line x1="1205.1" y1="937.3" x2="1228.5" y2="937.3" stroke="#d0d0d0" stroke-width="0.7"/>
<line x1="1215.4" y1="939.9" x2="1228.5" y2="939.9" stroke="#d0d0d0" stroke-width="0.7"/>
<line x1="1191.9" y1="943.3" x2="1228.5" y2="943.3" stroke="#d0d0d0" stroke-width="0.7"/>
<line x1="1207.4" y1="947.5" x2="1228.5" y2="947.5" stroke="#d0d0d0" stroke-width="0.7"/>
</g>
<line x1="1163.7" y1="751" x2="1163.7" y2="762" stroke="#1551b6" stroke-width="0.8"/>
<line x1="1159.3" y1="762.5" x2="1228.5" y2="762.5" stroke="#a9bfe6" stroke-width="0.6"/>
<line x1="1155.3" y1="780.7" x2="1228.5" y2="780.7" stroke="#a9bfe6" stroke-width="0.6"/>
<line x1="1174.8" y1="750.5" x2="1228.5" y2="747.2" stroke="#1551b6" stroke-width="0.6"/>
<line x1="1135" y1="764" x2="1155" y2="763.5" stroke="#a9bfe6" stroke-width="0.6"/>
<line x1="1185" y1="889.5" x2="1228.5" y2="889.2" stroke="#ffffff" stroke-width="0.8"/>
<rect x="1127" y="999.7" width="27" height="5.4" rx="2.7" fill="#000"/>
<rect x="1129.5" y="1001" width="4.2" height="2.7" fill="#fff"/>
<rect x="1133.7" y="1001" width="4.5" height="2.7" fill="#fff"/>
<rect x="1138.2" y="1001" width="4.5" height="2.7" fill="#999"/>
<rect x="1142.6" y="1001" width="3.6" height="2.7" fill="#999"/>
<rect x="1146.2" y="1001" width="2.1" height="2.7" fill="#fff"/>
<rect x="1148.2" y="1001" width="3.3" height="2.7" fill="#fff"/>
<line x1="1154" y1="1001.4" x2="1159.5" y2="1003.4" stroke="#e00" stroke-width="1"/>
<line x1="1154" y1="1003.4" x2="1159.5" y2="1001.4" stroke="#e00" stroke-width="1"/>
<rect x="1159.5" y="999.7" width="70" height="5.4" rx="2.7" fill="#000"/>
<rect x="1162" y="1001" width="6.5" height="2.7" fill="#fff"/>
<rect x="1178.7" y="1001" width="6.8" height="2.7" fill="#999"/>
<rect x="1185.6" y="1001" width="2.2" height="2.7" fill="#fff"/>
<rect x="1187.7" y="1001" width="5.8" height="2.7" fill="#fff"/>
<rect x="1193.5" y="1001" width="3.3" height="2.7" fill="#fff"/>
<rect x="1196.8" y="1001" width="3.5" height="2.7" fill="#999"/>
<rect x="1200.4" y="1001" width="4.1" height="2.7" fill="#fff"/>
<rect x="1210.3" y="1001" width="3.8" height="2.7" fill="#fff"/>
<rect x="1214.1" y="1001" width="7.8" height="2.7" fill="#999"/>
<rect x="1221.9" y="1001" width="5.1" height="2.7" fill="#fff"/>
<text x="1124.5" y="1006.5" text-anchor="end" class="n">17</text>
</g>
<g id="chr18">
<rect x="1145.9" y="1063.1" width="4.9" height="112.3" fill="#c9c9c9"/>
<polygon points="1127.2,1068.2 1132.5,1067.2 1142.2,1066.9 1144.3,1069.3 1147.5,1072 1150,1072.8 1127.2,1072.8" fill="#1551b6"/>
<polygon points="1200,1065.8 1218,1064 1224.9,1063.4 1224.9,1066 1200,1066.2" fill="#1551b6"/>
<polygon points="1143.2,1086.7 1150.8,1085.4 1152.9,1082.7 1159.3,1080 1164.7,1078.7 1180.8,1077.7 1191.5,1076.3 1202.2,1075.2 1224.9,1073.1 1224.9,1086.7" fill="#d38c24"/>
<polygon points="1127.2,1087 1132.5,1087.5 1145.4,1090.5 1147,1091 1127.2,1091" fill="#d38c24"/>
<polygon points="1145,1090.4 1224.9,1090.4 1224.9,1091.1 1145,1091.1" fill="#edcc98"/>
<polygon points="1127.2,1095.9 1146.5,1095.6 1170,1093.4 1186.1,1092 1202.2,1091.6 1224.9,1091.3 1224.9,1127 1127.2,1127" fill="#b80e0b"/>
<polygon points="1224.9,1127.7 1218.3,1128.8 1207.6,1132.6 1191.5,1135.8 1180.8,1139 1170.1,1141.7 1159.3,1145.4 1152.9,1148.6 1150.8,1151.3 1143.2,1152.7 1135.7,1154.5 1224.9,1154.5" fill="#808080"/>
<polygon points="1127.2,1155.1 1132.5,1155.6 1137.9,1157.2 1142.2,1160.4 1145.4,1162.8 1159.3,1163.6 1224.9,1165.8 1224.9,1174.7 1127.2,1174.7" fill="#808080"/>
<clipPath id="all18"><polygon points="1127.2,1068.2 1132.5,1067.2 1142.2,1066.9 1144.3,1069.3 1147.5,1072 1150,1072.8 1127.2,1072.8"/><polygon points="1200,1065.8 1218,1064 1224.9,1063.4 1224.9,1066 1200,1066.2"/><polygon points="1143.2,1086.7 1150.8,1085.4 1152.9,1082.7 1159.3,1080 1164.7,1078.7 1180.8,1077.7 1191.5,1076.3 1202.2,1075.2 1224.9,1073.1 1224.9,1086.7"/><polygon points="1127.2,1087 1132.5,1087.5 1145.4,1090.5 1147,1091 1127.2,1091"/><polygon points="1127.2,1095.9 1146.5,1095.6 1170,1093.4 1186.1,1092 1202.2,1091.6 1224.9,1091.3 1224.9,1127 1127.2,1127"/><polygon points="1224.9,1127.7 1218.3,1128.8 1207.6,1132.6 1191.5,1135.8 1180.8,1139 1170.1,1141.7 1159.3,1145.4 1152.9,1148.6 1150.8,1151.3 1143.2,1152.7 1135.7,1154.5 1224.9,1154.5"/><polygon points="1127.2,1155.1 1132.5,1155.6 1137.9,1157.2 1142.2,1160.4 1145.4,1162.8 1159.3,1163.6 1224.9,1165.8 1224.9,1174.7 1127.2,1174.7"/></clipPath>
<g clip-path="url(#all18)">
<line x1="1194.9" y1="1135.6" x2="1224.9" y2="1135.6" stroke="#d0d0d0" stroke-width="0.7"/>
<line x1="1194.7" y1="1138.6" x2="1224.9" y2="1138.6" stroke="#d0d0d0" stroke-width="0.7"/>
<line x1="1193.5" y1="1141.2" x2="1224.9" y2="1141.2" stroke="#d0d0d0" stroke-width="0.7"/>
<line x1="1206.9" y1="1144.1" x2="1224.9" y2="1144.1" stroke="#d0d0d0" stroke-width="0.7"/>
<line x1="1214.2" y1="1146.2" x2="1224.9" y2="1146.2" stroke="#d0d0d0" stroke-width="0.7"/>
<line x1="1219.2" y1="1147.9" x2="1224.9" y2="1147.9" stroke="#d0d0d0" stroke-width="0.7"/>
<line x1="1194.9" y1="1151.5" x2="1224.9" y2="1151.5" stroke="#d0d0d0" stroke-width="0.7"/>
</g>
<line x1="1127.2" y1="1072.5" x2="1224.9" y2="1072.5" stroke="#a9bfe6" stroke-width="0.7"/>
<line x1="1170" y1="1066.4" x2="1173" y2="1066.4" stroke="#1551b6" stroke-width="0.8"/>
<line x1="1195" y1="1065.5" x2="1200" y2="1065.5" stroke="#1551b6" stroke-width="0.6"/>
<rect x="1126" y="1183.3" width="19" height="5.4" rx="2.7" fill="#000"/>
<rect x="1128.5" y="1184.7" width="5.1" height="2.7" fill="#999"/>
<rect x="1133.6" y="1184.7" width="7.8" height="2.7" fill="#fff"/>
<rect x="1141.4" y="1184.7" width="1.1" height="2.7" fill="#999"/>
<line x1="1145" y1="1185" x2="1150.5" y2="1187" stroke="#e00" stroke-width="1"/>
<line x1="1145" y1="1187" x2="1150.5" y2="1185" stroke="#e00" stroke-width="1"/>
<rect x="1150.5" y="1183.3" width="75.5" height="5.4" rx="2.7" fill="#000"/>
<rect x="1153" y="1184.7" width="6" height="2.7" fill="#fff"/>
<rect x="1159" y="1184.7" width="2.2" height="2.7" fill="#fff"/>
<rect x="1161.1" y="1184.7" width="6.5" height="2.7" fill="#fff"/>
<rect x="1167.6" y="1184.7" width="5" height="2.7" fill="#fff"/>
<rect x="1184.1" y="1184.7" width="2.4" height="2.7" fill="#999"/>
<rect x="1186.5" y="1184.7" width="7.3" height="2.7" fill="#fff"/>
<rect x="1193.7" y="1184.7" width="6.2" height="2.7" fill="#fff"/>
<rect x="1200" y="1184.7" width="7.7" height="2.7" fill="#fff"/>
<rect x="1212.9" y="1184.7" width="5.8" height="2.7" fill="#fff"/>
<text x="1123.5" y="1189.5" text-anchor="end" class="n">18</text>
</g>
<g id="chr19">
<rect x="1157.1" y="1246.1" width="4.9" height="137.1" fill="#c9c9c9"/>
<polygon points="1127.2,1248.2 1148,1248.2 1151,1249.6 1127.2,1249.8" fill="#7d9ad8"/>
<polygon points="1162.4,1268.8 1165.3,1266.6 1171.2,1264.3 1177,1262.9 1182.9,1260.8 1188.8,1259 1194.6,1257.3 1195.8,1251.4 1198.1,1250 1201.1,1249.3 1201.1,1268.8" fill="#d38c24"/>
<polygon points="1127.2,1269 1131.3,1270.7 1136,1275.4 1141.9,1279.5 1146.6,1281.9 1150.1,1284.8 1152.4,1287.7 1157.1,1289.5 1160,1289.7 1127.2,1289.7" fill="#d38c24"/>
<polygon points="1127.2,1290.8 1201.1,1289.5 1201.1,1292.8 1127.2,1292.8" fill="#b80e0b"/>
<polygon points="1201.1,1292.9 1197,1296 1194.6,1299.5 1191.1,1302.4 1187.6,1306.5 1182.9,1314.7 1177,1321.7 1172.3,1327.6 1167.7,1335.8 1163,1342.8 1162.4,1345.7 1147.7,1348.1 1134.8,1349.3 1201.1,1347.5" fill="#808080"/>
<clipPath id="lg19_5"><polygon points="1134.8,1349.3 1201.1,1347.5 1201.1,1350.4"/></clipPath>
<g clip-path="url(#lg19_5)"><rect x="1134.8" y="1347.5" width="22" height="0.7" fill="#cfcfcf"/><rect x="1134.8" y="1348.2" width="66.3" height="0.8" fill="#a4a4a4"/><rect x="1134.8" y="1349" width="66.3" height="0.7" fill="#cfcfcf"/><rect x="1134.8" y="1349.6" width="35.5" height="0.7" fill="#a4a4a4"/><rect x="1134.8" y="1350.3" width="34" height="1.1" fill="#cfcfcf"/></g>
<polygon points="1127.2,1350.4 1133.7,1352.8 1140.7,1355.1 1144.2,1357.5 1148.9,1363.9 1155.9,1371.5 1163,1372.7 1177,1373.9 1201.1,1373.9 1201.1,1382.9 1127.2,1382.9" fill="#808080"/>
<clipPath id="all19"><polygon points="1127.2,1248.2 1148,1248.2 1151,1249.6 1127.2,1249.8"/><polygon points="1162.4,1268.8 1165.3,1266.6 1171.2,1264.3 1177,1262.9 1182.9,1260.8 1188.8,1259 1194.6,1257.3 1195.8,1251.4 1198.1,1250 1201.1,1249.3 1201.1,1268.8"/><polygon points="1127.2,1269 1131.3,1270.7 1136,1275.4 1141.9,1279.5 1146.6,1281.9 1150.1,1284.8 1152.4,1287.7 1157.1,1289.5 1160,1289.7 1127.2,1289.7"/><polygon points="1127.2,1290.8 1201.1,1289.5 1201.1,1292.8 1127.2,1292.8"/><polygon points="1201.1,1292.9 1197,1296 1194.6,1299.5 1191.1,1302.4 1187.6,1306.5 1182.9,1314.7 1177,1321.7 1172.3,1327.6 1167.7,1335.8 1163,1342.8 1162.4,1345.7 1147.7,1348.1 1134.8,1349.3 1201.1,1347.5"/><polygon points="1134.8,1349.3 1201.1,1347.5 1201.1,1350.4"/><polygon points="1127.2,1350.4 1133.7,1352.8 1140.7,1355.1 1144.2,1357.5 1148.9,1363.9 1155.9,1371.5 1163,1372.7 1177,1373.9 1201.1,1373.9 1201.1,1382.9 1127.2,1382.9"/></clipPath>
<g clip-path="url(#all19)">
</g>
<line x1="1127.2" y1="1249.2" x2="1201.1" y2="1249.2" stroke="#a9bfe6" stroke-width="0.7"/>
<rect x="1126" y="1391.7" width="31" height="5.4" rx="2.7" fill="#000"/>
<rect x="1128.5" y="1393.1" width="3.1" height="2.7" fill="#999"/>
<rect x="1131.6" y="1393.1" width="4" height="2.7" fill="#fff"/>
<rect x="1135.6" y="1393.1" width="4.9" height="2.7" fill="#fff"/>
<rect x="1140.5" y="1393.1" width="4.9" height="2.7" fill="#fff"/>
<rect x="1145.4" y="1393.1" width="3.6" height="2.7" fill="#fff"/>
<rect x="1149" y="1393.1" width="5.5" height="2.7" fill="#fff"/>
<line x1="1157" y1="1393.4" x2="1162" y2="1395.4" stroke="#e00" stroke-width="1"/>
<line x1="1157" y1="1395.4" x2="1162" y2="1393.4" stroke="#e00" stroke-width="1"/>
<rect x="1162" y="1391.7" width="40" height="5.4" rx="2.7" fill="#000"/>
<rect x="1164.5" y="1393.1" width="6" height="2.7" fill="#999"/>
<rect x="1177.7" y="1393.1" width="3.4" height="2.7" fill="#fff"/>
<rect x="1181.2" y="1393.1" width="6.4" height="2.7" fill="#fff"/>
<rect x="1187.6" y="1393.1" width="3.2" height="2.7" fill="#999"/>
<rect x="1190.8" y="1393.1" width="7.2" height="2.7" fill="#999"/>
<rect x="1198" y="1393.1" width="1.5" height="2.7" fill="#fff"/>
<rect x="1155" y="1393.4" width="2" height="2" fill="#9cc3e6"/>
<text x="1123.5" y="1398" text-anchor="end" class="n">19</text>
</g>
<g id="chr20">
<rect x="1350.1" y="121.9" width="4.6" height="343.6" fill="#c9c9c9"/>
<polygon points="1380.7,122.3 1374,125 1369,126.1 1365.6,132 1363.1,142.1 1363,143.6 1395.8,143.6 1387.5,141 1384.1,135.4 1380.7,128.6 1383,124" fill="#1551b6"/>
<polygon points="1363,143.8 1367.3,143.8 1374,147.1 1380.7,151.3 1390.8,153.8 1362.3,153.8" fill="#1551b6"/>
<polygon points="1362.3,154.7 1367.3,154.7 1375.7,158.9 1380.7,163.1 1392.5,165.6 1360.6,165.6" fill="#1551b6"/>
<polygon points="1360.6,166.4 1367.3,166.4 1377.4,170.6 1380.7,174 1390.8,175.7 1359.8,175.7" fill="#1551b6"/>
<polygon points="1359.8,175.9 1367.3,175.9 1375.7,179 1380.7,183.2 1392.5,184.9 1358.1,184.9" fill="#1551b6"/>
<polygon points="1358.1,185.1 1367.3,185.2 1374,189.1 1379.1,195.8 1384.1,200 1395.8,201.2 1357.2,201.2" fill="#1551b6"/>
<polygon points="1357.2,201.7 1370.7,202.5 1374,219.3 1377.4,236.1 1380.7,252.9 1382.4,263 1389.1,267.2 1395.8,269.3 1356.4,269.5" fill="#1551b6"/>
<polygon points="1356.4,269.9 1367.3,270.5 1372.3,274.7 1377.4,281.4 1379.1,291.5 1382.4,299.9 1389.1,302.4 1390.8,305 1380.7,308.5 1356.4,309.1" fill="#1551b6"/>
<polygon points="1317.3,312.5 1335.7,310.2 1347.9,307.5 1349.3,305.4 1356.1,304.1 1356.1,311.5 1317.3,311.5" fill="#1551b6"/>
<polygon points="1317.3,311.4 1396.4,311.4 1396.4,313.3 1317.3,313.3" fill="#1551b6"/>
<polygon points="1343.2,370.7 1347.9,368.6 1353.4,365.2 1354.7,362.5 1356.1,354.3 1358.1,348.9 1360.2,342.1 1362.2,336 1365.6,331.3 1369.7,326.5 1375.1,321.7 1381.9,317.7 1388.7,314.9 1396.4,313.6 1396.4,370.7" fill="#d38c24"/>
<polygon points="1317.6,371.3 1331.6,372 1343.9,373.1 1350.7,374.5 1352,375.4 1317.6,375.4" fill="#d38c24"/>
<polygon points="1350,374.6 1396.4,374.6 1396.4,375.5 1350,375.5" fill="#edcc98"/>
<polygon points="1317.6,376 1350.7,376.3 1350.7,377 1317.6,377" fill="#b80e0b"/>
<polygon points="1350.7,376.3 1396.4,376.3 1396.4,377 1350.7,377" fill="#e6a4a4"/>
<polygon points="1396.4,377.4 1388.7,380.8 1377.8,384.2 1371,387 1365.6,391 1362.9,397.8 1360.2,403.3 1358.1,408.7 1356.1,415.5 1354.7,418.2 1347.9,418.9 1341.1,422.3 1331.6,425 1320.8,427.7 1396.4,427.7" fill="#808080"/>
<polygon points="1317.6,428 1323.5,432.5 1331.6,437.2 1341.1,441.3 1347.9,448.8 1354.7,450.1 1396.4,452.2 1396.4,465.1 1317.6,465.1" fill="#808080"/>
<clipPath id="all20"><polygon points="1380.7,122.3 1374,125 1369,126.1 1365.6,132 1363.1,142.1 1363,143.6 1395.8,143.6 1387.5,141 1384.1,135.4 1380.7,128.6 1383,124"/><polygon points="1363,143.8 1367.3,143.8 1374,147.1 1380.7,151.3 1390.8,153.8 1362.3,153.8"/><polygon points="1362.3,154.7 1367.3,154.7 1375.7,158.9 1380.7,163.1 1392.5,165.6 1360.6,165.6"/><polygon points="1360.6,166.4 1367.3,166.4 1377.4,170.6 1380.7,174 1390.8,175.7 1359.8,175.7"/><polygon points="1359.8,175.9 1367.3,175.9 1375.7,179 1380.7,183.2 1392.5,184.9 1358.1,184.9"/><polygon points="1358.1,185.1 1367.3,185.2 1374,189.1 1379.1,195.8 1384.1,200 1395.8,201.2 1357.2,201.2"/><polygon points="1357.2,201.7 1370.7,202.5 1374,219.3 1377.4,236.1 1380.7,252.9 1382.4,263 1389.1,267.2 1395.8,269.3 1356.4,269.5"/><polygon points="1356.4,269.9 1367.3,270.5 1372.3,274.7 1377.4,281.4 1379.1,291.5 1382.4,299.9 1389.1,302.4 1390.8,305 1380.7,308.5 1356.4,309.1"/><polygon points="1317.3,312.5 1335.7,310.2 1347.9,307.5 1349.3,305.4 1356.1,304.1 1356.1,311.5 1317.3,311.5"/><polygon points="1317.3,311.4 1396.4,311.4 1396.4,313.3 1317.3,313.3"/><polygon points="1343.2,370.7 1347.9,368.6 1353.4,365.2 1354.7,362.5 1356.1,354.3 1358.1,348.9 1360.2,342.1 1362.2,336 1365.6,331.3 1369.7,326.5 1375.1,321.7 1381.9,317.7 1388.7,314.9 1396.4,313.6 1396.4,370.7"/><polygon points="1317.6,371.3 1331.6,372 1343.9,373.1 1350.7,374.5 1352,375.4 1317.6,375.4"/><polygon points="1317.6,376 1350.7,376.3 1350.7,377 1317.6,377"/><polygon points="1396.4,377.4 1388.7,380.8 1377.8,384.2 1371,387 1365.6,391 1362.9,397.8 1360.2,403.3 1358.1,408.7 1356.1,415.5 1354.7,418.2 1347.9,418.9 1341.1,422.3 1331.6,425 1320.8,427.7 1396.4,427.7"/><polygon points="1317.6,428 1323.5,432.5 1331.6,437.2 1341.1,441.3 1347.9,448.8 1354.7,450.1 1396.4,452.2 1396.4,465.1 1317.6,465.1"/></clipPath>
<g clip-path="url(#all20)">
<line x1="1372.2" y1="387.5" x2="1396.4" y2="387.5" stroke="#c8c8c8" stroke-width="0.7"/>
<line x1="1380.6" y1="388.9" x2="1396.4" y2="388.9" stroke="#c8c8c8" stroke-width="0.7"/>
<line x1="1380.9" y1="390.8" x2="1396.4" y2="390.8" stroke="#c8c8c8" stroke-width="0.7"/>
<line x1="1369.9" y1="391.5" x2="1396.4" y2="391.5" stroke="#c8c8c8" stroke-width="0.7"/>
<line x1="1390.6" y1="393.1" x2="1396.4" y2="393.1" stroke="#c8c8c8" stroke-width="0.7"/>
<line x1="1373.9" y1="395.6" x2="1396.4" y2="395.6" stroke="#c8c8c8" stroke-width="0.7"/>
<line x1="1372.9" y1="396.9" x2="1396.4" y2="396.9" stroke="#c8c8c8" stroke-width="0.7"/>
<line x1="1377.5" y1="398.1" x2="1396.4" y2="398.1" stroke="#c8c8c8" stroke-width="0.7"/>
<line x1="1378.1" y1="399.2" x2="1396.4" y2="399.2" stroke="#c8c8c8" stroke-width="0.7"/>
<line x1="1383.9" y1="401.6" x2="1396.4" y2="401.6" stroke="#c8c8c8" stroke-width="0.7"/>
<line x1="1371.1" y1="402.5" x2="1396.4" y2="402.5" stroke="#c8c8c8" stroke-width="0.7"/>
<line x1="1389.6" y1="403.6" x2="1396.4" y2="403.6" stroke="#c8c8c8" stroke-width="0.7"/>
<line x1="1379.5" y1="406" x2="1396.4" y2="406" stroke="#c8c8c8" stroke-width="0.7"/>
<line x1="1370.5" y1="407.5" x2="1396.4" y2="407.5" stroke="#c8c8c8" stroke-width="0.7"/>
<line x1="1390.7" y1="408.8" x2="1396.4" y2="408.8" stroke="#c8c8c8" stroke-width="0.7"/>
<line x1="1380.5" y1="410.6" x2="1396.4" y2="410.6" stroke="#c8c8c8" stroke-width="0.7"/>
<line x1="1382" y1="413.1" x2="1396.4" y2="413.1" stroke="#c8c8c8" stroke-width="0.7"/>
<line x1="1369.5" y1="413.5" x2="1396.4" y2="413.5" stroke="#c8c8c8" stroke-width="0.7"/>
<line x1="1370.6" y1="415.1" x2="1396.4" y2="415.1" stroke="#c8c8c8" stroke-width="0.7"/>
<line x1="1371.7" y1="416.7" x2="1396.4" y2="416.7" stroke="#c8c8c8" stroke-width="0.7"/>
<line x1="1379" y1="418.5" x2="1396.4" y2="418.5" stroke="#c8c8c8" stroke-width="0.7"/>
<line x1="1376.7" y1="420.2" x2="1396.4" y2="420.2" stroke="#c8c8c8" stroke-width="0.7"/>
<line x1="1373.4" y1="422" x2="1396.4" y2="422" stroke="#c8c8c8" stroke-width="0.7"/>
<line x1="1373.5" y1="424.3" x2="1396.4" y2="424.3" stroke="#c8c8c8" stroke-width="0.7"/>
<line x1="1377.1" y1="425.4" x2="1396.4" y2="425.4" stroke="#c8c8c8" stroke-width="0.7"/>
<line x1="1372.1" y1="390.4" x2="1396.4" y2="390.4" stroke="#eeeeee" stroke-width="0.8"/>
<line x1="1388.9" y1="397" x2="1396.4" y2="397" stroke="#eeeeee" stroke-width="0.8"/>
<line x1="1377.2" y1="397.1" x2="1396.4" y2="397.1" stroke="#eeeeee" stroke-width="0.8"/>
<line x1="1386.9" y1="405.7" x2="1396.4" y2="405.7" stroke="#eeeeee" stroke-width="0.8"/>
<line x1="1388" y1="408.5" x2="1396.4" y2="408.5" stroke="#eeeeee" stroke-width="0.8"/>
<line x1="1386.4" y1="411" x2="1396.4" y2="411" stroke="#eeeeee" stroke-width="0.8"/>
<line x1="1377.5" y1="415.8" x2="1396.4" y2="415.8" stroke="#eeeeee" stroke-width="0.8"/>
<line x1="1378.8" y1="423.7" x2="1396.4" y2="423.7" stroke="#eeeeee" stroke-width="0.8"/>
</g>
<rect x="1317" y="474.1" width="33" height="5.4" rx="2.7" fill="#000"/>
<rect x="1319.5" y="475.4" width="6.1" height="2.7" fill="#999"/>
<rect x="1325.6" y="475.4" width="5.1" height="2.7" fill="#fff"/>
<rect x="1335" y="475.4" width="3.7" height="2.7" fill="#fff"/>
<rect x="1338.8" y="475.4" width="3.6" height="2.7" fill="#fff"/>
<rect x="1342.3" y="475.4" width="4" height="2.7" fill="#fff"/>
<rect x="1346.3" y="475.4" width="1.2" height="2.7" fill="#fff"/>
<line x1="1350" y1="475.8" x2="1354.5" y2="477.8" stroke="#e00" stroke-width="1"/>
<line x1="1350" y1="477.8" x2="1354.5" y2="475.8" stroke="#e00" stroke-width="1"/>
<rect x="1354.5" y="474.1" width="43.5" height="5.4" rx="2.7" fill="#000"/>
<rect x="1357" y="475.4" width="3.9" height="2.7" fill="#fff"/>
<rect x="1360.9" y="475.4" width="3.2" height="2.7" fill="#fff"/>
<rect x="1364.1" y="475.4" width="3.2" height="2.7" fill="#fff"/>
<rect x="1367.3" y="475.4" width="4.3" height="2.7" fill="#999"/>
<rect x="1371.6" y="475.4" width="6.8" height="2.7" fill="#fff"/>
<rect x="1378.4" y="475.4" width="2.6" height="2.7" fill="#999"/>
<rect x="1381" y="475.4" width="6.5" height="2.7" fill="#fff"/>
<rect x="1387.6" y="475.4" width="5.9" height="2.7" fill="#fff"/>
<rect x="1393.5" y="475.4" width="2" height="2.7" fill="#999"/>
<text x="1314.5" y="480.5" text-anchor="end" class="n">20</text>
</g>
<g id="chr21">
<rect x="1317.1" y="537.1" width="18.7" height="461.7" fill="#e4e4e4"/>
<rect x="1331.1" y="537.1" width="4.7" height="461.7" fill="#c9c9c9"/>
<polygon points="1335.7,546.5 1363.6,545 1371,540.4 1377.9,537.7 1377.9,550.7 1335.7,550.7" fill="#1551b6"/>
<polygon points="1335.7,558.1 1350.6,556.2 1358,553.4 1367.3,552 1377.9,551.6 1377.9,561.8 1335.7,561.8" fill="#d38c24"/>
<polygon points="1345,563.7 1377.9,563.1 1377.9,765.6 1335.7,765.6 1335.7,616.6 1336.7,615.7 1337.6,598 1339.5,585 1341.3,572" fill="#b80e0b"/>
<polygon points="1378,766.2 1372.6,773.5 1366.8,785.1 1361,796.7 1355.2,810.2 1351.4,823.7 1347.5,841 1345.6,856.5 1342.7,871.9 1339.8,889.2 1336.9,906.6 1335.9,918.4 1378,918.4" fill="#808080"/>
<polygon points="1335.9,919.8 1368.7,921.1 1378,923.6 1378,998.8 1335.9,998.8" fill="#808080"/>
<clipPath id="all21"><polygon points="1335.7,546.5 1363.6,545 1371,540.4 1377.9,537.7 1377.9,550.7 1335.7,550.7"/><polygon points="1335.7,558.1 1350.6,556.2 1358,553.4 1367.3,552 1377.9,551.6 1377.9,561.8 1335.7,561.8"/><polygon points="1345,563.7 1377.9,563.1 1377.9,765.6 1335.7,765.6 1335.7,616.6 1336.7,615.7 1337.6,598 1339.5,585 1341.3,572"/><polygon points="1378,766.2 1372.6,773.5 1366.8,785.1 1361,796.7 1355.2,810.2 1351.4,823.7 1347.5,841 1345.6,856.5 1342.7,871.9 1339.8,889.2 1336.9,906.6 1335.9,918.4 1378,918.4"/><polygon points="1335.9,919.8 1368.7,921.1 1378,923.6 1378,998.8 1335.9,998.8"/></clipPath>
<g clip-path="url(#all21)">
<line x1="1358.4" y1="794.6" x2="1378" y2="794.6" stroke="#d8d8d8" stroke-width="0.7"/>
<line x1="1366.4" y1="807.4" x2="1378" y2="807.4" stroke="#d8d8d8" stroke-width="0.7"/>
<line x1="1371.9" y1="813.1" x2="1378" y2="813.1" stroke="#d8d8d8" stroke-width="0.7"/>
<line x1="1369.3" y1="817.6" x2="1378" y2="817.6" stroke="#d8d8d8" stroke-width="0.7"/>
<line x1="1359.5" y1="827.7" x2="1378" y2="827.7" stroke="#d8d8d8" stroke-width="0.7"/>
<line x1="1368.3" y1="837.5" x2="1378" y2="837.5" stroke="#d8d8d8" stroke-width="0.7"/>
<line x1="1367.7" y1="852" x2="1378" y2="852" stroke="#d8d8d8" stroke-width="0.7"/>
<line x1="1357.3" y1="855.3" x2="1378" y2="855.3" stroke="#d8d8d8" stroke-width="0.7"/>
<line x1="1358.9" y1="864" x2="1378" y2="864" stroke="#d8d8d8" stroke-width="0.7"/>
<line x1="1364.2" y1="874.8" x2="1378" y2="874.8" stroke="#d8d8d8" stroke-width="0.7"/>
<line x1="1358.8" y1="880.3" x2="1378" y2="880.3" stroke="#d8d8d8" stroke-width="0.7"/>
<line x1="1367.6" y1="896.1" x2="1378" y2="896.1" stroke="#d8d8d8" stroke-width="0.7"/>
<line x1="1370.6" y1="898" x2="1378" y2="898" stroke="#d8d8d8" stroke-width="0.7"/>
<line x1="1361.9" y1="910.1" x2="1378" y2="910.1" stroke="#d8d8d8" stroke-width="0.7"/>
</g>
<line x1="1340" y1="616.3" x2="1377.9" y2="616.8" stroke="#ffffff" stroke-width="0.8"/>
<line x1="1335.7" y1="549.6" x2="1377.9" y2="549.6" stroke="#a9bfe6" stroke-width="0.6"/>
<rect x="1317" y="1007.6" width="4" height="5.4" rx="2" fill="#000"/>
<rect x="1321" y="1009.8" width="10" height="1" fill="#ccc"/>
<rect x="1324" y="1007.6" width="6" height="5.4" rx="1.5" fill="#000"/>
<rect x="1325" y="1009.3" width="4" height="2" fill="#9cc3e6"/>
<line x1="1330" y1="1010.3" x2="1336" y2="1010.3" stroke="#e00" stroke-width="1.2"/>
<rect x="1336" y="1007.6" width="43.5" height="5.4" rx="2.7" fill="#000"/>
<rect x="1338.5" y="1008.9" width="7.4" height="2.7" fill="#999"/>
<rect x="1352.5" y="1008.9" width="3.6" height="2.7" fill="#999"/>
<rect x="1363.5" y="1008.9" width="5.4" height="2.7" fill="#fff"/>
<rect x="1373.4" y="1008.9" width="2.6" height="2.7" fill="#fff"/>
<rect x="1376" y="1008.9" width="1" height="2.7" fill="#fff"/>
<text x="1314.5" y="1014" text-anchor="end" class="n">21</text>
</g>
<g id="chr22">
<rect x="1317.1" y="1071" width="21.1" height="312.4" fill="#e4e4e4"/>
<rect x="1333.1" y="1071" width="5.1" height="312.4" fill="#c9c9c9"/>
<polygon points="1338.4,1086 1347.9,1084.3 1350.7,1081.6 1353.4,1074.8 1354.7,1073.5 1361.5,1081.6 1362.9,1085.7 1362.9,1086.6 1338.4,1086.6" fill="#1551b6"/>
<polygon points="1338.4,1126.7 1339.8,1119.7 1342.5,1110.2 1345.2,1105.4 1347.9,1103.4 1354.7,1099.3 1361.5,1094.5 1368.3,1091.8 1375.1,1089.5 1381.6,1087.3 1381.6,1126.7" fill="#d38c24"/>
<polygon points="1338.4,1142.8 1341.1,1140.1 1346.6,1136 1354.7,1133.9 1361.5,1130.5 1368.3,1127.8 1381.6,1127.6 1381.6,1182.9 1338.4,1182.9" fill="#b80e0b"/>
<polygon points="1381.7,1183.1 1375.5,1189.4 1370.8,1195.6 1366.9,1201.9 1364.5,1211.3 1361.4,1220.7 1359,1230.1 1356.7,1239.5 1353.6,1247.3 1352,1255.1 1350.4,1266.1 1348.1,1277 1345.7,1286.4 1342.6,1297.4 1340.3,1308.3 1339.5,1320.8 1381.7,1320.8" fill="#808080"/>
<polygon points="1338.7,1322.4 1377,1324 1381.7,1325.5 1381.7,1382.7 1338.7,1382.7" fill="#808080"/>
<clipPath id="all22"><polygon points="1338.4,1086 1347.9,1084.3 1350.7,1081.6 1353.4,1074.8 1354.7,1073.5 1361.5,1081.6 1362.9,1085.7 1362.9,1086.6 1338.4,1086.6"/><polygon points="1338.4,1126.7 1339.8,1119.7 1342.5,1110.2 1345.2,1105.4 1347.9,1103.4 1354.7,1099.3 1361.5,1094.5 1368.3,1091.8 1375.1,1089.5 1381.6,1087.3 1381.6,1126.7"/><polygon points="1338.4,1142.8 1341.1,1140.1 1346.6,1136 1354.7,1133.9 1361.5,1130.5 1368.3,1127.8 1381.6,1127.6 1381.6,1182.9 1338.4,1182.9"/><polygon points="1381.7,1183.1 1375.5,1189.4 1370.8,1195.6 1366.9,1201.9 1364.5,1211.3 1361.4,1220.7 1359,1230.1 1356.7,1239.5 1353.6,1247.3 1352,1255.1 1350.4,1266.1 1348.1,1277 1345.7,1286.4 1342.6,1297.4 1340.3,1308.3 1339.5,1320.8 1381.7,1320.8"/><polygon points="1338.7,1322.4 1377,1324 1381.7,1325.5 1381.7,1382.7 1338.7,1382.7"/></clipPath>
<g clip-path="url(#all22)">
<line x1="1367.7" y1="1240.5" x2="1381.7" y2="1240.5" stroke="#d8d8d8" stroke-width="0.7"/>
<line x1="1374.8" y1="1248.4" x2="1381.7" y2="1248.4" stroke="#d8d8d8" stroke-width="0.7"/>
<line x1="1366.3" y1="1255.7" x2="1381.7" y2="1255.7" stroke="#d8d8d8" stroke-width="0.7"/>
<line x1="1361.2" y1="1263.6" x2="1381.7" y2="1263.6" stroke="#d8d8d8" stroke-width="0.7"/>
<line x1="1364.2" y1="1269.1" x2="1381.7" y2="1269.1" stroke="#d8d8d8" stroke-width="0.7"/>
<line x1="1376" y1="1274.1" x2="1381.7" y2="1274.1" stroke="#d8d8d8" stroke-width="0.7"/>
<line x1="1368.1" y1="1280.8" x2="1381.7" y2="1280.8" stroke="#d8d8d8" stroke-width="0.7"/>
<line x1="1355.5" y1="1286.8" x2="1381.7" y2="1286.8" stroke="#d8d8d8" stroke-width="0.7"/>
<line x1="1373.7" y1="1290.6" x2="1381.7" y2="1290.6" stroke="#d8d8d8" stroke-width="0.7"/>
<line x1="1364.8" y1="1298.5" x2="1381.7" y2="1298.5" stroke="#d8d8d8" stroke-width="0.7"/>
</g>
<line x1="1338.4" y1="1086.2" x2="1381.6" y2="1086.2" stroke="#a9bfe6" stroke-width="0.7"/>
<line x1="1360.2" y1="1072.4" x2="1381.6" y2="1071.4" stroke="#1551b6" stroke-width="0.6"/>
<line x1="1360" y1="1155" x2="1381.6" y2="1155.3" stroke="#ffffff" stroke-width="0.8"/>
<rect x="1317" y="1391.8" width="4" height="5.4" rx="2" fill="#000"/>
<rect x="1321" y="1394" width="12" height="1" fill="#ccc"/>
<rect x="1325" y="1391.8" width="7" height="5.4" rx="1.5" fill="#000"/>
<rect x="1326" y="1393.5" width="5" height="2" fill="#9cc3e6"/>
<line x1="1332" y1="1394.5" x2="1338.2" y2="1394.5" stroke="#e00" stroke-width="1.2"/>
<rect x="1338.2" y="1391.8" width="44.8" height="5.4" rx="2.7" fill="#000"/>
<rect x="1340.7" y="1393.2" width="3" height="2.7" fill="#999"/>
<rect x="1343.7" y="1393.2" width="5.8" height="2.7" fill="#fff"/>
<rect x="1349.5" y="1393.2" width="3.3" height="2.7" fill="#999"/>
<rect x="1352.8" y="1393.2" width="6.8" height="2.7" fill="#fff"/>
<rect x="1359.6" y="1393.2" width="5" height="2.7" fill="#fff"/>
<rect x="1364.7" y="1393.2" width="2" height="2.7" fill="#fff"/>
<rect x="1366.7" y="1393.2" width="5.5" height="2.7" fill="#fff"/>
<rect x="1372.2" y="1393.2" width="6.8" height="2.7" fill="#fff"/>
<rect x="1379" y="1393.2" width="1.5" height="2.7" fill="#fff"/>
<text x="1314.5" y="1398" text-anchor="end" class="n">22</text>
</g>
<text x="54.6" y="182.9" fill="#d38c24" font-style="italic" class="g" textLength="52.8" lengthAdjust="spacingAndGlyphs">MPL</text>
<text x="3.8" y="727.6" fill="#1551b6" font-style="italic" class="g" textLength="103.3" lengthAdjust="spacingAndGlyphs">DNMT3A</text>
<text x="61" y="975" fill="#1551b6" font-style="italic" class="g" textLength="157.2" lengthAdjust="spacingAndGlyphs">FOXP1–RYBP</text>
<text x="68" y="996.1" fill="#1551b6" font-style="italic" class="g" textLength="53.2" lengthAdjust="spacingAndGlyphs">FHIT</text>
<text x="121.7" y="1231" fill="#1551b6" font-style="italic" class="g" textLength="57.4" lengthAdjust="spacingAndGlyphs">TET2</text>
<text x="495.8" y="358.6" fill="#1551b6" class="g" textLength="76.7" lengthAdjust="spacingAndGlyphs">del(5q)</text>
<text x="520.6" y="609.9" fill="#1551b6" font-style="italic" class="g" textLength="98" lengthAdjust="spacingAndGlyphs">TNFAIP3</text>
<text x="483" y="1194.3" fill="#d38c24" font-style="italic" class="g" textLength="53.4" lengthAdjust="spacingAndGlyphs">NBN</text>
<text x="780.9" y="197.3" fill="#1551b6" font-style="italic" class="g" textLength="81" lengthAdjust="spacingAndGlyphs">ABCA1</text>
<text x="660" y="300.7" fill="#d38c24" font-style="italic" class="g" textLength="59.6" lengthAdjust="spacingAndGlyphs">JAK2</text>
<text x="764" y="594.1" fill="#1551b6" font-style="italic" class="g" textLength="63.8" lengthAdjust="spacingAndGlyphs">PTEN</text>
<text x="792.7" y="757.6" fill="#1551b6" font-style="italic" class="g" textLength="51.5" lengthAdjust="spacingAndGlyphs">ATM</text>
<text x="761.9" y="985.3" fill="#d38c24" font-style="italic" class="g" textLength="81.2" lengthAdjust="spacingAndGlyphs">MRE11</text>
<text x="668.2" y="1232.4" fill="#1551b6" font-style="italic" class="g" textLength="59" lengthAdjust="spacingAndGlyphs">ETV6</text>
<text x="933" y="246.1" fill="#1551b6" class="g" textLength="117.9" lengthAdjust="spacingAndGlyphs">del(13q14)</text>
<text x="925.2" y="528.7" fill="#1551b6" font-style="italic" class="g" textLength="48.9" lengthAdjust="spacingAndGlyphs">TRA</text>
<text x="1019" y="569.8" fill="#d38c24" font-style="italic" class="g" textLength="62.4" lengthAdjust="spacingAndGlyphs">DLK1</text>
<text x="1006.7" y="592" fill="#d38c24" font-style="italic" class="g" textLength="75.3" lengthAdjust="spacingAndGlyphs">TCL1A</text>
<text x="860" y="639.9" fill="#d38c24" font-style="italic" class="g" textLength="158.7" lengthAdjust="spacingAndGlyphs">NEDD8–TINF2</text>
<text x="1104.6" y="460.9" fill="#1551b6" class="g" textLength="138.2" lengthAdjust="spacingAndGlyphs">del(16p11.2)</text>
<text x="1210.8" y="563.6" fill="#d38c24" font-style="italic" class="g" textLength="63" lengthAdjust="spacingAndGlyphs">CTU2</text>
<text x="1142.3" y="723.3" fill="#1551b6" font-style="italic" class="g" textLength="46.4" lengthAdjust="spacingAndGlyphs">NF1</text>
<text x="1110.7" y="743.2" fill="#1551b6" font-style="italic" class="g" textLength="57.3" lengthAdjust="spacingAndGlyphs">TP53</text>
<text x="1327.7" y="113.2" fill="#1551b6" class="g" textLength="89.6" lengthAdjust="spacingAndGlyphs">del(20q)</text>
<text x="1318.1" y="1062.9" fill="#1551b6" font-style="italic" class="g" textLength="81.2" lengthAdjust="spacingAndGlyphs">CHEK2</text>
<rect x="542" y="16.5" width="50" height="4" fill="#1551b6"/>
<text x="601.5" y="25.8" class="l">Loss</text>
<rect x="542" y="44.5" width="50" height="4" fill="#d38c24"/>
<text x="601.5" y="53.4" class="l">CN-LOH</text>
<rect x="542" y="72.2" width="50" height="4" fill="#b80e0b"/>
<text x="601.5" y="81.4" class="l">Gain</text>
<rect x="542" y="100" width="50" height="4" fill="#808080"/>
<text x="601.5" y="109.1" class="l">Undetermined</text>
<rect x="842.6" y="0" width="19.2" height="72" fill="#e4e4e4"/>
<rect x="842.6" y="0" width="4.8" height="72" fill="#c9c9c9"/>
<text x="866.5" y="30" class="l">Untyped</text>
<text x="866.5" y="55.5" class="l">region</text>
<text x="785.5" y="94.5" class="l">Centromere</text>
</svg>
</body></html>
